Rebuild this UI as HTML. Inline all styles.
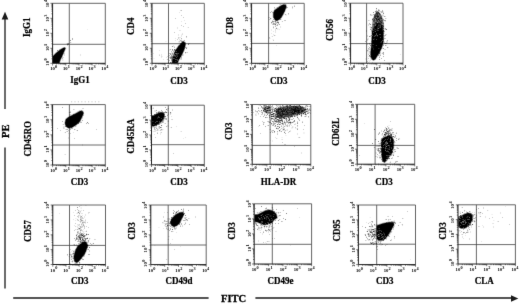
<!DOCTYPE html><html><head><meta charset="utf-8"><style>html,body{margin:0;padding:0;background:#fff;width:520px;height:304px;overflow:hidden}svg{display:block}text{font-family:"Liberation Serif",serif}</style></head><body>
<svg width="520" height="304" viewBox="0 0 520 304">
<rect width="520" height="304" fill="#fff"/>
<defs><filter id="bl" x="0" y="0" width="520" height="304" filterUnits="userSpaceOnUse" color-interpolation-filters="sRGB"><feConvolveMatrix order="3" kernelMatrix="0.0049 0.0602 0.0049 0.0602 0.7396 0.0602 0.0049 0.0602 0.0049" preserveAlpha="true" edgeMode="duplicate"/></filter></defs>
<g filter="url(#bl)">
<rect width="520" height="304" fill="#fff"/>
<g stroke="#1a1a1a" stroke-width="1.3" fill="none">
<line x1="5" y1="18" x2="5" y2="109"/><line x1="5" y1="147.5" x2="5" y2="288.5"/>
<line x1="13.2" y1="298" x2="208.6" y2="298"/><line x1="255.4" y1="298" x2="512" y2="298"/>
</g>
<path d="M5 11.8 L8.3 19.4 L1.7 19.4 Z" fill="#1a1a1a"/>
<path d="M518.3 298.5 L511 295.3 L511 301.7 Z" fill="#1a1a1a"/>
<line x1="71" y1="101.8" x2="100" y2="101.8" stroke="#bbb" stroke-width="0.8" stroke-dasharray="1.2 2.2"/>
<text x="0" y="0" font-size="10.6" font-weight="bold" stroke="#000" stroke-width="0.3" text-anchor="middle" transform="translate(9.4,131.2) rotate(-90)">PE</text>
<text x="233.6" y="302.4" font-size="10.6" font-weight="bold" stroke="#000" stroke-width="0.3" text-anchor="middle">FITC</text>
<clipPath id="c0"><rect x="52.6" y="3.3" width="52.7" height="60"/></clipPath>
<g stroke="#444" stroke-width="0.8" fill="none">
<line x1="69.3" y1="3.3" x2="69.3" y2="63.3"/>
<line x1="52.6" y1="44.3" x2="105.3" y2="44.3"/>
</g>
<g clip-path="url(#c0)">
<path fill="#000" stroke="#000" stroke-opacity="0.35" stroke-width="1.4" stroke-linejoin="round" d="M53 63.2 L53 56.2 L53.5 55.7 L55.9 53.3 L58.9 50.8 L61.8 48.8 L64.3 47.6 L65.5 48.2 L63.8 52.3 L61.8 56.7 L59.9 60.7 L59.4 63.2Z"/>
<path fill="#000" d="M60.57 55.48h0.6v0.6h-0.6zM57.77 54.2h0.6v0.6h-0.6zM57.22 54.45h0.6v0.6h-0.6zM62.68 57.02h0.6v0.6h-0.6zM57.86 55.13h0.6v0.6h-0.6zM61.63 54.45h0.6v0.6h-0.6zM58.42 53.26h0.6v0.6h-0.6zM61.28 56.18h0.6v0.6h-0.6zM56.53 57.35h0.6v0.6h-0.6zM53.86 57.3h0.6v0.6h-0.6zM56 58.85h0.6v0.6h-0.6zM58.08 58.35h0.6v0.6h-0.6zM59.94 54.34h0.6v0.6h-0.6zM54.12 59.92h0.6v0.6h-0.6zM60.12 55.29h0.6v0.6h-0.6zM56.13 57.75h0.6v0.6h-0.6zM56.56 55.95h0.6v0.6h-0.6zM60.5 51.26h0.6v0.6h-0.6zM61.63 56.5h0.6v0.6h-0.6zM58.66 56.16h0.6v0.6h-0.6zM60.34 54.85h0.6v0.6h-0.6zM57.78 57.94h0.6v0.6h-0.6zM59.66 49.39h0.6v0.6h-0.6zM61.89 53.22h0.6v0.6h-0.6zM62.59 59.69h0.6v0.6h-0.6zM59.17 51.32h0.6v0.6h-0.6zM61.25 55.76h0.6v0.6h-0.6zM60.94 56.53h0.6v0.6h-0.6zM61.15 56.23h0.6v0.6h-0.6zM61.48 50.61h0.6v0.6h-0.6zM59.5 53.79h0.6v0.6h-0.6zM57.97 52.8h0.6v0.6h-0.6zM58.51 56.02h0.6v0.6h-0.6zM63.93 54.77h0.6v0.6h-0.6zM55.93 56.76h0.6v0.6h-0.6zM57.43 50.31h0.6v0.6h-0.6zM58.92 55.91h0.6v0.6h-0.6zM63.74 53.22h0.6v0.6h-0.6zM58.66 55.16h0.6v0.6h-0.6zM62.44 58.02h0.6v0.6h-0.6zM67.03 44.54h0.6v0.6h-0.6zM68.54 43.29h0.6v0.6h-0.6zM66.86 43.56h0.6v0.6h-0.6zM67.67 43.71h0.6v0.6h-0.6zM70.52 42.4h0.6v0.6h-0.6zM68.43 44.52h0.6v0.6h-0.6zM72.26 39.22h0.6v0.6h-0.6zM72.4 38.42h0.6v0.6h-0.6zM70.42 40.07h0.6v0.6h-0.6z"/>
<path fill="#000" d="M60.14 60.13h0.4v0.4h-0.4zM86.89 29.41h0.4v0.4h-0.4zM80.19 54.75h0.4v0.4h-0.4z"/>
</g>
<path d="M52.6 3.3H105.3V63.3" stroke="#555" stroke-width="0.9" fill="none"/>
<path d="M52.6 3.3V63.3H105.3" stroke="#222" stroke-width="1.0" fill="none"/>
<path d="M52.6 63.3v2.2M52.6 63.3h-2.2M56.6 63.3v1.2M52.6 58.8h-1.2M58.9 63.3v1.2M52.6 56.1h-1.2M60.5 63.3v1.2M52.6 54.3h-1.2M61.8 63.3v1.2M52.6 52.8h-1.2M62.9 63.3v1.2M52.6 51.6h-1.2M63.7 63.3v1.2M52.6 50.6h-1.2M64.5 63.3v1.2M52.6 49.8h-1.2M65.2 63.3v1.2M52.6 49h-1.2M65.8 63.3v2.2M52.6 48.3h-2.2M69.7 63.3v1.2M52.6 43.8h-1.2M72.1 63.3v1.2M52.6 41.1h-1.2M73.7 63.3v1.2M52.6 39.3h-1.2M75 63.3v1.2M52.6 37.8h-1.2M76 63.3v1.2M52.6 36.6h-1.2M76.9 63.3v1.2M52.6 35.6h-1.2M77.7 63.3v1.2M52.6 34.8h-1.2M78.3 63.3v1.2M52.6 34h-1.2M79 63.3v2.2M52.6 33.3h-2.2M82.9 63.3v1.2M52.6 28.8h-1.2M85.2 63.3v1.2M52.6 26.1h-1.2M86.9 63.3v1.2M52.6 24.3h-1.2M88.2 63.3v1.2M52.6 22.8h-1.2M89.2 63.3v1.2M52.6 21.6h-1.2M90.1 63.3v1.2M52.6 20.6h-1.2M90.8 63.3v1.2M52.6 19.8h-1.2M91.5 63.3v1.2M52.6 19h-1.2M92.1 63.3v2.2M52.6 18.3h-2.2M96.1 63.3v1.2M52.6 13.8h-1.2M98.4 63.3v1.2M52.6 11.1h-1.2M100.1 63.3v1.2M52.6 9.3h-1.2M101.3 63.3v1.2M52.6 7.8h-1.2M102.4 63.3v1.2M52.6 6.6h-1.2M103.3 63.3v1.2M52.6 5.6h-1.2M104 63.3v1.2M52.6 4.8h-1.2M104.7 63.3v1.2M52.6 4h-1.2M105.3 63.3v2.2M52.6 3.3h-2.2" stroke="#222" stroke-width="0.6" fill="none"/>
<text x="52.5" y="70.4" font-size="4.7" fill="#000" font-weight="bold" text-anchor="middle">10</text>
<text x="55" y="68.2" font-size="4.3" fill="#000" font-weight="bold">0</text>
<text font-size="4.7" fill="#000" font-weight="bold" text-anchor="middle" transform="translate(48.9,63.3) rotate(-90)">10</text>
<text font-size="4.3" fill="#000" font-weight="bold" transform="translate(46.9,60.5) rotate(-90)">0</text>
<text x="65.3" y="70.4" font-size="4.7" fill="#000" font-weight="bold" text-anchor="middle">10</text>
<text x="67.8" y="68.2" font-size="4.3" fill="#000" font-weight="bold">1</text>
<text font-size="4.7" fill="#000" font-weight="bold" text-anchor="middle" transform="translate(48.9,48.7) rotate(-90)">10</text>
<text font-size="4.3" fill="#000" font-weight="bold" transform="translate(46.9,45.9) rotate(-90)">1</text>
<text x="78.1" y="70.4" font-size="4.7" fill="#000" font-weight="bold" text-anchor="middle">10</text>
<text x="80.6" y="68.2" font-size="4.3" fill="#000" font-weight="bold">2</text>
<text font-size="4.7" fill="#000" font-weight="bold" text-anchor="middle" transform="translate(48.9,34.1) rotate(-90)">10</text>
<text font-size="4.3" fill="#000" font-weight="bold" transform="translate(46.9,31.3) rotate(-90)">2</text>
<text x="90.9" y="70.4" font-size="4.7" fill="#000" font-weight="bold" text-anchor="middle">10</text>
<text x="93.4" y="68.2" font-size="4.3" fill="#000" font-weight="bold">3</text>
<text font-size="4.7" fill="#000" font-weight="bold" text-anchor="middle" transform="translate(48.9,19.5) rotate(-90)">10</text>
<text font-size="4.3" fill="#000" font-weight="bold" transform="translate(46.9,16.7) rotate(-90)">3</text>
<text x="103.7" y="70.4" font-size="4.7" fill="#000" font-weight="bold" text-anchor="middle">10</text>
<text x="106.2" y="68.2" font-size="4.3" fill="#000" font-weight="bold">4</text>
<text font-size="4.7" fill="#000" font-weight="bold" text-anchor="middle" transform="translate(48.9,4.9) rotate(-90)">10</text>
<text font-size="4.3" fill="#000" font-weight="bold" transform="translate(46.9,2.1) rotate(-90)">4</text>
<text font-size="9.0" font-weight="bold" stroke="#000" stroke-width="0.2" text-anchor="middle" transform="translate(30,27.2) rotate(-90) scale(1,1.1)">IgG1</text>
<text font-size="9.0" font-weight="bold" stroke="#000" stroke-width="0.2" text-anchor="middle" transform="translate(80,83.3) scale(1,1.1)">IgG1</text>
<clipPath id="c1"><rect x="152" y="3.3" width="52.3" height="60"/></clipPath>
<g stroke="#444" stroke-width="0.8" fill="none">
<line x1="168.5" y1="3.3" x2="168.5" y2="63.3"/>
<line x1="152" y1="43.7" x2="204.3" y2="43.7"/>
</g>
<g clip-path="url(#c1)">
<path fill="#000" stroke="#000" stroke-opacity="0.35" stroke-width="1.4" stroke-linejoin="round" d="M183.2 41.2 L185.4 42.9 L185.2 45.9 L183.7 50.8 L181.3 55.7 L178.8 59.7 L177.6 63 L172.2 63 L172.3 59.7 L173.8 54.7 L176 49.8 L178.3 46.4 L181 43.4Z"/>
<path fill="#000" d="M173.8 56.7h0.6v0.6h-0.6zM180.37 51.97h0.6v0.6h-0.6zM177.14 53.28h0.6v0.6h-0.6zM182.08 48.94h0.6v0.6h-0.6zM174.68 58.77h0.6v0.6h-0.6zM175.44 50.7h0.6v0.6h-0.6zM176.73 49.61h0.6v0.6h-0.6zM182.04 46.78h0.6v0.6h-0.6zM176.92 51.06h0.6v0.6h-0.6zM172.27 50.23h0.6v0.6h-0.6zM175.61 60.04h0.6v0.6h-0.6zM173.7 66.93h0.6v0.6h-0.6zM174.7 64.43h0.6v0.6h-0.6zM177.72 58.9h0.6v0.6h-0.6zM174.39 49.38h0.6v0.6h-0.6zM186.48 46.95h0.6v0.6h-0.6zM177.31 52.5h0.6v0.6h-0.6zM175.02 52.02h0.6v0.6h-0.6zM180.38 44.89h0.6v0.6h-0.6zM175.89 51.62h0.6v0.6h-0.6zM172.63 54.45h0.6v0.6h-0.6zM182 44.5h0.6v0.6h-0.6zM181.51 46.55h0.6v0.6h-0.6zM175.09 56.3h0.6v0.6h-0.6zM176.48 55.97h0.6v0.6h-0.6zM176.22 54.37h0.6v0.6h-0.6zM171.49 59.81h0.6v0.6h-0.6zM181.84 41.27h0.6v0.6h-0.6zM175.79 59.52h0.6v0.6h-0.6zM178.82 41.62h0.6v0.6h-0.6zM175.83 52.84h0.6v0.6h-0.6zM174.59 64.49h0.6v0.6h-0.6zM178.42 52.75h0.6v0.6h-0.6zM177.11 57.83h0.6v0.6h-0.6zM176.12 55.62h0.6v0.6h-0.6zM171.22 57.52h0.6v0.6h-0.6zM181.26 43.48h0.6v0.6h-0.6zM179.16 50.65h0.6v0.6h-0.6zM175.42 54.46h0.6v0.6h-0.6zM179.52 48.15h0.6v0.6h-0.6zM177.87 53.47h0.6v0.6h-0.6zM184.09 46.25h0.6v0.6h-0.6zM177.97 49.29h0.6v0.6h-0.6zM176.44 62.47h0.6v0.6h-0.6zM181.08 46.32h0.6v0.6h-0.6zM182.29 50.32h0.6v0.6h-0.6zM183.63 48.75h0.6v0.6h-0.6zM181.08 57.59h0.6v0.6h-0.6zM176.64 61.5h0.6v0.6h-0.6zM182.39 50.76h0.6v0.6h-0.6zM188.67 43.12h0.6v0.6h-0.6zM169.77 57.04h0.6v0.6h-0.6zM178.12 45.93h0.6v0.6h-0.6zM180.63 53.84h0.6v0.6h-0.6zM166.94 59.49h0.6v0.6h-0.6zM179.28 50.96h0.6v0.6h-0.6zM177.6 54.08h0.6v0.6h-0.6zM171.2 55.54h0.6v0.6h-0.6zM175.01 52.07h0.6v0.6h-0.6zM174.33 63.42h0.6v0.6h-0.6zM179.25 53.49h0.6v0.6h-0.6zM173.19 57.63h0.6v0.6h-0.6zM172.51 57.34h0.6v0.6h-0.6zM176.73 50.12h0.6v0.6h-0.6zM180.43 50.81h0.6v0.6h-0.6zM181.02 37.89h0.6v0.6h-0.6zM180.97 46.88h0.6v0.6h-0.6zM174.16 50.41h0.6v0.6h-0.6zM178.89 56.46h0.6v0.6h-0.6zM178.26 53.13h0.6v0.6h-0.6zM180.61 56.03h0.6v0.6h-0.6zM172.01 49.33h0.6v0.6h-0.6zM170.46 53.82h0.6v0.6h-0.6zM166.12 71.8h0.6v0.6h-0.6zM182.82 44.33h0.6v0.6h-0.6zM171.79 58.33h0.6v0.6h-0.6zM182.46 45.75h0.6v0.6h-0.6zM178.31 52.12h0.6v0.6h-0.6zM180.7 53.47h0.6v0.6h-0.6zM180.73 49.41h0.6v0.6h-0.6zM176.32 59.71h0.6v0.6h-0.6zM179.14 58.37h0.6v0.6h-0.6zM173.73 60.15h0.6v0.6h-0.6zM174.53 50.56h0.6v0.6h-0.6zM188.09 44.05h0.6v0.6h-0.6zM178.96 56.52h0.6v0.6h-0.6zM172.16 46.23h0.6v0.6h-0.6zM178.95 50.86h0.6v0.6h-0.6zM175.53 50.37h0.6v0.6h-0.6zM176.91 53.9h0.6v0.6h-0.6zM183.15 45.66h0.6v0.6h-0.6zM182.6 54.83h0.6v0.6h-0.6zM175.37 55.35h0.6v0.6h-0.6zM176.76 66.09h0.6v0.6h-0.6zM184.06 47.92h0.6v0.6h-0.6zM180.81 48.53h0.6v0.6h-0.6zM178.3 50.79h0.6v0.6h-0.6zM177.78 53.84h0.6v0.6h-0.6zM184.84 43.99h0.6v0.6h-0.6zM176.47 51.99h0.6v0.6h-0.6zM180.74 58.83h0.6v0.6h-0.6zM180.16 49.47h0.6v0.6h-0.6zM174.03 52.97h0.6v0.6h-0.6zM180.55 54.23h0.6v0.6h-0.6zM176.37 54.58h0.6v0.6h-0.6zM177.88 54.03h0.6v0.6h-0.6zM172.4 61.99h0.6v0.6h-0.6zM177.99 59.11h0.6v0.6h-0.6zM177.4 58.13h0.6v0.6h-0.6zM182.42 42.61h0.6v0.6h-0.6zM176.86 56.51h0.6v0.6h-0.6zM175.49 51.02h0.6v0.6h-0.6zM185.51 52.68h0.6v0.6h-0.6zM176.88 53.79h0.6v0.6h-0.6zM175.77 59.44h0.6v0.6h-0.6zM171.07 58.54h0.6v0.6h-0.6zM179.95 43.23h0.6v0.6h-0.6zM186.16 48.11h0.6v0.6h-0.6zM180.72 51.73h0.6v0.6h-0.6zM184.16 40.14h0.6v0.6h-0.6zM172.53 54.13h0.6v0.6h-0.6zM182.62 54.46h0.6v0.6h-0.6zM178.79 45.15h0.6v0.6h-0.6zM174.06 57.03h0.6v0.6h-0.6zM178.68 50.39h0.6v0.6h-0.6zM179.84 51.62h0.6v0.6h-0.6zM177.2 54.29h0.6v0.6h-0.6zM178.74 51.1h0.6v0.6h-0.6zM185.24 52.2h0.6v0.6h-0.6zM180.4 48.93h0.6v0.6h-0.6zM173.86 63.5h0.6v0.6h-0.6zM167.92 62.41h0.6v0.6h-0.6zM183.1 48.28h0.6v0.6h-0.6zM172.98 50.86h0.6v0.6h-0.6zM175.16 53.78h0.6v0.6h-0.6zM186.77 51.96h0.6v0.6h-0.6zM176.81 49.99h0.6v0.6h-0.6zM174.29 59.65h0.6v0.6h-0.6zM174.47 51.86h0.6v0.6h-0.6zM175.43 50.05h0.6v0.6h-0.6zM184.96 47.22h0.6v0.6h-0.6zM180.53 45.08h0.6v0.6h-0.6zM179.62 49.12h0.6v0.6h-0.6zM176.06 54.39h0.6v0.6h-0.6zM169.95 58.36h0.6v0.6h-0.6zM180.37 47.3h0.6v0.6h-0.6zM181.84 52.67h0.6v0.6h-0.6zM170.39 62.03h0.6v0.6h-0.6zM179.98 52.01h0.6v0.6h-0.6zM179.97 56.38h0.6v0.6h-0.6zM175.56 49.38h0.6v0.6h-0.6zM177.52 59.46h0.6v0.6h-0.6zM174.46 46.78h0.6v0.6h-0.6zM184.42 45.07h0.6v0.6h-0.6zM181.63 43.62h0.6v0.6h-0.6zM174.15 52.64h0.6v0.6h-0.6zM186.14 36.56h0.6v0.6h-0.6zM181.69 41.72h0.6v0.6h-0.6zM174.12 48.98h0.6v0.6h-0.6zM179.82 56.34h0.6v0.6h-0.6z"/>
<path fill="#000" d="M172.15 53.11h0.5v0.5h-0.5zM169.68 49.66h0.5v0.5h-0.5zM174.29 55.72h0.5v0.5h-0.5zM171.87 56.88h0.5v0.5h-0.5zM171.74 57.2h0.5v0.5h-0.5zM174.36 52.84h0.5v0.5h-0.5zM169.16 52.95h0.5v0.5h-0.5zM169.5 59.99h0.5v0.5h-0.5zM172.73 53.15h0.5v0.5h-0.5zM169.41 55.58h0.5v0.5h-0.5zM173.59 45.72h0.5v0.5h-0.5zM172.29 52.7h0.5v0.5h-0.5zM173.06 52.69h0.5v0.5h-0.5zM171.07 50.97h0.5v0.5h-0.5zM170.03 62.54h0.5v0.5h-0.5zM172.73 55.39h0.5v0.5h-0.5zM170.19 49.42h0.5v0.5h-0.5zM170.91 56.88h0.5v0.5h-0.5zM171.37 56.62h0.5v0.5h-0.5zM169.82 56.73h0.5v0.5h-0.5zM171.44 62.16h0.5v0.5h-0.5zM174.3 56.45h0.5v0.5h-0.5zM170.35 56.74h0.5v0.5h-0.5zM170.59 54.03h0.5v0.5h-0.5zM171.41 52.83h0.5v0.5h-0.5zM172.41 56.58h0.5v0.5h-0.5zM171.88 56.27h0.5v0.5h-0.5zM170.41 53.21h0.5v0.5h-0.5zM171.14 54.8h0.5v0.5h-0.5zM171.85 56.98h0.5v0.5h-0.5z"/>
<path fill="#000" d="M175.41 40.17h0.4v0.4h-0.4zM175.47 38.46h0.4v0.4h-0.4zM178.62 34.81h0.4v0.4h-0.4zM179.77 40.38h0.4v0.4h-0.4zM179.03 38.94h0.4v0.4h-0.4zM178.38 37.56h0.4v0.4h-0.4zM178.69 38.62h0.4v0.4h-0.4zM179.78 36.99h0.4v0.4h-0.4zM180.21 40.36h0.4v0.4h-0.4zM179.08 38.9h0.4v0.4h-0.4zM181.16 35.84h0.4v0.4h-0.4zM180.88 40.61h0.4v0.4h-0.4zM180.35 40.96h0.4v0.4h-0.4zM177.54 39.35h0.4v0.4h-0.4zM181.41 41.08h0.4v0.4h-0.4zM180.72 10.37h0.4v0.4h-0.4zM181.88 34.53h0.4v0.4h-0.4zM183.53 26.1h0.4v0.4h-0.4zM174.55 32.48h0.4v0.4h-0.4zM179.48 1.21h0.4v0.4h-0.4zM181.32 10.57h0.4v0.4h-0.4zM175.46 18.29h0.4v0.4h-0.4zM184.45 20.66h0.4v0.4h-0.4zM180.95 39.73h0.4v0.4h-0.4zM185.58 23.07h0.4v0.4h-0.4zM179.15 12.65h0.4v0.4h-0.4zM177.57 27.83h0.4v0.4h-0.4zM181.39 24.99h0.4v0.4h-0.4zM183.48 17.05h0.4v0.4h-0.4zM179.8 30.58h0.4v0.4h-0.4zM182.04 33.64h0.4v0.4h-0.4zM181.39 21.22h0.4v0.4h-0.4zM181.27 14.98h0.4v0.4h-0.4zM153.8 57.9h0.4v0.4h-0.4zM161.72 56.54h0.4v0.4h-0.4zM153.51 53.17h0.4v0.4h-0.4zM159 50.68h0.4v0.4h-0.4zM150.72 53.33h0.4v0.4h-0.4zM166.49 56.9h0.4v0.4h-0.4zM159 54.93h0.4v0.4h-0.4zM165.78 41.2h0.4v0.4h-0.4zM161.38 57.72h0.4v0.4h-0.4zM165.41 63.5h0.4v0.4h-0.4zM167.68 56.56h0.4v0.4h-0.4zM163.51 58.93h0.4v0.4h-0.4zM159.3 54.8h0.4v0.4h-0.4zM166.53 64.79h0.4v0.4h-0.4zM161.2 54.76h0.4v0.4h-0.4zM184.78 47.2h0.4v0.4h-0.4zM171.91 46.32h0.4v0.4h-0.4zM187.92 27.09h0.4v0.4h-0.4z"/>
<path fill="#fff" d="M175.67 61.3h0.5v0.5h-0.5zM175.82 53.36h0.5v0.5h-0.5zM175.1 55.8h0.5v0.5h-0.5zM175.77 55.27h0.5v0.5h-0.5zM174.74 56.51h0.5v0.5h-0.5zM173.22 53.39h0.5v0.5h-0.5zM177.48 59.93h0.5v0.5h-0.5zM173.92 57.95h0.5v0.5h-0.5zM174.23 54.19h0.5v0.5h-0.5zM177.32 54.77h0.5v0.5h-0.5zM178.1 53.51h0.5v0.5h-0.5zM176.88 56.01h0.5v0.5h-0.5zM175.93 59.4h0.5v0.5h-0.5zM176.96 59.08h0.5v0.5h-0.5zM175.12 53.46h0.5v0.5h-0.5zM176.39 57.23h0.5v0.5h-0.5zM177.04 53.43h0.5v0.5h-0.5zM174.37 51.36h0.5v0.5h-0.5zM176.31 53.04h0.5v0.5h-0.5zM173.37 57.92h0.5v0.5h-0.5zM176.55 51.31h0.5v0.5h-0.5zM173.77 55.23h0.5v0.5h-0.5zM175.04 58.94h0.5v0.5h-0.5zM174.27 55.12h0.5v0.5h-0.5zM176.58 54.16h0.5v0.5h-0.5z"/>
</g>
<path d="M152 3.3H204.3V63.3" stroke="#555" stroke-width="0.9" fill="none"/>
<path d="M152 3.3V63.3H204.3" stroke="#222" stroke-width="1.0" fill="none"/>
<path d="M152 63.3v2.2M152 63.3h-2.2M155.9 63.3v1.2M152 58.8h-1.2M158.2 63.3v1.2M152 56.1h-1.2M159.9 63.3v1.2M152 54.3h-1.2M161.1 63.3v1.2M152 52.8h-1.2M162.2 63.3v1.2M152 51.6h-1.2M163 63.3v1.2M152 50.6h-1.2M163.8 63.3v1.2M152 49.8h-1.2M164.5 63.3v1.2M152 49h-1.2M165.1 63.3v2.2M152 48.3h-2.2M169 63.3v1.2M152 43.8h-1.2M171.3 63.3v1.2M152 41.1h-1.2M172.9 63.3v1.2M152 39.3h-1.2M174.2 63.3v1.2M152 37.8h-1.2M175.2 63.3v1.2M152 36.6h-1.2M176.1 63.3v1.2M152 35.6h-1.2M176.9 63.3v1.2M152 34.8h-1.2M177.6 63.3v1.2M152 34h-1.2M178.2 63.3v2.2M152 33.3h-2.2M182.1 63.3v1.2M152 28.8h-1.2M184.4 63.3v1.2M152 26.1h-1.2M186 63.3v1.2M152 24.3h-1.2M187.3 63.3v1.2M152 22.8h-1.2M188.3 63.3v1.2M152 21.6h-1.2M189.2 63.3v1.2M152 20.6h-1.2M190 63.3v1.2M152 19.8h-1.2M190.6 63.3v1.2M152 19h-1.2M191.2 63.3v2.2M152 18.3h-2.2M195.2 63.3v1.2M152 13.8h-1.2M197.5 63.3v1.2M152 11.1h-1.2M199.1 63.3v1.2M152 9.3h-1.2M200.4 63.3v1.2M152 7.8h-1.2M201.4 63.3v1.2M152 6.6h-1.2M202.3 63.3v1.2M152 5.6h-1.2M203 63.3v1.2M152 4.8h-1.2M203.7 63.3v1.2M152 4h-1.2M204.3 63.3v2.2M152 3.3h-2.2" stroke="#222" stroke-width="0.6" fill="none"/>
<text x="151.9" y="70.4" font-size="4.7" fill="#000" font-weight="bold" text-anchor="middle">10</text>
<text x="154.4" y="68.2" font-size="4.3" fill="#000" font-weight="bold">0</text>
<text font-size="4.7" fill="#000" font-weight="bold" text-anchor="middle" transform="translate(148.3,63.3) rotate(-90)">10</text>
<text font-size="4.3" fill="#000" font-weight="bold" transform="translate(146.3,60.5) rotate(-90)">0</text>
<text x="164.6" y="70.4" font-size="4.7" fill="#000" font-weight="bold" text-anchor="middle">10</text>
<text x="167.1" y="68.2" font-size="4.3" fill="#000" font-weight="bold">1</text>
<text font-size="4.7" fill="#000" font-weight="bold" text-anchor="middle" transform="translate(148.3,48.7) rotate(-90)">10</text>
<text font-size="4.3" fill="#000" font-weight="bold" transform="translate(146.3,45.9) rotate(-90)">1</text>
<text x="177.3" y="70.4" font-size="4.7" fill="#000" font-weight="bold" text-anchor="middle">10</text>
<text x="179.8" y="68.2" font-size="4.3" fill="#000" font-weight="bold">2</text>
<text font-size="4.7" fill="#000" font-weight="bold" text-anchor="middle" transform="translate(148.3,34.1) rotate(-90)">10</text>
<text font-size="4.3" fill="#000" font-weight="bold" transform="translate(146.3,31.3) rotate(-90)">2</text>
<text x="190" y="70.4" font-size="4.7" fill="#000" font-weight="bold" text-anchor="middle">10</text>
<text x="192.5" y="68.2" font-size="4.3" fill="#000" font-weight="bold">3</text>
<text font-size="4.7" fill="#000" font-weight="bold" text-anchor="middle" transform="translate(148.3,19.5) rotate(-90)">10</text>
<text font-size="4.3" fill="#000" font-weight="bold" transform="translate(146.3,16.7) rotate(-90)">3</text>
<text x="202.7" y="70.4" font-size="4.7" fill="#000" font-weight="bold" text-anchor="middle">10</text>
<text x="205.2" y="68.2" font-size="4.3" fill="#000" font-weight="bold">4</text>
<text font-size="4.7" fill="#000" font-weight="bold" text-anchor="middle" transform="translate(148.3,4.9) rotate(-90)">10</text>
<text font-size="4.3" fill="#000" font-weight="bold" transform="translate(146.3,2.1) rotate(-90)">4</text>
<text font-size="9.0" font-weight="bold" stroke="#000" stroke-width="0.2" text-anchor="middle" transform="translate(134.2,26.2) rotate(-90) scale(1,1.1)">CD4</text>
<text font-size="9.0" font-weight="bold" stroke="#000" stroke-width="0.2" text-anchor="middle" transform="translate(178.9,83.5) scale(1,1.1)">CD3</text>
<clipPath id="c2"><rect x="251.6" y="3.3" width="52.6" height="60"/></clipPath>
<g stroke="#444" stroke-width="0.8" fill="none">
<line x1="268.6" y1="3.3" x2="268.6" y2="63.3"/>
<line x1="251.6" y1="43.4" x2="304.2" y2="43.4"/>
</g>
<g clip-path="url(#c2)">
<path fill="#000" stroke="#000" stroke-opacity="0.35" stroke-width="1.4" stroke-linejoin="round" d="M285.7 4.9 L286.3 6.4 L284.7 10.9 L282.3 15.8 L279.8 19.2 L276.8 20.7 L274.9 19.7 L273.4 16.8 L273.4 12.8 L274.9 9.9 L277.8 7.9 L281.3 5.4 L283.8 4.4Z"/>
<path fill="#000" d="M280.78 15.26h0.6v0.6h-0.6zM279.82 3.9h0.6v0.6h-0.6zM276.58 17.81h0.6v0.6h-0.6zM272.67 12.35h0.6v0.6h-0.6zM285.16 8.44h0.6v0.6h-0.6zM280.29 8.97h0.6v0.6h-0.6zM283.16 6.84h0.6v0.6h-0.6zM281.64 4.99h0.6v0.6h-0.6zM276.48 17.21h0.6v0.6h-0.6zM278.38 17.52h0.6v0.6h-0.6zM278.11 9.13h0.6v0.6h-0.6zM278.86 11.35h0.6v0.6h-0.6zM281.63 6.52h0.6v0.6h-0.6zM280.91 17.41h0.6v0.6h-0.6zM294.21 5.85h0.6v0.6h-0.6zM280.35 12.68h0.6v0.6h-0.6zM285.57 4.58h0.6v0.6h-0.6zM275.73 17.62h0.6v0.6h-0.6zM279.16 8.39h0.6v0.6h-0.6zM268.77 17.46h0.6v0.6h-0.6zM280.25 7.48h0.6v0.6h-0.6zM279.48 13.68h0.6v0.6h-0.6zM281.19 8.66h0.6v0.6h-0.6zM279.2 8.01h0.6v0.6h-0.6zM275.24 12h0.6v0.6h-0.6zM284.16 6.8h0.6v0.6h-0.6zM275.47 15.39h0.6v0.6h-0.6zM280.45 15.18h0.6v0.6h-0.6zM270.05 18.11h0.6v0.6h-0.6zM284.71 20.08h0.6v0.6h-0.6zM283.19 7.49h0.6v0.6h-0.6zM287.99 13.58h0.6v0.6h-0.6zM277.54 12.84h0.6v0.6h-0.6zM285.89 7.58h0.6v0.6h-0.6zM280.94 8.01h0.6v0.6h-0.6zM292.12 6.76h0.6v0.6h-0.6zM283.7 11.22h0.6v0.6h-0.6zM272.74 24.03h0.6v0.6h-0.6zM279.85 14.44h0.6v0.6h-0.6zM281.44 8.33h0.6v0.6h-0.6zM273.42 21.75h0.6v0.6h-0.6zM275.52 15.45h0.6v0.6h-0.6zM276.06 14.74h0.6v0.6h-0.6zM273.11 26.74h0.6v0.6h-0.6zM283.54 13.74h0.6v0.6h-0.6zM287.83 2.69h0.6v0.6h-0.6zM269.57 19.46h0.6v0.6h-0.6zM273.11 17.38h0.6v0.6h-0.6zM274.46 7.6h0.6v0.6h-0.6zM276.88 7.4h0.6v0.6h-0.6zM280.45 10.77h0.6v0.6h-0.6zM277.99 13.9h0.6v0.6h-0.6zM275.6 13.81h0.6v0.6h-0.6zM272.39 20.81h0.6v0.6h-0.6zM292.52 7.77h0.6v0.6h-0.6zM286.92 7.51h0.6v0.6h-0.6zM280.54 19.11h0.6v0.6h-0.6zM279.08 12.62h0.6v0.6h-0.6zM278.53 14.16h0.6v0.6h-0.6zM277.46 14.48h0.6v0.6h-0.6zM273.97 17.06h0.6v0.6h-0.6zM288.84 0.99h0.6v0.6h-0.6zM279.93 14.89h0.6v0.6h-0.6zM279.47 6.47h0.6v0.6h-0.6zM281.1 15.6h0.6v0.6h-0.6zM280.95 11.43h0.6v0.6h-0.6zM284.18 3.24h0.6v0.6h-0.6zM278.45 10.92h0.6v0.6h-0.6zM280.49 0.69h0.6v0.6h-0.6zM275.28 14.65h0.6v0.6h-0.6zM283.9 10.56h0.6v0.6h-0.6zM281.11 2.01h0.6v0.6h-0.6zM281.85 8.1h0.6v0.6h-0.6zM278.17 17.03h0.6v0.6h-0.6zM270.09 12.41h0.6v0.6h-0.6zM273.94 10.97h0.6v0.6h-0.6zM277.78 16.57h0.6v0.6h-0.6zM285.06 14.52h0.6v0.6h-0.6zM274.55 10.04h0.6v0.6h-0.6zM273.88 14.2h0.6v0.6h-0.6zM275.58 19.54h0.6v0.6h-0.6zM271.5 11.26h0.6v0.6h-0.6zM282.11 8.78h0.6v0.6h-0.6zM281.27 10.96h0.6v0.6h-0.6zM282.24 9.44h0.6v0.6h-0.6zM285.8 7.3h0.6v0.6h-0.6zM282.24 11.47h0.6v0.6h-0.6zM272.97 19.38h0.6v0.6h-0.6zM278.97 14.26h0.6v0.6h-0.6zM278.2 22.94h0.6v0.6h-0.6z"/>
<path fill="#000" d="M275.76 20.47h0.5v0.5h-0.5zM271.23 22.8h0.5v0.5h-0.5zM275.28 21.7h0.5v0.5h-0.5zM275.73 21.9h0.5v0.5h-0.5zM276.88 21.69h0.5v0.5h-0.5zM275.4 25.95h0.5v0.5h-0.5zM281.93 20.98h0.5v0.5h-0.5zM274.34 21.4h0.5v0.5h-0.5zM277.46 20.63h0.5v0.5h-0.5zM274.29 23.43h0.5v0.5h-0.5zM273.05 21.11h0.5v0.5h-0.5zM274.31 18.25h0.5v0.5h-0.5zM271.89 22.47h0.5v0.5h-0.5zM275.87 23.04h0.5v0.5h-0.5zM271.07 22.34h0.5v0.5h-0.5zM277.5 24.89h0.5v0.5h-0.5zM275.3 21.28h0.5v0.5h-0.5zM277.08 22.05h0.5v0.5h-0.5zM272.58 21.49h0.5v0.5h-0.5zM279.12 24.05h0.5v0.5h-0.5zM278.4 22.3h0.5v0.5h-0.5zM277.85 22h0.5v0.5h-0.5zM275.11 29.72h0.5v0.5h-0.5zM277.42 22.25h0.5v0.5h-0.5zM275.29 24.32h0.5v0.5h-0.5zM278.53 22.28h0.5v0.5h-0.5zM271.15 22.8h0.5v0.5h-0.5zM275.54 23.77h0.5v0.5h-0.5zM278.79 24.29h0.5v0.5h-0.5zM277.53 20.75h0.5v0.5h-0.5zM277.67 28.74h0.5v0.5h-0.5zM277.43 24.13h0.5v0.5h-0.5zM275.88 27.97h0.5v0.5h-0.5zM273.18 23.22h0.5v0.5h-0.5zM276.65 25.36h0.5v0.5h-0.5zM274.41 24.27h0.5v0.5h-0.5zM274.81 23.8h0.5v0.5h-0.5zM275.17 20.65h0.5v0.5h-0.5zM275.45 25.69h0.5v0.5h-0.5zM273.08 22.9h0.5v0.5h-0.5z"/>
<path fill="#000" d="M274.99 24.58h0.4v0.4h-0.4zM273.55 24.64h0.4v0.4h-0.4zM276.4 44.88h0.4v0.4h-0.4zM279.07 29.68h0.4v0.4h-0.4zM275.22 31.73h0.4v0.4h-0.4zM273.31 40.29h0.4v0.4h-0.4zM269.04 37.33h0.4v0.4h-0.4zM272.85 39.45h0.4v0.4h-0.4zM273.56 26.96h0.4v0.4h-0.4zM273.83 35.42h0.4v0.4h-0.4zM273.11 33.93h0.4v0.4h-0.4zM271.43 18.2h0.4v0.4h-0.4zM275.7 35.19h0.4v0.4h-0.4zM273.44 31.41h0.4v0.4h-0.4zM276.11 28.26h0.4v0.4h-0.4zM270.88 29.87h0.4v0.4h-0.4zM276.57 22.68h0.4v0.4h-0.4zM276.58 27.16h0.4v0.4h-0.4zM269.7 38.56h0.4v0.4h-0.4zM272.71 23.2h0.4v0.4h-0.4zM271.92 36.59h0.4v0.4h-0.4zM276.58 28.44h0.4v0.4h-0.4zM274.22 35.28h0.4v0.4h-0.4zM271.07 33.13h0.4v0.4h-0.4zM272.9 27.78h0.4v0.4h-0.4zM280 26.74h0.4v0.4h-0.4zM278.18 21.86h0.4v0.4h-0.4zM285.84 14.87h0.4v0.4h-0.4z"/>
</g>
<path d="M251.6 3.3H304.2V63.3" stroke="#555" stroke-width="0.9" fill="none"/>
<path d="M251.6 3.3V63.3H304.2" stroke="#222" stroke-width="1.0" fill="none"/>
<path d="M251.6 63.3v2.2M251.6 63.3h-2.2M255.6 63.3v1.2M251.6 58.8h-1.2M257.9 63.3v1.2M251.6 56.1h-1.2M259.5 63.3v1.2M251.6 54.3h-1.2M260.8 63.3v1.2M251.6 52.8h-1.2M261.8 63.3v1.2M251.6 51.6h-1.2M262.7 63.3v1.2M251.6 50.6h-1.2M263.5 63.3v1.2M251.6 49.8h-1.2M264.1 63.3v1.2M251.6 49h-1.2M264.8 63.3v2.2M251.6 48.3h-2.2M268.7 63.3v1.2M251.6 43.8h-1.2M271 63.3v1.2M251.6 41.1h-1.2M272.7 63.3v1.2M251.6 39.3h-1.2M273.9 63.3v1.2M251.6 37.8h-1.2M275 63.3v1.2M251.6 36.6h-1.2M275.9 63.3v1.2M251.6 35.6h-1.2M276.6 63.3v1.2M251.6 34.8h-1.2M277.3 63.3v1.2M251.6 34h-1.2M277.9 63.3v2.2M251.6 33.3h-2.2M281.9 63.3v1.2M251.6 28.8h-1.2M284.2 63.3v1.2M251.6 26.1h-1.2M285.8 63.3v1.2M251.6 24.3h-1.2M287.1 63.3v1.2M251.6 22.8h-1.2M288.1 63.3v1.2M251.6 21.6h-1.2M289 63.3v1.2M251.6 20.6h-1.2M289.8 63.3v1.2M251.6 19.8h-1.2M290.4 63.3v1.2M251.6 19h-1.2M291.1 63.3v2.2M251.6 18.3h-2.2M295 63.3v1.2M251.6 13.8h-1.2M297.3 63.3v1.2M251.6 11.1h-1.2M299 63.3v1.2M251.6 9.3h-1.2M300.2 63.3v1.2M251.6 7.8h-1.2M301.3 63.3v1.2M251.6 6.6h-1.2M302.2 63.3v1.2M251.6 5.6h-1.2M302.9 63.3v1.2M251.6 4.8h-1.2M303.6 63.3v1.2M251.6 4h-1.2M304.2 63.3v2.2M251.6 3.3h-2.2" stroke="#222" stroke-width="0.6" fill="none"/>
<text x="251.5" y="70.4" font-size="4.7" fill="#000" font-weight="bold" text-anchor="middle">10</text>
<text x="254" y="68.2" font-size="4.3" fill="#000" font-weight="bold">0</text>
<text font-size="4.7" fill="#000" font-weight="bold" text-anchor="middle" transform="translate(247.9,63.3) rotate(-90)">10</text>
<text font-size="4.3" fill="#000" font-weight="bold" transform="translate(245.9,60.5) rotate(-90)">0</text>
<text x="264.3" y="70.4" font-size="4.7" fill="#000" font-weight="bold" text-anchor="middle">10</text>
<text x="266.8" y="68.2" font-size="4.3" fill="#000" font-weight="bold">1</text>
<text font-size="4.7" fill="#000" font-weight="bold" text-anchor="middle" transform="translate(247.9,48.7) rotate(-90)">10</text>
<text font-size="4.3" fill="#000" font-weight="bold" transform="translate(245.9,45.9) rotate(-90)">1</text>
<text x="277.1" y="70.4" font-size="4.7" fill="#000" font-weight="bold" text-anchor="middle">10</text>
<text x="279.6" y="68.2" font-size="4.3" fill="#000" font-weight="bold">2</text>
<text font-size="4.7" fill="#000" font-weight="bold" text-anchor="middle" transform="translate(247.9,34.1) rotate(-90)">10</text>
<text font-size="4.3" fill="#000" font-weight="bold" transform="translate(245.9,31.3) rotate(-90)">2</text>
<text x="289.8" y="70.4" font-size="4.7" fill="#000" font-weight="bold" text-anchor="middle">10</text>
<text x="292.3" y="68.2" font-size="4.3" fill="#000" font-weight="bold">3</text>
<text font-size="4.7" fill="#000" font-weight="bold" text-anchor="middle" transform="translate(247.9,19.5) rotate(-90)">10</text>
<text font-size="4.3" fill="#000" font-weight="bold" transform="translate(245.9,16.7) rotate(-90)">3</text>
<text x="302.6" y="70.4" font-size="4.7" fill="#000" font-weight="bold" text-anchor="middle">10</text>
<text x="305.1" y="68.2" font-size="4.3" fill="#000" font-weight="bold">4</text>
<text font-size="4.7" fill="#000" font-weight="bold" text-anchor="middle" transform="translate(247.9,4.9) rotate(-90)">10</text>
<text font-size="4.3" fill="#000" font-weight="bold" transform="translate(245.9,2.1) rotate(-90)">4</text>
<text font-size="9.0" font-weight="bold" stroke="#000" stroke-width="0.2" text-anchor="middle" transform="translate(232.9,26) rotate(-90) scale(1,1.1)">CD8</text>
<text font-size="9.0" font-weight="bold" stroke="#000" stroke-width="0.2" text-anchor="middle" transform="translate(278.8,83.5) scale(1,1.1)">CD3</text>
<clipPath id="c3"><rect x="350.6" y="3.2" width="52.4" height="60"/></clipPath>
<g stroke="#444" stroke-width="0.8" fill="none">
<line x1="366.6" y1="3.2" x2="366.6" y2="63.2"/>
<line x1="350.6" y1="43.6" x2="403" y2="43.6"/>
</g>
<g clip-path="url(#c3)">
<path fill="#666" stroke="#666" stroke-opacity="0.35" stroke-width="0.8" stroke-linejoin="round" d="M377.3 11 L379 12.5 L381.2 15 L382.6 19 L383.6 23 L384 30 L383.5 34 L372 34 L372.2 27 L372.9 20 L374.3 15Z"/>
<path fill="#000" stroke="#000" stroke-opacity="0.35" stroke-width="1.4" stroke-linejoin="round" d="M374.5 27 L378 23 L381.5 25 L383.2 31 L383.5 38 L383.2 43 L381.7 47.8 L379.3 52.7 L376.8 56.7 L375.3 59.2 L373.5 60.2 L371.9 59.2 L370.9 56.7 L370.6 52.7 L371.2 47.8 L371.6 42.9 L371.9 37.9 L372.3 31Z"/>
<path fill="#000" d="M378.62 30.31h0.6v0.6h-0.6zM381.49 28.53h0.6v0.6h-0.6zM384.59 20.05h0.6v0.6h-0.6zM380.34 23.09h0.6v0.6h-0.6zM383.38 35.2h0.6v0.6h-0.6zM372.33 19.19h0.6v0.6h-0.6zM379.93 29.74h0.6v0.6h-0.6zM380.14 24.57h0.6v0.6h-0.6zM379.32 28.92h0.6v0.6h-0.6zM377.77 31.16h0.6v0.6h-0.6zM371.45 28.8h0.6v0.6h-0.6zM375 30.75h0.6v0.6h-0.6zM377.34 19.67h0.6v0.6h-0.6zM379.08 19.53h0.6v0.6h-0.6zM375.35 15.6h0.6v0.6h-0.6zM377.92 27.98h0.6v0.6h-0.6zM380.97 24.15h0.6v0.6h-0.6zM381.04 25.11h0.6v0.6h-0.6zM377.73 28.44h0.6v0.6h-0.6zM381.07 22.95h0.6v0.6h-0.6zM377.29 24.04h0.6v0.6h-0.6zM378.24 19.6h0.6v0.6h-0.6zM380.98 22.6h0.6v0.6h-0.6zM379.34 20.05h0.6v0.6h-0.6zM379.04 27.35h0.6v0.6h-0.6zM376.78 37.13h0.6v0.6h-0.6zM379.08 35.66h0.6v0.6h-0.6zM380.78 21.03h0.6v0.6h-0.6zM376.89 27.62h0.6v0.6h-0.6zM378.18 25.3h0.6v0.6h-0.6zM377.17 14.15h0.6v0.6h-0.6zM377.35 11.69h0.6v0.6h-0.6zM379.08 20.64h0.6v0.6h-0.6zM375.93 23.68h0.6v0.6h-0.6zM378.79 16.41h0.6v0.6h-0.6zM372.93 18.6h0.6v0.6h-0.6zM372.08 19.2h0.6v0.6h-0.6zM382.61 18.66h0.6v0.6h-0.6zM379.89 16.77h0.6v0.6h-0.6zM378.87 23.08h0.6v0.6h-0.6zM377.83 28.41h0.6v0.6h-0.6zM383.09 26.17h0.6v0.6h-0.6zM378.36 19.16h0.6v0.6h-0.6zM379.69 23.52h0.6v0.6h-0.6zM380.41 24.74h0.6v0.6h-0.6zM383.05 13.1h0.6v0.6h-0.6zM377.14 30.29h0.6v0.6h-0.6zM376.98 20.25h0.6v0.6h-0.6zM377.23 16.72h0.6v0.6h-0.6zM378.34 39.64h0.6v0.6h-0.6zM381.32 18.35h0.6v0.6h-0.6zM375.47 22.57h0.6v0.6h-0.6zM380.91 20.07h0.6v0.6h-0.6zM376 30.31h0.6v0.6h-0.6zM380.51 22.76h0.6v0.6h-0.6zM374.76 15.7h0.6v0.6h-0.6zM375.97 11.62h0.6v0.6h-0.6zM380.17 21.22h0.6v0.6h-0.6zM379.4 36.21h0.6v0.6h-0.6zM381.4 18.09h0.6v0.6h-0.6zM380.52 31.95h0.6v0.6h-0.6zM375.84 19.28h0.6v0.6h-0.6zM377.68 15.39h0.6v0.6h-0.6zM382.27 10.57h0.6v0.6h-0.6zM374.79 23.38h0.6v0.6h-0.6zM377.34 26h0.6v0.6h-0.6zM378.79 23.72h0.6v0.6h-0.6zM381.3 12.16h0.6v0.6h-0.6zM378 20.71h0.6v0.6h-0.6zM378.38 26.32h0.6v0.6h-0.6zM375.36 21.15h0.6v0.6h-0.6zM380.3 27.09h0.6v0.6h-0.6zM376.03 37.24h0.6v0.6h-0.6zM384.7 16.23h0.6v0.6h-0.6zM378.88 40.05h0.6v0.6h-0.6zM380.27 26.33h0.6v0.6h-0.6zM377.4 21.75h0.6v0.6h-0.6zM377.38 21.7h0.6v0.6h-0.6zM380.16 22.61h0.6v0.6h-0.6zM376.72 17.79h0.6v0.6h-0.6zM377.86 19.64h0.6v0.6h-0.6zM377.48 31.25h0.6v0.6h-0.6zM379.06 28.03h0.6v0.6h-0.6zM379.03 25.36h0.6v0.6h-0.6zM377.63 23.15h0.6v0.6h-0.6zM380.2 18.49h0.6v0.6h-0.6zM381.89 25.2h0.6v0.6h-0.6zM375.83 22.07h0.6v0.6h-0.6zM376.04 25.96h0.6v0.6h-0.6zM375.92 31.85h0.6v0.6h-0.6zM375.73 11.36h0.6v0.6h-0.6zM375.88 12.95h0.6v0.6h-0.6zM377.88 31.35h0.6v0.6h-0.6zM379.88 16.97h0.6v0.6h-0.6zM375.79 35.67h0.6v0.6h-0.6zM378.92 25.02h0.6v0.6h-0.6zM381.06 39.72h0.6v0.6h-0.6zM381.76 25.84h0.6v0.6h-0.6zM379.03 28.7h0.6v0.6h-0.6zM376.22 18.65h0.6v0.6h-0.6zM378.15 19.32h0.6v0.6h-0.6zM377.82 25.58h0.6v0.6h-0.6zM384.79 19.89h0.6v0.6h-0.6zM377.65 24.01h0.6v0.6h-0.6zM379.27 31.28h0.6v0.6h-0.6zM376.58 20.07h0.6v0.6h-0.6zM373.24 19.44h0.6v0.6h-0.6zM379.56 25.27h0.6v0.6h-0.6zM375.06 22.76h0.6v0.6h-0.6zM378.09 28.02h0.6v0.6h-0.6zM376.28 23.5h0.6v0.6h-0.6zM372.73 18.09h0.6v0.6h-0.6zM382.69 11.87h0.6v0.6h-0.6zM377.02 26.32h0.6v0.6h-0.6zM376.91 20.15h0.6v0.6h-0.6zM377.82 24.97h0.6v0.6h-0.6zM377.76 13.73h0.6v0.6h-0.6zM377.57 19.87h0.6v0.6h-0.6zM376.41 26.36h0.6v0.6h-0.6zM379.86 30.38h0.6v0.6h-0.6zM376.56 30.54h0.6v0.6h-0.6zM381.4 31.82h0.6v0.6h-0.6zM382.03 24.13h0.6v0.6h-0.6zM377.5 29.95h0.6v0.6h-0.6zM374.04 26.26h0.6v0.6h-0.6zM376.46 22.79h0.6v0.6h-0.6zM372.95 19.66h0.6v0.6h-0.6zM377.94 30.33h0.6v0.6h-0.6zM380.87 24.52h0.6v0.6h-0.6zM377.45 20.02h0.6v0.6h-0.6zM379.17 23.51h0.6v0.6h-0.6zM379.76 35.51h0.6v0.6h-0.6zM377.91 16.02h0.6v0.6h-0.6zM375.5 16.25h0.6v0.6h-0.6zM374.53 32.83h0.6v0.6h-0.6zM378.66 15.88h0.6v0.6h-0.6zM379.9 32.56h0.6v0.6h-0.6zM376.96 20.94h0.6v0.6h-0.6zM377.02 26.71h0.6v0.6h-0.6zM379.86 32.09h0.6v0.6h-0.6zM381.52 32.11h0.6v0.6h-0.6zM381.95 28.97h0.6v0.6h-0.6zM373.56 24.21h0.6v0.6h-0.6zM378.91 22.7h0.6v0.6h-0.6zM380.64 22.84h0.6v0.6h-0.6zM375.32 33.67h0.6v0.6h-0.6zM379.93 26.32h0.6v0.6h-0.6zM380.69 31.38h0.6v0.6h-0.6zM378.99 10.25h0.6v0.6h-0.6zM376.04 22.26h0.6v0.6h-0.6zM375.15 26.19h0.6v0.6h-0.6zM381.46 22.09h0.6v0.6h-0.6zM374.71 37.17h0.6v0.6h-0.6zM376.69 17.6h0.6v0.6h-0.6zM378.69 27.55h0.6v0.6h-0.6zM375.96 29.74h0.6v0.6h-0.6zM376.59 19.46h0.6v0.6h-0.6zM378.52 29.62h0.6v0.6h-0.6zM376.16 26.98h0.6v0.6h-0.6zM377.73 41.95h0.6v0.6h-0.6zM375.95 33.31h0.6v0.6h-0.6zM377.85 24.24h0.6v0.6h-0.6zM380.09 30.36h0.6v0.6h-0.6zM381.67 26.97h0.6v0.6h-0.6zM376.26 21.77h0.6v0.6h-0.6zM379.48 28.49h0.6v0.6h-0.6zM382.05 27.51h0.6v0.6h-0.6zM381.07 34.1h0.6v0.6h-0.6zM378.48 16.09h0.6v0.6h-0.6zM374.58 16.37h0.6v0.6h-0.6zM382.62 19.92h0.6v0.6h-0.6zM381.57 28.51h0.6v0.6h-0.6zM382.97 31.02h0.6v0.6h-0.6zM377.7 23.8h0.6v0.6h-0.6zM378.25 26.05h0.6v0.6h-0.6zM376.46 24.8h0.6v0.6h-0.6zM382.67 14.79h0.6v0.6h-0.6zM378.75 19.56h0.6v0.6h-0.6zM378.54 30.04h0.6v0.6h-0.6zM377.83 29.64h0.6v0.6h-0.6zM373.39 31.64h0.6v0.6h-0.6zM376.25 28.73h0.6v0.6h-0.6zM378.53 9.49h0.6v0.6h-0.6zM375.81 26.32h0.6v0.6h-0.6zM382.51 26.72h0.6v0.6h-0.6zM378.75 16.52h0.6v0.6h-0.6zM382.15 35.84h0.6v0.6h-0.6zM378.08 23.68h0.6v0.6h-0.6zM373.3 30.3h0.6v0.6h-0.6zM385.84 29.3h0.6v0.6h-0.6zM381.66 28.25h0.6v0.6h-0.6zM375.14 33.02h0.6v0.6h-0.6zM374.42 23.74h0.6v0.6h-0.6zM378.81 30.3h0.6v0.6h-0.6zM379.21 27.32h0.6v0.6h-0.6zM375.79 17.26h0.6v0.6h-0.6zM378.18 20.74h0.6v0.6h-0.6zM374.21 17.4h0.6v0.6h-0.6zM376.58 13.88h0.6v0.6h-0.6zM374.09 15.19h0.6v0.6h-0.6zM378.53 27.45h0.6v0.6h-0.6zM383.82 16.01h0.6v0.6h-0.6zM376.03 30.48h0.6v0.6h-0.6zM377.37 23.04h0.6v0.6h-0.6zM382.96 22.97h0.6v0.6h-0.6zM374.65 17.1h0.6v0.6h-0.6zM378.97 26.83h0.6v0.6h-0.6zM374.02 19.09h0.6v0.6h-0.6zM379.55 28.46h0.6v0.6h-0.6zM376.13 28.73h0.6v0.6h-0.6zM379.66 14.3h0.6v0.6h-0.6zM377.1 27.49h0.6v0.6h-0.6zM376.34 12.17h0.6v0.6h-0.6zM377.18 29.51h0.6v0.6h-0.6zM382.58 11.86h0.6v0.6h-0.6zM385.58 18.24h0.6v0.6h-0.6zM380.78 32.41h0.6v0.6h-0.6zM380.85 25.9h0.6v0.6h-0.6zM374.63 28.76h0.6v0.6h-0.6zM375.93 9.86h0.6v0.6h-0.6zM386.2 29.25h0.6v0.6h-0.6zM383.27 19.53h0.6v0.6h-0.6zM382.26 34.54h0.6v0.6h-0.6zM382.51 24.87h0.6v0.6h-0.6zM374.51 23.94h0.6v0.6h-0.6zM371.61 14.79h0.6v0.6h-0.6zM378.27 19.05h0.6v0.6h-0.6zM377.52 24.35h0.6v0.6h-0.6zM383.6 32.79h0.6v0.6h-0.6zM377.87 32.25h0.6v0.6h-0.6zM375.74 22.98h0.6v0.6h-0.6zM380.64 17.55h0.6v0.6h-0.6zM377.19 17.07h0.6v0.6h-0.6zM378.34 34.8h0.6v0.6h-0.6zM375.82 26.36h0.6v0.6h-0.6zM375.4 18.1h0.6v0.6h-0.6zM374.42 33.73h0.6v0.6h-0.6zM384.85 27.9h0.6v0.6h-0.6zM375.92 29.23h0.6v0.6h-0.6zM377.03 29.81h0.6v0.6h-0.6zM378.84 26.68h0.6v0.6h-0.6zM379.76 21.52h0.6v0.6h-0.6zM376.83 14.67h0.6v0.6h-0.6zM376.72 16.47h0.6v0.6h-0.6zM377.58 19.25h0.6v0.6h-0.6zM378.29 27.72h0.6v0.6h-0.6zM373.88 20.12h0.6v0.6h-0.6zM375.26 29.48h0.6v0.6h-0.6zM382.95 30.11h0.6v0.6h-0.6zM376.99 33.79h0.6v0.6h-0.6zM373.61 34h0.6v0.6h-0.6zM376.1 8.32h0.6v0.6h-0.6zM385.69 34.47h0.6v0.6h-0.6zM375.01 26.01h0.6v0.6h-0.6zM377.38 25.61h0.6v0.6h-0.6zM373.7 20.91h0.6v0.6h-0.6zM379.36 26.34h0.6v0.6h-0.6zM381.48 25.48h0.6v0.6h-0.6zM384.81 20.71h0.6v0.6h-0.6zM378.75 13.5h0.6v0.6h-0.6zM376.05 17.82h0.6v0.6h-0.6zM376.48 15.83h0.6v0.6h-0.6zM377.71 11.89h0.6v0.6h-0.6zM377.31 13.21h0.6v0.6h-0.6zM377.12 16.38h0.6v0.6h-0.6zM378.71 13.06h0.6v0.6h-0.6zM376.53 15.21h0.6v0.6h-0.6zM377.66 17.07h0.6v0.6h-0.6zM381.52 16.61h0.6v0.6h-0.6zM377.75 14.07h0.6v0.6h-0.6zM376.6 12.23h0.6v0.6h-0.6zM376.4 13.51h0.6v0.6h-0.6zM377.2 16.36h0.6v0.6h-0.6zM377.24 14.01h0.6v0.6h-0.6zM376.09 18.61h0.6v0.6h-0.6zM378.51 18.97h0.6v0.6h-0.6zM378.92 18.22h0.6v0.6h-0.6zM377.45 16.29h0.6v0.6h-0.6zM381.59 11.44h0.6v0.6h-0.6zM379.45 18.74h0.6v0.6h-0.6zM378.39 16.41h0.6v0.6h-0.6zM379.59 12.82h0.6v0.6h-0.6zM378.38 12.28h0.6v0.6h-0.6zM376.83 12.92h0.6v0.6h-0.6zM377.6 14.87h0.6v0.6h-0.6zM378.45 10.87h0.6v0.6h-0.6zM380.64 17.46h0.6v0.6h-0.6zM378.84 13.58h0.6v0.6h-0.6zM377.67 15.9h0.6v0.6h-0.6zM378.39 10.2h0.6v0.6h-0.6zM378.86 21.97h0.6v0.6h-0.6zM375.15 17.05h0.6v0.6h-0.6zM378.33 14.21h0.6v0.6h-0.6zM379.77 11.47h0.6v0.6h-0.6zM378.03 18.25h0.6v0.6h-0.6zM375.65 34.95h0.6v0.6h-0.6zM377.05 34.49h0.6v0.6h-0.6zM383.15 28.24h0.6v0.6h-0.6zM379.68 24.27h0.6v0.6h-0.6zM379.97 38.44h0.6v0.6h-0.6zM365.09 40.97h0.6v0.6h-0.6zM371.61 34.97h0.6v0.6h-0.6zM382.89 25.65h0.6v0.6h-0.6zM373.66 58.13h0.6v0.6h-0.6zM379.19 58.9h0.6v0.6h-0.6zM377.54 29.03h0.6v0.6h-0.6zM378.02 55.14h0.6v0.6h-0.6zM381.34 39.63h0.6v0.6h-0.6zM377.1 38.6h0.6v0.6h-0.6zM376.41 63.97h0.6v0.6h-0.6zM375.82 26.1h0.6v0.6h-0.6zM375.58 49.12h0.6v0.6h-0.6zM379.81 38.06h0.6v0.6h-0.6zM373.94 40.56h0.6v0.6h-0.6zM367.89 24.67h0.6v0.6h-0.6zM380.17 33.79h0.6v0.6h-0.6zM380.04 54.82h0.6v0.6h-0.6zM380.02 39.99h0.6v0.6h-0.6zM387.53 47.35h0.6v0.6h-0.6zM376.15 49.14h0.6v0.6h-0.6zM377.96 29.32h0.6v0.6h-0.6zM377.16 37.94h0.6v0.6h-0.6zM367.75 38.67h0.6v0.6h-0.6zM375.22 34.73h0.6v0.6h-0.6zM369.04 36.3h0.6v0.6h-0.6zM376.93 41.27h0.6v0.6h-0.6zM372.45 48.23h0.6v0.6h-0.6zM371.16 37.74h0.6v0.6h-0.6zM382.27 30.97h0.6v0.6h-0.6zM375.8 53.4h0.6v0.6h-0.6zM374.91 36.51h0.6v0.6h-0.6zM379.15 52.8h0.6v0.6h-0.6zM365.96 30.71h0.6v0.6h-0.6zM371.2 27.08h0.6v0.6h-0.6zM372.16 30.05h0.6v0.6h-0.6zM377.43 28.97h0.6v0.6h-0.6zM377.99 44.87h0.6v0.6h-0.6zM373.79 41.89h0.6v0.6h-0.6zM384.87 43.29h0.6v0.6h-0.6zM374 39.46h0.6v0.6h-0.6zM373.09 43.68h0.6v0.6h-0.6zM380.08 29.64h0.6v0.6h-0.6zM377.23 53.68h0.6v0.6h-0.6zM374.92 42.5h0.6v0.6h-0.6zM371.44 30.41h0.6v0.6h-0.6zM376.93 66.22h0.6v0.6h-0.6zM374.61 33.83h0.6v0.6h-0.6zM374.3 38.24h0.6v0.6h-0.6zM380.14 42.01h0.6v0.6h-0.6zM386.45 41.75h0.6v0.6h-0.6zM383.78 42.74h0.6v0.6h-0.6zM378.2 22.51h0.6v0.6h-0.6zM376.36 39.23h0.6v0.6h-0.6zM373.66 14.36h0.6v0.6h-0.6zM380.54 35.03h0.6v0.6h-0.6zM374.77 37.12h0.6v0.6h-0.6zM376.4 44.96h0.6v0.6h-0.6zM370.33 29.37h0.6v0.6h-0.6zM378.46 41.63h0.6v0.6h-0.6zM374.71 33.29h0.6v0.6h-0.6zM373.2 39.63h0.6v0.6h-0.6zM381.19 26.89h0.6v0.6h-0.6zM384.71 49.49h0.6v0.6h-0.6zM375.79 49.54h0.6v0.6h-0.6zM368.62 19.88h0.6v0.6h-0.6zM370.79 35.61h0.6v0.6h-0.6zM375 33.97h0.6v0.6h-0.6zM375.21 14.44h0.6v0.6h-0.6zM377.74 22.84h0.6v0.6h-0.6zM373.61 35.32h0.6v0.6h-0.6zM370.38 24.06h0.6v0.6h-0.6zM372.48 40.25h0.6v0.6h-0.6zM380.23 46.51h0.6v0.6h-0.6zM371.71 30.93h0.6v0.6h-0.6zM373.34 45.74h0.6v0.6h-0.6zM369.16 55.6h0.6v0.6h-0.6zM374.01 30.82h0.6v0.6h-0.6zM379.6 52.21h0.6v0.6h-0.6zM379.64 52.45h0.6v0.6h-0.6zM378.89 54.65h0.6v0.6h-0.6zM382.48 38.32h0.6v0.6h-0.6zM383.62 41.4h0.6v0.6h-0.6zM376.43 28.95h0.6v0.6h-0.6zM376.52 49.41h0.6v0.6h-0.6zM371.79 48.28h0.6v0.6h-0.6zM378.85 43.18h0.6v0.6h-0.6zM367 39.63h0.6v0.6h-0.6zM379.11 30.63h0.6v0.6h-0.6zM374.92 11.54h0.6v0.6h-0.6zM379.32 31.82h0.6v0.6h-0.6zM378.98 17.63h0.6v0.6h-0.6zM379.86 36.9h0.6v0.6h-0.6zM379.65 28.62h0.6v0.6h-0.6zM376.57 67.05h0.6v0.6h-0.6zM372.54 31.89h0.6v0.6h-0.6zM374.69 27.88h0.6v0.6h-0.6zM384.14 60.15h0.6v0.6h-0.6zM372.04 19.64h0.6v0.6h-0.6zM383.41 52.79h0.6v0.6h-0.6zM381.89 53.5h0.6v0.6h-0.6zM372.93 38.33h0.6v0.6h-0.6zM369.31 23.59h0.6v0.6h-0.6zM380.7 31.58h0.6v0.6h-0.6zM387.3 39.99h0.6v0.6h-0.6zM374.96 49.79h0.6v0.6h-0.6zM385.58 45.1h0.6v0.6h-0.6zM371.93 44.91h0.6v0.6h-0.6zM382.65 33.56h0.6v0.6h-0.6zM374.59 52.45h0.6v0.6h-0.6zM376.47 26.76h0.6v0.6h-0.6zM374.51 31.12h0.6v0.6h-0.6zM378.44 41.2h0.6v0.6h-0.6zM382.9 48.03h0.6v0.6h-0.6zM370.42 45.48h0.6v0.6h-0.6zM381.5 45.1h0.6v0.6h-0.6zM381.04 33.03h0.6v0.6h-0.6zM373.71 51.49h0.6v0.6h-0.6zM369.97 14.6h0.6v0.6h-0.6zM380.84 30.94h0.6v0.6h-0.6zM374.17 23.41h0.6v0.6h-0.6zM369.85 26.69h0.6v0.6h-0.6zM375.77 44.56h0.6v0.6h-0.6zM367.49 49.89h0.6v0.6h-0.6zM370.59 27.72h0.6v0.6h-0.6zM379.96 38.84h0.6v0.6h-0.6zM372.04 62.65h0.6v0.6h-0.6zM373.4 43.29h0.6v0.6h-0.6zM379.37 56.79h0.6v0.6h-0.6zM376.01 52.23h0.6v0.6h-0.6zM374.85 53.71h0.6v0.6h-0.6zM373.2 35.97h0.6v0.6h-0.6zM385.83 43.05h0.6v0.6h-0.6zM379.84 66.76h0.6v0.6h-0.6zM377.77 30.1h0.6v0.6h-0.6zM379.06 25.59h0.6v0.6h-0.6zM383.32 53.97h0.6v0.6h-0.6zM373.77 32.72h0.6v0.6h-0.6zM377.81 40.1h0.6v0.6h-0.6zM373.21 47.17h0.6v0.6h-0.6zM367.39 35.63h0.6v0.6h-0.6zM374.9 36.89h0.6v0.6h-0.6zM377.09 25.2h0.6v0.6h-0.6zM379.45 37.62h0.6v0.6h-0.6zM372.66 23.92h0.6v0.6h-0.6zM372.07 44.77h0.6v0.6h-0.6zM372.75 41.15h0.6v0.6h-0.6zM382.84 51.93h0.6v0.6h-0.6zM383.69 35.85h0.6v0.6h-0.6zM373.2 52.63h0.6v0.6h-0.6zM379.56 53.31h0.6v0.6h-0.6zM378.3 54.29h0.6v0.6h-0.6zM381.54 48.23h0.6v0.6h-0.6zM379.67 44.56h0.6v0.6h-0.6zM378.28 42.61h0.6v0.6h-0.6zM380.9 33.49h0.6v0.6h-0.6zM384.67 38.05h0.6v0.6h-0.6zM381.32 38.53h0.6v0.6h-0.6zM378.02 64.39h0.6v0.6h-0.6zM374.28 24.85h0.6v0.6h-0.6zM373.47 36.49h0.6v0.6h-0.6zM386.88 41.63h0.6v0.6h-0.6zM380.14 27.66h0.6v0.6h-0.6zM379.28 47.89h0.6v0.6h-0.6zM384.35 30.97h0.6v0.6h-0.6zM380.02 43.38h0.6v0.6h-0.6zM372.4 40.17h0.6v0.6h-0.6zM373.39 12.31h0.6v0.6h-0.6zM380.25 46.22h0.6v0.6h-0.6zM373.63 24.17h0.6v0.6h-0.6zM383.91 42.6h0.6v0.6h-0.6zM383.03 56.46h0.6v0.6h-0.6zM375.51 49.91h0.6v0.6h-0.6zM375.85 39.35h0.6v0.6h-0.6zM376.61 40.02h0.6v0.6h-0.6zM382.12 41.04h0.6v0.6h-0.6zM376.02 36.75h0.6v0.6h-0.6zM377.59 29.17h0.6v0.6h-0.6zM374.69 39.57h0.6v0.6h-0.6zM374.34 38.81h0.6v0.6h-0.6zM376.36 64.2h0.6v0.6h-0.6zM383.43 44.86h0.6v0.6h-0.6zM379.05 66.21h0.6v0.6h-0.6zM378.36 38.84h0.6v0.6h-0.6zM378.68 43.54h0.6v0.6h-0.6zM383.3 39.22h0.6v0.6h-0.6zM385.49 28.63h0.6v0.6h-0.6zM379.06 27.75h0.6v0.6h-0.6zM384.8 35.34h0.6v0.6h-0.6zM377.71 51.07h0.6v0.6h-0.6zM381.46 26.22h0.6v0.6h-0.6zM373.99 23.46h0.6v0.6h-0.6zM377.51 38.73h0.6v0.6h-0.6zM374.72 31.95h0.6v0.6h-0.6zM374.49 31.23h0.6v0.6h-0.6zM380.96 57.91h0.6v0.6h-0.6z"/>
<path fill="#000" d="M370.55 56.11h0.4v0.4h-0.4zM368.94 53.47h0.4v0.4h-0.4zM369.33 47.5h0.4v0.4h-0.4zM370.76 44.69h0.4v0.4h-0.4zM370.71 58.73h0.4v0.4h-0.4zM369.19 48.41h0.4v0.4h-0.4zM369.03 55.84h0.4v0.4h-0.4zM370.19 54.72h0.4v0.4h-0.4zM370.49 49.66h0.4v0.4h-0.4zM369.58 43.59h0.4v0.4h-0.4zM370.22 53.92h0.4v0.4h-0.4zM368.8 59.97h0.4v0.4h-0.4zM370.13 36.1h0.4v0.4h-0.4zM369.35 44.27h0.4v0.4h-0.4zM370.58 67.93h0.4v0.4h-0.4zM368.68 53.45h0.4v0.4h-0.4zM369 55.1h0.4v0.4h-0.4zM370.07 60.72h0.4v0.4h-0.4zM368.12 62.43h0.4v0.4h-0.4zM368.18 54.66h0.4v0.4h-0.4zM370.69 57.28h0.4v0.4h-0.4zM368.17 48.79h0.4v0.4h-0.4zM368.75 52.69h0.4v0.4h-0.4zM370.68 45.25h0.4v0.4h-0.4zM369.86 56.66h0.4v0.4h-0.4zM369.97 55.8h0.4v0.4h-0.4zM371.12 55.93h0.4v0.4h-0.4zM370.33 56.38h0.4v0.4h-0.4zM371.45 41.6h0.4v0.4h-0.4zM370.84 51.43h0.4v0.4h-0.4zM368.96 47.18h0.4v0.4h-0.4zM367.06 50.71h0.4v0.4h-0.4zM368.48 55.97h0.4v0.4h-0.4zM367.53 61.59h0.4v0.4h-0.4zM369.63 51.51h0.4v0.4h-0.4zM368.45 48.28h0.4v0.4h-0.4zM367.94 49.73h0.4v0.4h-0.4zM369.31 51.94h0.4v0.4h-0.4zM367.6 51.41h0.4v0.4h-0.4zM368.23 53.96h0.4v0.4h-0.4zM371.54 56.75h0.4v0.4h-0.4zM368.92 43.25h0.4v0.4h-0.4zM367.6 42.88h0.4v0.4h-0.4zM370.17 48.41h0.4v0.4h-0.4zM369.38 49.27h0.4v0.4h-0.4zM369.41 61.41h0.4v0.4h-0.4zM368.48 50.95h0.4v0.4h-0.4zM368.33 58.25h0.4v0.4h-0.4zM368.07 46.2h0.4v0.4h-0.4zM367.63 44.55h0.4v0.4h-0.4zM400.52 54.38h0.4v0.4h-0.4zM380.62 43.89h0.4v0.4h-0.4zM365.74 58.79h0.4v0.4h-0.4z"/>
<path fill="#fff" d="M370.74 28.96h0.5v0.5h-0.5zM376.04 34.43h0.5v0.5h-0.5zM374.17 28.68h0.5v0.5h-0.5zM373.86 36.27h0.5v0.5h-0.5zM377.85 28.55h0.5v0.5h-0.5zM378.8 27.78h0.5v0.5h-0.5zM372.06 35.36h0.5v0.5h-0.5zM378.51 28.61h0.5v0.5h-0.5zM380.95 40.97h0.5v0.5h-0.5zM373.68 22.97h0.5v0.5h-0.5zM382.92 42.77h0.5v0.5h-0.5zM374.92 19.37h0.5v0.5h-0.5zM375.27 25.52h0.5v0.5h-0.5zM371.96 30.28h0.5v0.5h-0.5zM373.02 19.11h0.5v0.5h-0.5zM380.71 23.85h0.5v0.5h-0.5zM377.25 35.66h0.5v0.5h-0.5zM380.35 26.97h0.5v0.5h-0.5zM377.65 22.57h0.5v0.5h-0.5zM383.62 35.85h0.5v0.5h-0.5zM373.64 30.04h0.5v0.5h-0.5zM380 34.31h0.5v0.5h-0.5zM383.9 42.35h0.5v0.5h-0.5zM375.61 29.2h0.5v0.5h-0.5zM373.01 32.25h0.5v0.5h-0.5zM378.03 54.33h0.5v0.5h-0.5zM377.84 11.16h0.5v0.5h-0.5zM375.15 31.01h0.5v0.5h-0.5zM373.1 22.2h0.5v0.5h-0.5zM376.22 33.08h0.5v0.5h-0.5zM376.92 22h0.5v0.5h-0.5zM380.26 25.14h0.5v0.5h-0.5zM375.75 17.58h0.5v0.5h-0.5zM374.75 35.87h0.5v0.5h-0.5zM371.84 29.36h0.5v0.5h-0.5zM380.01 26.61h0.5v0.5h-0.5zM378.34 19.95h0.5v0.5h-0.5zM382.09 39.91h0.5v0.5h-0.5zM378.32 14.2h0.5v0.5h-0.5zM373.84 38.79h0.5v0.5h-0.5zM383.5 32.67h0.5v0.5h-0.5zM381.87 24.53h0.5v0.5h-0.5zM376.84 30.01h0.5v0.5h-0.5zM378.98 16.24h0.5v0.5h-0.5zM380.79 41.9h0.5v0.5h-0.5zM373.48 17.8h0.5v0.5h-0.5zM378.73 24.11h0.5v0.5h-0.5zM369.2 37.28h0.5v0.5h-0.5zM378.04 25.71h0.5v0.5h-0.5zM384.9 31.25h0.5v0.5h-0.5zM374.86 30.91h0.5v0.5h-0.5zM373.86 23.14h0.5v0.5h-0.5zM378.85 25.01h0.5v0.5h-0.5zM375.92 45.02h0.5v0.5h-0.5zM380.51 37.23h0.5v0.5h-0.5zM379.35 34.36h0.5v0.5h-0.5zM382.6 29.82h0.5v0.5h-0.5zM383.99 21.44h0.5v0.5h-0.5zM376.61 17.59h0.5v0.5h-0.5zM376.3 34.67h0.5v0.5h-0.5zM382.58 24.03h0.5v0.5h-0.5zM377.52 26.77h0.5v0.5h-0.5zM374.91 19.3h0.5v0.5h-0.5zM377.71 14.41h0.5v0.5h-0.5zM377.89 30.19h0.5v0.5h-0.5zM375.2 20.9h0.5v0.5h-0.5zM372.65 46.84h0.5v0.5h-0.5zM372.8 44.02h0.5v0.5h-0.5zM379.6 26.72h0.5v0.5h-0.5zM373.45 39.38h0.5v0.5h-0.5zM383.55 21.59h0.5v0.5h-0.5zM376.45 39.46h0.5v0.5h-0.5zM378.68 48h0.5v0.5h-0.5zM375.5 34.88h0.5v0.5h-0.5zM373.12 48.86h0.5v0.5h-0.5zM374.94 10.13h0.5v0.5h-0.5zM377.06 28.75h0.5v0.5h-0.5zM384.2 26.95h0.5v0.5h-0.5zM377.46 35.34h0.5v0.5h-0.5zM383.05 29.43h0.5v0.5h-0.5z"/>
</g>
<path d="M350.6 3.2H403V63.2" stroke="#555" stroke-width="0.9" fill="none"/>
<path d="M350.6 3.2V63.2H403" stroke="#222" stroke-width="1.0" fill="none"/>
<path d="M350.6 63.2v2.2M350.6 63.2h-2.2M354.5 63.2v1.2M350.6 58.7h-1.2M356.9 63.2v1.2M350.6 56h-1.2M358.5 63.2v1.2M350.6 54.2h-1.2M359.8 63.2v1.2M350.6 52.7h-1.2M360.8 63.2v1.2M350.6 51.5h-1.2M361.7 63.2v1.2M350.6 50.5h-1.2M362.4 63.2v1.2M350.6 49.7h-1.2M363.1 63.2v1.2M350.6 48.9h-1.2M363.7 63.2v2.2M350.6 48.2h-2.2M367.6 63.2v1.2M350.6 43.7h-1.2M370 63.2v1.2M350.6 41h-1.2M371.6 63.2v1.2M350.6 39.2h-1.2M372.9 63.2v1.2M350.6 37.7h-1.2M373.9 63.2v1.2M350.6 36.5h-1.2M374.8 63.2v1.2M350.6 35.5h-1.2M375.5 63.2v1.2M350.6 34.7h-1.2M376.2 63.2v1.2M350.6 33.9h-1.2M376.8 63.2v2.2M350.6 33.2h-2.2M380.7 63.2v1.2M350.6 28.7h-1.2M383.1 63.2v1.2M350.6 26h-1.2M384.7 63.2v1.2M350.6 24.2h-1.2M386 63.2v1.2M350.6 22.7h-1.2M387 63.2v1.2M350.6 21.5h-1.2M387.9 63.2v1.2M350.6 20.5h-1.2M388.6 63.2v1.2M350.6 19.7h-1.2M389.3 63.2v1.2M350.6 18.9h-1.2M389.9 63.2v2.2M350.6 18.2h-2.2M393.8 63.2v1.2M350.6 13.7h-1.2M396.2 63.2v1.2M350.6 11h-1.2M397.8 63.2v1.2M350.6 9.2h-1.2M399.1 63.2v1.2M350.6 7.7h-1.2M400.1 63.2v1.2M350.6 6.5h-1.2M401 63.2v1.2M350.6 5.5h-1.2M401.7 63.2v1.2M350.6 4.7h-1.2M402.4 63.2v1.2M350.6 3.9h-1.2M403 63.2v2.2M350.6 3.2h-2.2" stroke="#222" stroke-width="0.6" fill="none"/>
<text x="350.5" y="70.3" font-size="4.7" fill="#000" font-weight="bold" text-anchor="middle">10</text>
<text x="353" y="68.1" font-size="4.3" fill="#000" font-weight="bold">0</text>
<text font-size="4.7" fill="#000" font-weight="bold" text-anchor="middle" transform="translate(346.9,63.2) rotate(-90)">10</text>
<text font-size="4.3" fill="#000" font-weight="bold" transform="translate(344.9,60.4) rotate(-90)">0</text>
<text x="363.2" y="70.3" font-size="4.7" fill="#000" font-weight="bold" text-anchor="middle">10</text>
<text x="365.7" y="68.1" font-size="4.3" fill="#000" font-weight="bold">1</text>
<text font-size="4.7" fill="#000" font-weight="bold" text-anchor="middle" transform="translate(346.9,48.6) rotate(-90)">10</text>
<text font-size="4.3" fill="#000" font-weight="bold" transform="translate(344.9,45.8) rotate(-90)">1</text>
<text x="375.9" y="70.3" font-size="4.7" fill="#000" font-weight="bold" text-anchor="middle">10</text>
<text x="378.4" y="68.1" font-size="4.3" fill="#000" font-weight="bold">2</text>
<text font-size="4.7" fill="#000" font-weight="bold" text-anchor="middle" transform="translate(346.9,34) rotate(-90)">10</text>
<text font-size="4.3" fill="#000" font-weight="bold" transform="translate(344.9,31.2) rotate(-90)">2</text>
<text x="388.7" y="70.3" font-size="4.7" fill="#000" font-weight="bold" text-anchor="middle">10</text>
<text x="391.2" y="68.1" font-size="4.3" fill="#000" font-weight="bold">3</text>
<text font-size="4.7" fill="#000" font-weight="bold" text-anchor="middle" transform="translate(346.9,19.4) rotate(-90)">10</text>
<text font-size="4.3" fill="#000" font-weight="bold" transform="translate(344.9,16.6) rotate(-90)">3</text>
<text x="401.4" y="70.3" font-size="4.7" fill="#000" font-weight="bold" text-anchor="middle">10</text>
<text x="403.9" y="68.1" font-size="4.3" fill="#000" font-weight="bold">4</text>
<text font-size="4.7" fill="#000" font-weight="bold" text-anchor="middle" transform="translate(346.9,4.8) rotate(-90)">10</text>
<text font-size="4.3" fill="#000" font-weight="bold" transform="translate(344.9,2) rotate(-90)">4</text>
<text font-size="9.0" font-weight="bold" stroke="#000" stroke-width="0.2" text-anchor="middle" transform="translate(333.2,30) rotate(-90) scale(1,1.1)">CD56</text>
<text font-size="9.0" font-weight="bold" stroke="#000" stroke-width="0.2" text-anchor="middle" transform="translate(377,83.5) scale(1,1.1)">CD3</text>
<clipPath id="c4"><rect x="52.6" y="104.6" width="52.7" height="60.4"/></clipPath>
<g stroke="#444" stroke-width="0.8" fill="none">
<line x1="69.4" y1="104.6" x2="69.4" y2="165"/>
<line x1="52.6" y1="145" x2="105.3" y2="145"/>
</g>
<g clip-path="url(#c4)">
<path fill="#000" stroke="#000" stroke-opacity="0.35" stroke-width="1.4" stroke-linejoin="round" d="M82.7 111.2 L80.2 110.9 L75.8 113.4 L71.8 115.4 L68.4 117.3 L65.9 119.3 L65 123 L66 126.5 L68.5 128 L72 127.5 L76 125 L79.5 122 L82 117 L83.4 113.4Z"/>
<path fill="#000" d="M71.8 119.56h0.6v0.6h-0.6zM74.16 129.44h0.6v0.6h-0.6zM63.3 127.66h0.6v0.6h-0.6zM74.71 116.08h0.6v0.6h-0.6zM76.88 122.4h0.6v0.6h-0.6zM75.86 120.59h0.6v0.6h-0.6zM73.63 109.16h0.6v0.6h-0.6zM88.09 123.2h0.6v0.6h-0.6zM82.23 120.02h0.6v0.6h-0.6zM65.2 123.97h0.6v0.6h-0.6zM67.76 120.05h0.6v0.6h-0.6zM78.05 112.98h0.6v0.6h-0.6zM68.92 112.52h0.6v0.6h-0.6zM73.24 120.41h0.6v0.6h-0.6zM68.11 119.16h0.6v0.6h-0.6zM82.71 108.18h0.6v0.6h-0.6zM65.81 120.02h0.6v0.6h-0.6zM86 123.49h0.6v0.6h-0.6zM74.4 115.54h0.6v0.6h-0.6zM73.8 125.15h0.6v0.6h-0.6zM71.75 128.35h0.6v0.6h-0.6zM82.75 114.82h0.6v0.6h-0.6zM79.6 120.16h0.6v0.6h-0.6zM81.06 109.96h0.6v0.6h-0.6zM80.32 113.9h0.6v0.6h-0.6zM69.58 122.59h0.6v0.6h-0.6zM70.48 116.4h0.6v0.6h-0.6zM62.2 121.42h0.6v0.6h-0.6zM87.22 122.07h0.6v0.6h-0.6zM80.61 121.85h0.6v0.6h-0.6zM70.69 121.01h0.6v0.6h-0.6zM73.28 114.3h0.6v0.6h-0.6zM68.22 123.34h0.6v0.6h-0.6zM69.67 116.48h0.6v0.6h-0.6zM75.75 117.12h0.6v0.6h-0.6zM80.18 115.91h0.6v0.6h-0.6zM72.47 121.05h0.6v0.6h-0.6zM71.45 117.5h0.6v0.6h-0.6zM73.25 123.83h0.6v0.6h-0.6zM80.81 122.25h0.6v0.6h-0.6zM62.85 123.89h0.6v0.6h-0.6zM71.87 121.62h0.6v0.6h-0.6zM70.1 119.08h0.6v0.6h-0.6zM79.15 117.45h0.6v0.6h-0.6zM69.93 128.78h0.6v0.6h-0.6zM78.75 113.77h0.6v0.6h-0.6zM77.39 113.73h0.6v0.6h-0.6zM80.33 114.71h0.6v0.6h-0.6zM68.29 120.86h0.6v0.6h-0.6zM69.79 122.93h0.6v0.6h-0.6zM75.14 119.03h0.6v0.6h-0.6zM62.39 107.18h0.6v0.6h-0.6zM70.3 111.79h0.6v0.6h-0.6zM78.02 123.05h0.6v0.6h-0.6zM74.78 117.02h0.6v0.6h-0.6zM72.61 119.61h0.6v0.6h-0.6zM69.36 119.15h0.6v0.6h-0.6zM71.07 127.36h0.6v0.6h-0.6zM76.06 123.28h0.6v0.6h-0.6zM72.65 120.66h0.6v0.6h-0.6zM74.01 121.9h0.6v0.6h-0.6zM79.55 117.54h0.6v0.6h-0.6zM68.16 118.82h0.6v0.6h-0.6zM83.43 112.6h0.6v0.6h-0.6zM75.53 126.23h0.6v0.6h-0.6zM81.8 117.77h0.6v0.6h-0.6zM76.87 130.07h0.6v0.6h-0.6zM77.61 120.26h0.6v0.6h-0.6zM69.78 114.59h0.6v0.6h-0.6zM66.82 125.76h0.6v0.6h-0.6z"/>
<path fill="#000" d="M66.98 129.4h0.4v0.4h-0.4zM63.07 126.4h0.4v0.4h-0.4zM65.18 126.36h0.4v0.4h-0.4zM68.25 132.88h0.4v0.4h-0.4zM73.07 132.2h0.4v0.4h-0.4zM64.52 127.82h0.4v0.4h-0.4zM57.37 128.51h0.4v0.4h-0.4zM65.56 132.42h0.4v0.4h-0.4zM67.53 131.47h0.4v0.4h-0.4zM66.53 131.65h0.4v0.4h-0.4zM69.62 127.34h0.4v0.4h-0.4zM64.86 126.53h0.4v0.4h-0.4zM70.05 133.24h0.4v0.4h-0.4zM67.88 127h0.4v0.4h-0.4zM66.43 129.41h0.4v0.4h-0.4zM66.2 129.53h0.4v0.4h-0.4zM67.3 129.01h0.4v0.4h-0.4zM68.14 130.6h0.4v0.4h-0.4zM65.27 129.72h0.4v0.4h-0.4zM64.9 132.03h0.4v0.4h-0.4zM68.37 137.77h0.4v0.4h-0.4zM67.65 127.09h0.4v0.4h-0.4zM75.44 129.65h0.4v0.4h-0.4zM74.07 138.52h0.4v0.4h-0.4zM60.06 130.33h0.4v0.4h-0.4zM66.92 131.08h0.4v0.4h-0.4zM64.86 154.3h0.4v0.4h-0.4zM82.42 144.78h0.4v0.4h-0.4zM96.58 129.52h0.4v0.4h-0.4z"/>
</g>
<path d="M52.6 104.6H105.3V165" stroke="#555" stroke-width="0.9" fill="none"/>
<path d="M52.6 104.6V165H105.3" stroke="#222" stroke-width="1.0" fill="none"/>
<path d="M52.6 165v2.2M52.6 165h-2.2M56.6 165v1.2M52.6 160.5h-1.2M58.9 165v1.2M52.6 157.8h-1.2M60.5 165v1.2M52.6 155.9h-1.2M61.8 165v1.2M52.6 154.4h-1.2M62.9 165v1.2M52.6 153.2h-1.2M63.7 165v1.2M52.6 152.2h-1.2M64.5 165v1.2M52.6 151.4h-1.2M65.2 165v1.2M52.6 150.6h-1.2M65.8 165v2.2M52.6 149.9h-2.2M69.7 165v1.2M52.6 145.4h-1.2M72.1 165v1.2M52.6 142.7h-1.2M73.7 165v1.2M52.6 140.8h-1.2M75 165v1.2M52.6 139.3h-1.2M76 165v1.2M52.6 138.1h-1.2M76.9 165v1.2M52.6 137.1h-1.2M77.7 165v1.2M52.6 136.3h-1.2M78.3 165v1.2M52.6 135.5h-1.2M79 165v2.2M52.6 134.8h-2.2M82.9 165v1.2M52.6 130.3h-1.2M85.2 165v1.2M52.6 127.6h-1.2M86.9 165v1.2M52.6 125.7h-1.2M88.2 165v1.2M52.6 124.2h-1.2M89.2 165v1.2M52.6 123h-1.2M90.1 165v1.2M52.6 122h-1.2M90.8 165v1.2M52.6 121.2h-1.2M91.5 165v1.2M52.6 120.4h-1.2M92.1 165v2.2M52.6 119.7h-2.2M96.1 165v1.2M52.6 115.2h-1.2M98.4 165v1.2M52.6 112.5h-1.2M100.1 165v1.2M52.6 110.6h-1.2M101.3 165v1.2M52.6 109.1h-1.2M102.4 165v1.2M52.6 107.9h-1.2M103.3 165v1.2M52.6 106.9h-1.2M104 165v1.2M52.6 106.1h-1.2M104.7 165v1.2M52.6 105.3h-1.2M105.3 165v2.2M52.6 104.6h-2.2" stroke="#222" stroke-width="0.6" fill="none"/>
<text x="52.5" y="172.1" font-size="4.7" fill="#000" font-weight="bold" text-anchor="middle">10</text>
<text x="55" y="169.9" font-size="4.3" fill="#000" font-weight="bold">0</text>
<text font-size="4.7" fill="#000" font-weight="bold" text-anchor="middle" transform="translate(48.9,165) rotate(-90)">10</text>
<text font-size="4.3" fill="#000" font-weight="bold" transform="translate(46.9,162.2) rotate(-90)">0</text>
<text x="65.3" y="172.1" font-size="4.7" fill="#000" font-weight="bold" text-anchor="middle">10</text>
<text x="67.8" y="169.9" font-size="4.3" fill="#000" font-weight="bold">1</text>
<text font-size="4.7" fill="#000" font-weight="bold" text-anchor="middle" transform="translate(48.9,150.3) rotate(-90)">10</text>
<text font-size="4.3" fill="#000" font-weight="bold" transform="translate(46.9,147.5) rotate(-90)">1</text>
<text x="78.1" y="172.1" font-size="4.7" fill="#000" font-weight="bold" text-anchor="middle">10</text>
<text x="80.6" y="169.9" font-size="4.3" fill="#000" font-weight="bold">2</text>
<text font-size="4.7" fill="#000" font-weight="bold" text-anchor="middle" transform="translate(48.9,135.6) rotate(-90)">10</text>
<text font-size="4.3" fill="#000" font-weight="bold" transform="translate(46.9,132.8) rotate(-90)">2</text>
<text x="90.9" y="172.1" font-size="4.7" fill="#000" font-weight="bold" text-anchor="middle">10</text>
<text x="93.4" y="169.9" font-size="4.3" fill="#000" font-weight="bold">3</text>
<text font-size="4.7" fill="#000" font-weight="bold" text-anchor="middle" transform="translate(48.9,120.9) rotate(-90)">10</text>
<text font-size="4.3" fill="#000" font-weight="bold" transform="translate(46.9,118.1) rotate(-90)">3</text>
<text x="103.7" y="172.1" font-size="4.7" fill="#000" font-weight="bold" text-anchor="middle">10</text>
<text x="106.2" y="169.9" font-size="4.3" fill="#000" font-weight="bold">4</text>
<text font-size="4.7" fill="#000" font-weight="bold" text-anchor="middle" transform="translate(48.9,106.2) rotate(-90)">10</text>
<text font-size="4.3" fill="#000" font-weight="bold" transform="translate(46.9,103.4) rotate(-90)">4</text>
<text font-size="9.0" font-weight="bold" stroke="#000" stroke-width="0.2" text-anchor="middle" transform="translate(30.8,138.8) rotate(-90) scale(1,1.1)">CD45RO</text>
<text font-size="9.0" font-weight="bold" stroke="#000" stroke-width="0.2" text-anchor="middle" transform="translate(79.6,184.7) scale(1,1.1)">CD3</text>
<clipPath id="c5"><rect x="151.5" y="105.2" width="52.8" height="59.6"/></clipPath>
<g stroke="#444" stroke-width="0.8" fill="none">
<line x1="168.3" y1="105.2" x2="168.3" y2="164.8"/>
<line x1="151.5" y1="144.7" x2="204.3" y2="144.7"/>
</g>
<g clip-path="url(#c5)">
<path fill="#000" stroke="#000" stroke-opacity="0.35" stroke-width="1.4" stroke-linejoin="round" d="M162.8 112.4 L164.3 114.4 L164.3 116.3 L163.3 118.8 L160.8 122.3 L157.9 124.2 L153.9 126.2 L151.5 126 L151.5 115.8 L153.4 115.8 L156.9 113.9 L159.8 112.4Z"/>
<path fill="#000" d="M154.08 121.91h0.6v0.6h-0.6zM161.11 116.83h0.6v0.6h-0.6zM152.65 116.98h0.6v0.6h-0.6zM159.81 119.55h0.6v0.6h-0.6zM154.55 117.31h0.6v0.6h-0.6zM167.65 125.63h0.6v0.6h-0.6zM157.38 121.4h0.6v0.6h-0.6zM152.82 108.39h0.6v0.6h-0.6zM156.68 116h0.6v0.6h-0.6zM164.39 112.56h0.6v0.6h-0.6zM153.41 121.34h0.6v0.6h-0.6zM157.3 116.35h0.6v0.6h-0.6zM153.98 114.41h0.6v0.6h-0.6zM159 122.65h0.6v0.6h-0.6zM170.04 113.63h0.6v0.6h-0.6zM162.67 122.11h0.6v0.6h-0.6zM167.83 120.82h0.6v0.6h-0.6zM163.22 114.25h0.6v0.6h-0.6zM159.82 118.6h0.6v0.6h-0.6zM160.1 118.5h0.6v0.6h-0.6zM148.16 114.67h0.6v0.6h-0.6zM148.95 114.5h0.6v0.6h-0.6zM158.36 118.74h0.6v0.6h-0.6zM151.32 128.15h0.6v0.6h-0.6zM162.71 115.87h0.6v0.6h-0.6zM171.73 118.96h0.6v0.6h-0.6zM154.69 127.5h0.6v0.6h-0.6zM161.42 118.72h0.6v0.6h-0.6zM160.79 112.71h0.6v0.6h-0.6zM152.68 118.44h0.6v0.6h-0.6zM153.86 121.67h0.6v0.6h-0.6zM147.67 121.1h0.6v0.6h-0.6zM160.76 116.44h0.6v0.6h-0.6zM154.73 110.77h0.6v0.6h-0.6zM152.45 120.17h0.6v0.6h-0.6zM156.54 116.79h0.6v0.6h-0.6zM162.62 115.06h0.6v0.6h-0.6zM158.12 118.98h0.6v0.6h-0.6zM160.32 114.49h0.6v0.6h-0.6zM165.02 116.14h0.6v0.6h-0.6zM158.9 118.53h0.6v0.6h-0.6zM163.48 120.52h0.6v0.6h-0.6zM163.88 116.55h0.6v0.6h-0.6zM162.82 115.91h0.6v0.6h-0.6zM164.34 113.89h0.6v0.6h-0.6zM151.08 132.05h0.6v0.6h-0.6zM155.31 114.42h0.6v0.6h-0.6zM154.54 116.66h0.6v0.6h-0.6zM170.14 112.36h0.6v0.6h-0.6zM151.48 127.21h0.6v0.6h-0.6zM161.27 127.39h0.6v0.6h-0.6zM146.38 115.24h0.6v0.6h-0.6zM157.37 117.5h0.6v0.6h-0.6zM149.93 113.07h0.6v0.6h-0.6zM164.82 123.23h0.6v0.6h-0.6zM151.47 130.79h0.6v0.6h-0.6zM161.59 129.61h0.6v0.6h-0.6zM159.71 116.59h0.6v0.6h-0.6zM165.12 116.44h0.6v0.6h-0.6zM156.93 123.89h0.6v0.6h-0.6zM150.43 114.7h0.6v0.6h-0.6zM167.44 109.63h0.6v0.6h-0.6zM155.82 122.64h0.6v0.6h-0.6zM146.26 120.44h0.6v0.6h-0.6zM154 119.16h0.6v0.6h-0.6zM161.48 122.69h0.6v0.6h-0.6zM156.94 122.64h0.6v0.6h-0.6zM158.08 112.75h0.6v0.6h-0.6zM156.56 114.74h0.6v0.6h-0.6zM164.71 116.36h0.6v0.6h-0.6zM154.37 114.18h0.6v0.6h-0.6zM156.47 115.82h0.6v0.6h-0.6zM161.29 115.75h0.6v0.6h-0.6zM156.4 125.53h0.6v0.6h-0.6zM160.05 114.01h0.6v0.6h-0.6zM163.13 113.29h0.6v0.6h-0.6zM156.76 120.68h0.6v0.6h-0.6zM152.92 120.45h0.6v0.6h-0.6zM161.42 125.07h0.6v0.6h-0.6zM164.96 112.08h0.6v0.6h-0.6zM166.13 112.4h0.6v0.6h-0.6zM162.4 120.61h0.6v0.6h-0.6zM166.19 126.4h0.6v0.6h-0.6zM155.93 113.78h0.6v0.6h-0.6zM163.55 112.31h0.6v0.6h-0.6zM148.15 109.61h0.6v0.6h-0.6zM165.39 117.9h0.6v0.6h-0.6zM164.8 119.27h0.6v0.6h-0.6zM166.53 112.07h0.6v0.6h-0.6zM160.74 112.61h0.6v0.6h-0.6zM159.12 124.16h0.6v0.6h-0.6zM156.31 112.71h0.6v0.6h-0.6zM159.34 116.91h0.6v0.6h-0.6zM155.01 123.82h0.6v0.6h-0.6zM151.58 115.05h0.6v0.6h-0.6zM157.21 129.72h0.6v0.6h-0.6zM150.86 125.85h0.6v0.6h-0.6zM162.9 118.83h0.6v0.6h-0.6zM150.83 122.76h0.6v0.6h-0.6zM160.94 121.27h0.6v0.6h-0.6zM151.47 117.46h0.6v0.6h-0.6zM166.2 118.91h0.6v0.6h-0.6zM158.21 115.36h0.6v0.6h-0.6zM160.39 117.76h0.6v0.6h-0.6zM158.83 111.22h0.6v0.6h-0.6zM158.15 117.97h0.6v0.6h-0.6zM152.91 124.21h0.6v0.6h-0.6zM157.04 117.41h0.6v0.6h-0.6zM156.1 112.38h0.6v0.6h-0.6zM158.92 120.74h0.6v0.6h-0.6zM162.44 121.68h0.6v0.6h-0.6zM147.67 118.46h0.6v0.6h-0.6zM160.49 119.66h0.6v0.6h-0.6zM170.57 112.7h0.6v0.6h-0.6zM155.76 125.36h0.6v0.6h-0.6zM149.55 117.12h0.6v0.6h-0.6zM172.27 109.71h0.6v0.6h-0.6zM163.22 118.14h0.6v0.6h-0.6zM168.07 112.76h0.6v0.6h-0.6zM161.39 110.48h0.6v0.6h-0.6zM154.82 129.63h0.6v0.6h-0.6zM166.97 114.91h0.6v0.6h-0.6zM159.62 118.68h0.6v0.6h-0.6zM158.74 127.21h0.6v0.6h-0.6zM162.78 118.16h0.6v0.6h-0.6zM162.83 121.21h0.6v0.6h-0.6zM162.65 119.62h0.6v0.6h-0.6zM153.43 125.49h0.6v0.6h-0.6zM167.77 108.41h0.6v0.6h-0.6zM159.81 122.68h0.6v0.6h-0.6zM164.63 117.38h0.6v0.6h-0.6zM151.1 127.25h0.6v0.6h-0.6zM149.65 120.81h0.6v0.6h-0.6zM159.99 115.76h0.6v0.6h-0.6zM170.87 126.92h0.6v0.6h-0.6zM163.98 118.45h0.6v0.6h-0.6zM151.63 120.3h0.6v0.6h-0.6zM151.08 121.37h0.6v0.6h-0.6zM150.58 121.03h0.6v0.6h-0.6zM154.16 116.29h0.6v0.6h-0.6zM146.96 119.85h0.6v0.6h-0.6zM160.49 117.4h0.6v0.6h-0.6zM166.15 118.6h0.6v0.6h-0.6zM158.11 122.74h0.6v0.6h-0.6zM156.95 132.86h0.6v0.6h-0.6zM163.53 113.45h0.6v0.6h-0.6zM153.09 125h0.6v0.6h-0.6zM146.26 123.72h0.6v0.6h-0.6zM162.04 116.27h0.6v0.6h-0.6zM158.12 124.34h0.6v0.6h-0.6zM153.47 124.17h0.6v0.6h-0.6zM153.1 117.99h0.6v0.6h-0.6zM157.62 113.62h0.6v0.6h-0.6zM166.12 109.32h0.6v0.6h-0.6zM165.16 107.16h0.6v0.6h-0.6zM157.78 112.32h0.6v0.6h-0.6zM151.57 124.93h0.6v0.6h-0.6zM157.94 111.77h0.6v0.6h-0.6zM161.86 111.43h0.6v0.6h-0.6zM159.72 119.82h0.6v0.6h-0.6zM156.07 110.25h0.6v0.6h-0.6zM167.85 114.51h0.6v0.6h-0.6zM152.98 117.07h0.6v0.6h-0.6zM145.55 120.95h0.6v0.6h-0.6zM159.85 115.61h0.6v0.6h-0.6zM150.74 121.66h0.6v0.6h-0.6zM165.1 111.57h0.6v0.6h-0.6zM158.75 126.13h0.6v0.6h-0.6zM160.49 117.31h0.6v0.6h-0.6zM150.59 115.93h0.6v0.6h-0.6zM150.67 121.98h0.6v0.6h-0.6zM157.86 121.14h0.6v0.6h-0.6zM161.44 117.58h0.6v0.6h-0.6zM156.34 114.55h0.6v0.6h-0.6zM145.52 125.78h0.6v0.6h-0.6zM151.3 120.5h0.6v0.6h-0.6zM153.15 115.69h0.6v0.6h-0.6zM152.03 123.09h0.6v0.6h-0.6zM156.78 116.21h0.6v0.6h-0.6zM159.94 116.23h0.6v0.6h-0.6z"/>
<path fill="#000" d="M160.38 127.59h0.4v0.4h-0.4zM154.83 131.6h0.4v0.4h-0.4zM159.97 131.96h0.4v0.4h-0.4zM154.63 128.83h0.4v0.4h-0.4zM160.09 127.03h0.4v0.4h-0.4zM154.75 131.48h0.4v0.4h-0.4zM161.69 125.54h0.4v0.4h-0.4zM149.21 124.65h0.4v0.4h-0.4zM153.96 128.59h0.4v0.4h-0.4zM158.85 128.56h0.4v0.4h-0.4zM154.9 129.46h0.4v0.4h-0.4zM154.11 128.86h0.4v0.4h-0.4zM155.08 137.04h0.4v0.4h-0.4zM159.45 126.49h0.4v0.4h-0.4zM154.01 127.69h0.4v0.4h-0.4zM152.07 126.81h0.4v0.4h-0.4zM154.79 131.65h0.4v0.4h-0.4zM155.72 126.63h0.4v0.4h-0.4zM152.98 125.47h0.4v0.4h-0.4zM156.8 128.35h0.4v0.4h-0.4zM160.4 127.11h0.4v0.4h-0.4zM160.18 129.77h0.4v0.4h-0.4zM156.99 122.98h0.4v0.4h-0.4zM153.13 131.22h0.4v0.4h-0.4zM161.19 129.62h0.4v0.4h-0.4zM159.29 127.78h0.4v0.4h-0.4zM155.89 127.01h0.4v0.4h-0.4zM159.92 130.03h0.4v0.4h-0.4zM156.3 128.01h0.4v0.4h-0.4zM158.67 129.97h0.4v0.4h-0.4zM154.5 134.15h0.4v0.4h-0.4zM157.77 129.03h0.4v0.4h-0.4zM161.43 132.07h0.4v0.4h-0.4zM156.74 130.61h0.4v0.4h-0.4zM153.79 127.08h0.4v0.4h-0.4zM159.92 133.76h0.4v0.4h-0.4zM162.81 129.45h0.4v0.4h-0.4zM171.35 116.17h0.4v0.4h-0.4zM176.44 126.13h0.4v0.4h-0.4zM182.9 138.17h0.4v0.4h-0.4zM180.87 131.05h0.4v0.4h-0.4zM185.59 137.7h0.4v0.4h-0.4zM173.63 153.03h0.4v0.4h-0.4zM153.34 106.91h0.4v0.4h-0.4z"/>
<path fill="#fff" d="M153.65 123.96h0.5v0.5h-0.5zM159.41 117.19h0.5v0.5h-0.5zM160.88 122.56h0.5v0.5h-0.5zM158.28 117.61h0.5v0.5h-0.5zM160.94 118.51h0.5v0.5h-0.5zM155.05 122.01h0.5v0.5h-0.5zM157.5 120.99h0.5v0.5h-0.5zM157.56 124.86h0.5v0.5h-0.5zM152.69 121.28h0.5v0.5h-0.5zM158.96 121.92h0.5v0.5h-0.5zM156.94 117.87h0.5v0.5h-0.5zM159.3 120.95h0.5v0.5h-0.5zM158.25 116.29h0.5v0.5h-0.5zM156.09 121.05h0.5v0.5h-0.5zM151.14 123.53h0.5v0.5h-0.5z"/>
</g>
<path d="M151.5 105.2H204.3V164.8" stroke="#555" stroke-width="0.9" fill="none"/>
<path d="M151.5 105.2V164.8H204.3" stroke="#222" stroke-width="1.0" fill="none"/>
<path d="M151.5 164.8v2.2M151.5 164.8h-2.2M155.5 164.8v1.2M151.5 160.3h-1.2M157.8 164.8v1.2M151.5 157.7h-1.2M159.4 164.8v1.2M151.5 155.8h-1.2M160.7 164.8v1.2M151.5 154.4h-1.2M161.8 164.8v1.2M151.5 153.2h-1.2M162.7 164.8v1.2M151.5 152.2h-1.2M163.4 164.8v1.2M151.5 151.3h-1.2M164.1 164.8v1.2M151.5 150.6h-1.2M164.7 164.8v2.2M151.5 149.9h-2.2M168.7 164.8v1.2M151.5 145.4h-1.2M171 164.8v1.2M151.5 142.8h-1.2M172.6 164.8v1.2M151.5 140.9h-1.2M173.9 164.8v1.2M151.5 139.5h-1.2M175 164.8v1.2M151.5 138.3h-1.2M175.9 164.8v1.2M151.5 137.3h-1.2M176.6 164.8v1.2M151.5 136.4h-1.2M177.3 164.8v1.2M151.5 135.7h-1.2M177.9 164.8v2.2M151.5 135h-2.2M181.9 164.8v1.2M151.5 130.5h-1.2M184.2 164.8v1.2M151.5 127.9h-1.2M185.8 164.8v1.2M151.5 126h-1.2M187.1 164.8v1.2M151.5 124.6h-1.2M188.2 164.8v1.2M151.5 123.4h-1.2M189.1 164.8v1.2M151.5 122.4h-1.2M189.8 164.8v1.2M151.5 121.5h-1.2M190.5 164.8v1.2M151.5 120.8h-1.2M191.1 164.8v2.2M151.5 120.1h-2.2M195.1 164.8v1.2M151.5 115.6h-1.2M197.4 164.8v1.2M151.5 113h-1.2M199 164.8v1.2M151.5 111.1h-1.2M200.3 164.8v1.2M151.5 109.7h-1.2M201.4 164.8v1.2M151.5 108.5h-1.2M202.3 164.8v1.2M151.5 107.5h-1.2M203 164.8v1.2M151.5 106.6h-1.2M203.7 164.8v1.2M151.5 105.9h-1.2M204.3 164.8v2.2M151.5 105.2h-2.2" stroke="#222" stroke-width="0.6" fill="none"/>
<text x="151.4" y="171.9" font-size="4.7" fill="#000" font-weight="bold" text-anchor="middle">10</text>
<text x="153.9" y="169.7" font-size="4.3" fill="#000" font-weight="bold">0</text>
<text font-size="4.7" fill="#000" font-weight="bold" text-anchor="middle" transform="translate(147.8,164.8) rotate(-90)">10</text>
<text font-size="4.3" fill="#000" font-weight="bold" transform="translate(145.8,162) rotate(-90)">0</text>
<text x="164.2" y="171.9" font-size="4.7" fill="#000" font-weight="bold" text-anchor="middle">10</text>
<text x="166.7" y="169.7" font-size="4.3" fill="#000" font-weight="bold">1</text>
<text font-size="4.7" fill="#000" font-weight="bold" text-anchor="middle" transform="translate(147.8,150.3) rotate(-90)">10</text>
<text font-size="4.3" fill="#000" font-weight="bold" transform="translate(145.8,147.5) rotate(-90)">1</text>
<text x="177.1" y="171.9" font-size="4.7" fill="#000" font-weight="bold" text-anchor="middle">10</text>
<text x="179.6" y="169.7" font-size="4.3" fill="#000" font-weight="bold">2</text>
<text font-size="4.7" fill="#000" font-weight="bold" text-anchor="middle" transform="translate(147.8,135.8) rotate(-90)">10</text>
<text font-size="4.3" fill="#000" font-weight="bold" transform="translate(145.8,133) rotate(-90)">2</text>
<text x="189.9" y="171.9" font-size="4.7" fill="#000" font-weight="bold" text-anchor="middle">10</text>
<text x="192.4" y="169.7" font-size="4.3" fill="#000" font-weight="bold">3</text>
<text font-size="4.7" fill="#000" font-weight="bold" text-anchor="middle" transform="translate(147.8,121.3) rotate(-90)">10</text>
<text font-size="4.3" fill="#000" font-weight="bold" transform="translate(145.8,118.5) rotate(-90)">3</text>
<text x="202.7" y="171.9" font-size="4.7" fill="#000" font-weight="bold" text-anchor="middle">10</text>
<text x="205.2" y="169.7" font-size="4.3" fill="#000" font-weight="bold">4</text>
<text font-size="4.7" fill="#000" font-weight="bold" text-anchor="middle" transform="translate(147.8,106.8) rotate(-90)">10</text>
<text font-size="4.3" fill="#000" font-weight="bold" transform="translate(145.8,104) rotate(-90)">4</text>
<text font-size="9.0" font-weight="bold" stroke="#000" stroke-width="0.2" text-anchor="middle" transform="translate(133.8,136.3) rotate(-90) scale(1,1.1)">CD45RA</text>
<text font-size="9.0" font-weight="bold" stroke="#000" stroke-width="0.2" text-anchor="middle" transform="translate(179,184.7) scale(1,1.1)">CD3</text>
<clipPath id="c6"><rect x="252.2" y="104.5" width="58.6" height="59.8"/></clipPath>
<g stroke="#444" stroke-width="0.8" fill="none">
<line x1="270.1" y1="104.5" x2="270.1" y2="164.3"/>
<line x1="252.2" y1="145.4" x2="310.8" y2="145.4"/>
</g>
<g clip-path="url(#c6)">
<path fill="#666" stroke="#666" stroke-opacity="0.35" stroke-width="1.4" stroke-linejoin="round" d="M283 106.5 L290 106 L299 106 L304 107.5 L305 110.5 L302 113.5 L295 115 L288 117 L282 118 L278 117 L276 112 L278 108Z"/>
<path fill="#aaa" stroke="#aaa" stroke-opacity="0.35" stroke-width="1.4" stroke-linejoin="round" d="M263 107.5 L266 106.5 L269.5 107 L270 110.5 L267 111.5 L263.5 111Z"/>
<path fill="#000" d="M295.49 111.35h0.65v0.65h-0.65zM290.08 108.43h0.65v0.65h-0.65zM299.35 105.26h0.65v0.65h-0.65zM289.6 114.88h0.65v0.65h-0.65zM273.62 109.42h0.65v0.65h-0.65zM298.91 105.42h0.65v0.65h-0.65zM313.08 102.04h0.65v0.65h-0.65zM304.99 114.09h0.65v0.65h-0.65zM300.83 109.32h0.65v0.65h-0.65zM296.54 107.65h0.65v0.65h-0.65zM299.9 106.85h0.65v0.65h-0.65zM292.09 113.19h0.65v0.65h-0.65zM285.6 109.72h0.65v0.65h-0.65zM295.03 106.48h0.65v0.65h-0.65zM302.77 110.8h0.65v0.65h-0.65zM282.64 110.76h0.65v0.65h-0.65zM288.1 108.77h0.65v0.65h-0.65zM294.47 108.29h0.65v0.65h-0.65zM301.12 107.95h0.65v0.65h-0.65zM301.35 109.79h0.65v0.65h-0.65zM300.33 108.45h0.65v0.65h-0.65zM290.05 107.28h0.65v0.65h-0.65zM298.47 112.7h0.65v0.65h-0.65zM310.06 113.08h0.65v0.65h-0.65zM295.84 109.61h0.65v0.65h-0.65zM296.91 110.07h0.65v0.65h-0.65zM305.1 112.36h0.65v0.65h-0.65zM287.63 108.71h0.65v0.65h-0.65zM304.29 110.62h0.65v0.65h-0.65zM292.44 113.71h0.65v0.65h-0.65zM291.06 109.67h0.65v0.65h-0.65zM290.26 105h0.65v0.65h-0.65zM300.3 106.58h0.65v0.65h-0.65zM289.63 108.44h0.65v0.65h-0.65zM299.43 109.82h0.65v0.65h-0.65zM293.87 105.6h0.65v0.65h-0.65zM293.13 106.21h0.65v0.65h-0.65zM296.35 111.2h0.65v0.65h-0.65zM294.17 116.02h0.65v0.65h-0.65zM298.04 111.76h0.65v0.65h-0.65zM295.04 109.71h0.65v0.65h-0.65zM301.4 113h0.65v0.65h-0.65zM284.41 113.76h0.65v0.65h-0.65zM297.99 112.78h0.65v0.65h-0.65zM297.31 106.64h0.65v0.65h-0.65zM285.48 115.86h0.65v0.65h-0.65zM295.68 106.24h0.65v0.65h-0.65zM296.55 109.15h0.65v0.65h-0.65zM279.86 104.62h0.65v0.65h-0.65zM282.04 111.69h0.65v0.65h-0.65zM293.6 109.62h0.65v0.65h-0.65zM296.22 111.87h0.65v0.65h-0.65zM278.21 110.28h0.65v0.65h-0.65zM287.62 107.18h0.65v0.65h-0.65zM289.88 110.17h0.65v0.65h-0.65zM291.79 106.34h0.65v0.65h-0.65zM290.68 116.13h0.65v0.65h-0.65zM285.85 106h0.65v0.65h-0.65zM296.15 111.86h0.65v0.65h-0.65zM297.31 106.99h0.65v0.65h-0.65zM301.36 107.71h0.65v0.65h-0.65zM285.41 109.04h0.65v0.65h-0.65zM293.29 112.34h0.65v0.65h-0.65zM298.67 109.99h0.65v0.65h-0.65zM301 110.16h0.65v0.65h-0.65zM300.5 106.02h0.65v0.65h-0.65zM282.32 113.09h0.65v0.65h-0.65zM283.54 110h0.65v0.65h-0.65zM293.19 108.97h0.65v0.65h-0.65zM290.81 114.37h0.65v0.65h-0.65zM275.18 113.76h0.65v0.65h-0.65zM311.19 109.47h0.65v0.65h-0.65zM293.96 112.34h0.65v0.65h-0.65zM307.52 106.26h0.65v0.65h-0.65zM294.63 109.74h0.65v0.65h-0.65zM298.21 110.53h0.65v0.65h-0.65zM298.88 108.86h0.65v0.65h-0.65zM294.27 108.41h0.65v0.65h-0.65zM289 110.16h0.65v0.65h-0.65zM292.76 107.08h0.65v0.65h-0.65zM305.74 109.31h0.65v0.65h-0.65zM283.8 113.92h0.65v0.65h-0.65zM288.47 112.01h0.65v0.65h-0.65zM293.91 111.01h0.65v0.65h-0.65zM295.2 108.62h0.65v0.65h-0.65zM294.6 115.97h0.65v0.65h-0.65zM277.25 111.36h0.65v0.65h-0.65zM297.1 107.19h0.65v0.65h-0.65zM284.05 116.87h0.65v0.65h-0.65zM291.52 116.26h0.65v0.65h-0.65zM298.02 110.3h0.65v0.65h-0.65zM297.66 111.89h0.65v0.65h-0.65zM302.9 111.06h0.65v0.65h-0.65zM295.11 110.74h0.65v0.65h-0.65zM304.25 112.05h0.65v0.65h-0.65zM286.4 108.92h0.65v0.65h-0.65zM296.39 108.43h0.65v0.65h-0.65zM291.04 107.77h0.65v0.65h-0.65zM292.1 111.59h0.65v0.65h-0.65zM301.45 109.94h0.65v0.65h-0.65zM309.53 109.27h0.65v0.65h-0.65zM318.06 111.85h0.65v0.65h-0.65zM297.65 108.71h0.65v0.65h-0.65zM272.82 110.97h0.65v0.65h-0.65zM295.62 115.61h0.65v0.65h-0.65zM283.95 116.17h0.65v0.65h-0.65zM292.22 112.42h0.65v0.65h-0.65zM275 111.69h0.65v0.65h-0.65zM291.53 112.34h0.65v0.65h-0.65zM294.52 107.07h0.65v0.65h-0.65zM301.19 111.87h0.65v0.65h-0.65zM298.62 112.89h0.65v0.65h-0.65zM302.24 109.81h0.65v0.65h-0.65zM283.63 106.96h0.65v0.65h-0.65zM304.21 111.76h0.65v0.65h-0.65zM294.7 109.04h0.65v0.65h-0.65zM294.24 110.36h0.65v0.65h-0.65zM291.38 108.48h0.65v0.65h-0.65zM310.24 110.09h0.65v0.65h-0.65zM289.27 106.9h0.65v0.65h-0.65zM288.67 112.6h0.65v0.65h-0.65zM299.65 109.39h0.65v0.65h-0.65zM294.34 109.43h0.65v0.65h-0.65zM285.89 114.37h0.65v0.65h-0.65zM297.15 117.08h0.65v0.65h-0.65zM288.32 110.21h0.65v0.65h-0.65zM300.58 109.27h0.65v0.65h-0.65zM283.47 108.19h0.65v0.65h-0.65zM294.8 111.22h0.65v0.65h-0.65zM293.44 113.14h0.65v0.65h-0.65zM301.48 110.81h0.65v0.65h-0.65zM294.16 109.58h0.65v0.65h-0.65zM298.26 112.66h0.65v0.65h-0.65zM294.52 111.53h0.65v0.65h-0.65zM291.36 106.48h0.65v0.65h-0.65zM286.62 112.83h0.65v0.65h-0.65zM297.58 114.57h0.65v0.65h-0.65zM294.55 112.7h0.65v0.65h-0.65zM304.05 112.56h0.65v0.65h-0.65zM289.42 110.02h0.65v0.65h-0.65zM294.83 107.49h0.65v0.65h-0.65zM297.7 112.98h0.65v0.65h-0.65zM290.69 116h0.65v0.65h-0.65zM291.79 109.85h0.65v0.65h-0.65zM292.11 108.41h0.65v0.65h-0.65zM297.13 110.19h0.65v0.65h-0.65zM306.53 111.35h0.65v0.65h-0.65zM297.99 109.47h0.65v0.65h-0.65zM283.39 110.6h0.65v0.65h-0.65zM287.77 113.3h0.65v0.65h-0.65zM294.02 114.97h0.65v0.65h-0.65zM299.63 112.35h0.65v0.65h-0.65zM295.76 110.79h0.65v0.65h-0.65zM299.03 112.62h0.65v0.65h-0.65zM288.75 111.96h0.65v0.65h-0.65zM313.62 109.02h0.65v0.65h-0.65zM291.98 108.46h0.65v0.65h-0.65zM283.32 114.19h0.65v0.65h-0.65zM294.5 111.11h0.65v0.65h-0.65zM308.18 116.59h0.65v0.65h-0.65zM287.5 113.6h0.65v0.65h-0.65zM298.73 111.17h0.65v0.65h-0.65zM297.59 110.05h0.65v0.65h-0.65zM306.01 111.4h0.65v0.65h-0.65zM296.78 113.66h0.65v0.65h-0.65zM300.8 111.24h0.65v0.65h-0.65zM296.73 115.09h0.65v0.65h-0.65zM297.82 109.86h0.65v0.65h-0.65zM287.55 109.68h0.65v0.65h-0.65zM286.18 111.02h0.65v0.65h-0.65zM295.65 104.47h0.65v0.65h-0.65zM294.25 112.11h0.65v0.65h-0.65zM295.13 107.57h0.65v0.65h-0.65zM303.42 107.86h0.65v0.65h-0.65zM284.66 107.77h0.65v0.65h-0.65zM294.05 113.06h0.65v0.65h-0.65zM302.78 110.43h0.65v0.65h-0.65zM284.98 108.94h0.65v0.65h-0.65zM287.27 110.16h0.65v0.65h-0.65zM280.74 111.31h0.65v0.65h-0.65zM298.82 109.63h0.65v0.65h-0.65zM297.32 107.5h0.65v0.65h-0.65zM283.02 109.09h0.65v0.65h-0.65zM302.82 112.73h0.65v0.65h-0.65zM290.76 113.85h0.65v0.65h-0.65zM291.79 114.66h0.65v0.65h-0.65zM297.55 108.85h0.65v0.65h-0.65zM299.85 107.82h0.65v0.65h-0.65zM286.78 106.61h0.65v0.65h-0.65zM295.93 110.05h0.65v0.65h-0.65zM293.36 109.18h0.65v0.65h-0.65zM304.71 108.55h0.65v0.65h-0.65zM288.76 114.07h0.65v0.65h-0.65zM304.69 110.69h0.65v0.65h-0.65zM280.88 109.31h0.65v0.65h-0.65zM298.59 110.11h0.65v0.65h-0.65zM305.44 105.87h0.65v0.65h-0.65zM298.99 108.28h0.65v0.65h-0.65zM303.9 109.57h0.65v0.65h-0.65zM301.62 108.08h0.65v0.65h-0.65zM283.28 107.75h0.65v0.65h-0.65zM289.31 107.67h0.65v0.65h-0.65zM303.19 113.57h0.65v0.65h-0.65zM295.89 107.3h0.65v0.65h-0.65zM293.01 108.43h0.65v0.65h-0.65zM304.94 110.61h0.65v0.65h-0.65zM297.61 108.99h0.65v0.65h-0.65zM278.82 108.93h0.65v0.65h-0.65zM285.69 111.77h0.65v0.65h-0.65zM294.61 108.02h0.65v0.65h-0.65zM291.32 114.83h0.65v0.65h-0.65zM286.68 108.11h0.65v0.65h-0.65zM292.19 108.43h0.65v0.65h-0.65zM290.87 111.95h0.65v0.65h-0.65zM306.71 104.64h0.65v0.65h-0.65zM293.87 110.42h0.65v0.65h-0.65zM293.34 109.81h0.65v0.65h-0.65zM291.6 113.24h0.65v0.65h-0.65zM290.5 110.13h0.65v0.65h-0.65zM294.01 110.6h0.65v0.65h-0.65zM292.87 113.16h0.65v0.65h-0.65zM293.96 110.79h0.65v0.65h-0.65zM293.47 107.52h0.65v0.65h-0.65zM287.63 107.69h0.65v0.65h-0.65zM295.34 108.23h0.65v0.65h-0.65zM286.09 111.38h0.65v0.65h-0.65zM297.67 105.17h0.65v0.65h-0.65zM306.66 109.73h0.65v0.65h-0.65zM293.37 113.32h0.65v0.65h-0.65zM294.43 108.58h0.65v0.65h-0.65zM310.28 106.43h0.65v0.65h-0.65zM293.39 112.71h0.65v0.65h-0.65zM285.97 110.43h0.65v0.65h-0.65zM297.25 116.86h0.65v0.65h-0.65zM287.31 110.52h0.65v0.65h-0.65zM298.95 110.27h0.65v0.65h-0.65zM285.05 111.91h0.65v0.65h-0.65zM294.87 111.5h0.65v0.65h-0.65zM302.62 112.69h0.65v0.65h-0.65zM297.1 111.01h0.65v0.65h-0.65zM285.75 110.36h0.65v0.65h-0.65zM295.59 109.09h0.65v0.65h-0.65zM294.61 107.95h0.65v0.65h-0.65zM305.81 115.72h0.65v0.65h-0.65zM291.14 111.57h0.65v0.65h-0.65zM292.43 113.92h0.65v0.65h-0.65zM297.27 110.35h0.65v0.65h-0.65zM292.34 110.74h0.65v0.65h-0.65zM286.61 112.58h0.65v0.65h-0.65zM288.73 112.08h0.65v0.65h-0.65zM295.13 113.31h0.65v0.65h-0.65zM294.02 113.17h0.65v0.65h-0.65zM287.18 112.37h0.65v0.65h-0.65zM292.35 110.93h0.65v0.65h-0.65zM294.67 112.89h0.65v0.65h-0.65zM278.92 112h0.65v0.65h-0.65zM282.98 114.26h0.65v0.65h-0.65zM279.08 108.27h0.65v0.65h-0.65zM281.7 115.54h0.65v0.65h-0.65zM284.36 111.12h0.65v0.65h-0.65zM289.72 105.48h0.65v0.65h-0.65zM291.57 112.29h0.65v0.65h-0.65zM292.76 113h0.65v0.65h-0.65zM291.29 110.46h0.65v0.65h-0.65zM291.17 111.41h0.65v0.65h-0.65zM308.28 110.57h0.65v0.65h-0.65zM295.37 108.49h0.65v0.65h-0.65zM288.56 114.69h0.65v0.65h-0.65zM285.54 108.18h0.65v0.65h-0.65zM293.21 109.15h0.65v0.65h-0.65zM308.3 102.92h0.65v0.65h-0.65zM296.81 112.15h0.65v0.65h-0.65zM285.51 108.94h0.65v0.65h-0.65zM297.48 114.69h0.65v0.65h-0.65zM286.87 106.25h0.65v0.65h-0.65zM301.51 114.18h0.65v0.65h-0.65zM291.17 104.24h0.65v0.65h-0.65zM304.84 109.17h0.65v0.65h-0.65zM302.41 109.74h0.65v0.65h-0.65zM291.12 109.18h0.65v0.65h-0.65zM305.25 113.73h0.65v0.65h-0.65zM277.85 108.52h0.65v0.65h-0.65zM307.26 108.58h0.65v0.65h-0.65zM283.81 110.85h0.65v0.65h-0.65zM293.17 110.07h0.65v0.65h-0.65zM290.36 109.62h0.65v0.65h-0.65zM290.63 111.41h0.65v0.65h-0.65zM287.87 109.81h0.65v0.65h-0.65zM293.11 114.01h0.65v0.65h-0.65zM296.78 109.85h0.65v0.65h-0.65zM298.08 111.23h0.65v0.65h-0.65zM302.22 111.29h0.65v0.65h-0.65zM307.63 113.36h0.65v0.65h-0.65zM293.63 109.16h0.65v0.65h-0.65zM300.69 111.4h0.65v0.65h-0.65zM293.08 106.21h0.65v0.65h-0.65zM280.33 111.99h0.65v0.65h-0.65zM299.89 112.24h0.65v0.65h-0.65zM284.51 113.71h0.65v0.65h-0.65zM290.06 111.6h0.65v0.65h-0.65zM297 107.89h0.65v0.65h-0.65zM289.27 104.74h0.65v0.65h-0.65zM286.87 105.62h0.65v0.65h-0.65zM297.28 110.3h0.65v0.65h-0.65zM300.9 110.94h0.65v0.65h-0.65zM289.3 111.52h0.65v0.65h-0.65zM291.17 112.16h0.65v0.65h-0.65zM296.22 107.41h0.65v0.65h-0.65zM294.02 110.45h0.65v0.65h-0.65zM291.83 112.92h0.65v0.65h-0.65zM306.78 108.6h0.65v0.65h-0.65zM291.04 104.15h0.65v0.65h-0.65zM292.97 109.13h0.65v0.65h-0.65zM277.86 111.95h0.65v0.65h-0.65zM298.32 108.02h0.65v0.65h-0.65zM291.07 107.74h0.65v0.65h-0.65zM299.49 105.76h0.65v0.65h-0.65zM291.94 115.88h0.65v0.65h-0.65zM294.45 111.59h0.65v0.65h-0.65zM292.73 107.07h0.65v0.65h-0.65zM293.81 111.45h0.65v0.65h-0.65zM286.39 111.66h0.65v0.65h-0.65zM303.48 112.8h0.65v0.65h-0.65zM282 108.19h0.65v0.65h-0.65zM282.07 113.93h0.65v0.65h-0.65zM298.67 112.03h0.65v0.65h-0.65zM287.25 107.38h0.65v0.65h-0.65zM294.59 110.55h0.65v0.65h-0.65zM287.62 111.03h0.65v0.65h-0.65zM298.86 110.68h0.65v0.65h-0.65zM285.91 104.8h0.65v0.65h-0.65zM292.09 110.86h0.65v0.65h-0.65zM291.99 109.2h0.65v0.65h-0.65zM288.93 112.57h0.65v0.65h-0.65zM293.63 110.67h0.65v0.65h-0.65zM286.63 108.95h0.65v0.65h-0.65zM295.08 107.42h0.65v0.65h-0.65zM284.52 109.87h0.65v0.65h-0.65zM303.02 110.36h0.65v0.65h-0.65zM304.91 109.36h0.65v0.65h-0.65zM291.47 106.53h0.65v0.65h-0.65zM289.89 114.54h0.65v0.65h-0.65zM296.56 112.22h0.65v0.65h-0.65zM299.28 110h0.65v0.65h-0.65zM292.48 110.71h0.65v0.65h-0.65zM299.09 111.32h0.65v0.65h-0.65zM297.71 110.54h0.65v0.65h-0.65zM288.2 109.87h0.65v0.65h-0.65zM287.1 113.48h0.65v0.65h-0.65zM278.22 110.52h0.65v0.65h-0.65zM311.83 108.41h0.65v0.65h-0.65zM285.5 110.7h0.65v0.65h-0.65zM303.63 109.35h0.65v0.65h-0.65zM298.61 110.34h0.65v0.65h-0.65zM291.67 119.26h0.65v0.65h-0.65zM294.45 108.77h0.65v0.65h-0.65zM290.39 111.56h0.65v0.65h-0.65zM297.18 112.3h0.65v0.65h-0.65zM294.85 106.24h0.65v0.65h-0.65zM297.94 109.23h0.65v0.65h-0.65zM291.64 106.27h0.65v0.65h-0.65zM289.6 108.49h0.65v0.65h-0.65zM293.51 106.25h0.65v0.65h-0.65zM294.4 110.63h0.65v0.65h-0.65zM285.52 108.99h0.65v0.65h-0.65zM287.71 113.17h0.65v0.65h-0.65zM275.01 110.33h0.65v0.65h-0.65zM281.5 109.74h0.65v0.65h-0.65zM300.25 108.2h0.65v0.65h-0.65zM294.91 107.88h0.65v0.65h-0.65zM308.66 112.09h0.65v0.65h-0.65zM302.25 106.14h0.65v0.65h-0.65zM285.91 113.75h0.65v0.65h-0.65zM292.51 109.66h0.65v0.65h-0.65zM296.32 106.66h0.65v0.65h-0.65zM299.79 110.05h0.65v0.65h-0.65zM297.49 108.24h0.65v0.65h-0.65zM297.74 108.13h0.65v0.65h-0.65zM301.31 113.08h0.65v0.65h-0.65zM300.91 111.39h0.65v0.65h-0.65zM298.35 102.49h0.65v0.65h-0.65zM300.21 109.21h0.65v0.65h-0.65zM294.67 109.47h0.65v0.65h-0.65zM283.5 109.34h0.65v0.65h-0.65zM299.14 114h0.65v0.65h-0.65zM289.2 108.02h0.65v0.65h-0.65zM304.74 107.26h0.65v0.65h-0.65zM309.54 109.63h0.65v0.65h-0.65zM287.53 113.4h0.65v0.65h-0.65zM306.47 105.62h0.65v0.65h-0.65zM305.63 108.9h0.65v0.65h-0.65zM305.08 108.65h0.65v0.65h-0.65zM282.26 112.32h0.65v0.65h-0.65zM301.25 115.8h0.65v0.65h-0.65zM307.01 111.57h0.65v0.65h-0.65zM292.14 108.94h0.65v0.65h-0.65zM291.67 108.09h0.65v0.65h-0.65zM291.57 103.29h0.65v0.65h-0.65zM295.34 110.15h0.65v0.65h-0.65zM313.33 111.41h0.65v0.65h-0.65zM290.49 112.07h0.65v0.65h-0.65zM284.73 109.1h0.65v0.65h-0.65zM280.22 115.05h0.65v0.65h-0.65zM298.27 106.78h0.65v0.65h-0.65zM293.69 112.98h0.65v0.65h-0.65zM297.76 111.17h0.65v0.65h-0.65zM287.48 108.85h0.65v0.65h-0.65zM294.85 112.84h0.65v0.65h-0.65zM287.63 107.49h0.65v0.65h-0.65zM302.43 107.25h0.65v0.65h-0.65zM302.1 110.56h0.65v0.65h-0.65zM300.85 114.83h0.65v0.65h-0.65zM299.27 112.2h0.65v0.65h-0.65zM287.02 108.72h0.65v0.65h-0.65zM299.05 114.34h0.65v0.65h-0.65zM304.77 116.23h0.65v0.65h-0.65zM296.36 110.74h0.65v0.65h-0.65zM301.54 109.96h0.65v0.65h-0.65zM293.38 107.4h0.65v0.65h-0.65zM301.27 106.91h0.65v0.65h-0.65z"/>
<path fill="#000" d="M267.43 105.95h0.6v0.6h-0.6zM269.07 106.93h0.6v0.6h-0.6zM268.36 105.53h0.6v0.6h-0.6zM264.77 112.45h0.6v0.6h-0.6zM263.75 109.67h0.6v0.6h-0.6zM264.66 103.73h0.6v0.6h-0.6zM266.86 110.58h0.6v0.6h-0.6zM262.9 110.93h0.6v0.6h-0.6zM263.77 106.99h0.6v0.6h-0.6zM266.02 107.8h0.6v0.6h-0.6zM272.42 105.61h0.6v0.6h-0.6zM268.07 111.97h0.6v0.6h-0.6zM260.46 105.17h0.6v0.6h-0.6zM267.57 108.3h0.6v0.6h-0.6zM267.07 112.35h0.6v0.6h-0.6zM264.96 106.84h0.6v0.6h-0.6zM258.36 110.01h0.6v0.6h-0.6zM263.4 110.28h0.6v0.6h-0.6zM266.65 106.04h0.6v0.6h-0.6zM270.83 112.21h0.6v0.6h-0.6zM268.38 106.54h0.6v0.6h-0.6zM264.86 108.13h0.6v0.6h-0.6zM264.84 106.69h0.6v0.6h-0.6zM267.22 110.07h0.6v0.6h-0.6zM267.02 108.24h0.6v0.6h-0.6zM269.61 109.97h0.6v0.6h-0.6zM258.33 107.9h0.6v0.6h-0.6zM265.84 111.91h0.6v0.6h-0.6zM265.16 108.87h0.6v0.6h-0.6zM264.14 111.16h0.6v0.6h-0.6zM264.75 107.99h0.6v0.6h-0.6zM263.92 110.89h0.6v0.6h-0.6zM264.51 105.31h0.6v0.6h-0.6zM267.74 107.75h0.6v0.6h-0.6zM267 110.43h0.6v0.6h-0.6zM269.37 112.11h0.6v0.6h-0.6zM264.39 109.08h0.6v0.6h-0.6zM262.39 113.69h0.6v0.6h-0.6zM267.24 112.99h0.6v0.6h-0.6zM265.11 104.38h0.6v0.6h-0.6zM270.29 109.73h0.6v0.6h-0.6zM266.37 109.64h0.6v0.6h-0.6zM267.81 110.83h0.6v0.6h-0.6zM261.55 112.22h0.6v0.6h-0.6zM264.52 108.33h0.6v0.6h-0.6zM270.84 111.8h0.6v0.6h-0.6zM265.05 104.86h0.6v0.6h-0.6zM266.45 110.85h0.6v0.6h-0.6zM265.77 106.38h0.6v0.6h-0.6zM263.79 106.36h0.6v0.6h-0.6zM266.6 111.55h0.6v0.6h-0.6zM268.87 107.67h0.6v0.6h-0.6zM266.66 110.89h0.6v0.6h-0.6zM264.57 109.13h0.6v0.6h-0.6zM271.95 110.01h0.6v0.6h-0.6zM268.47 108.41h0.6v0.6h-0.6zM266.12 105.21h0.6v0.6h-0.6zM265.93 112.48h0.6v0.6h-0.6zM271.88 112.49h0.6v0.6h-0.6zM267.92 109.63h0.6v0.6h-0.6zM264.32 109.1h0.6v0.6h-0.6zM267.72 107.54h0.6v0.6h-0.6zM268.61 107.04h0.6v0.6h-0.6zM261.02 106.97h0.6v0.6h-0.6zM261.34 106.07h0.6v0.6h-0.6zM269.17 109h0.6v0.6h-0.6zM266.61 112.4h0.6v0.6h-0.6zM269.53 108.24h0.6v0.6h-0.6zM269.72 110.46h0.6v0.6h-0.6zM266.01 110.61h0.6v0.6h-0.6zM262.01 107.53h0.6v0.6h-0.6zM265.7 111.02h0.6v0.6h-0.6zM264.96 109.18h0.6v0.6h-0.6zM268.71 113.03h0.6v0.6h-0.6zM268.15 112.67h0.6v0.6h-0.6zM264.87 108.73h0.6v0.6h-0.6zM266.89 108.75h0.6v0.6h-0.6zM264.58 113.63h0.6v0.6h-0.6zM265.44 107.08h0.6v0.6h-0.6zM267.36 114.09h0.6v0.6h-0.6zM266.23 112.58h0.6v0.6h-0.6zM264.77 108.27h0.6v0.6h-0.6zM264.07 109.14h0.6v0.6h-0.6zM271.14 106.61h0.6v0.6h-0.6zM270.58 106.98h0.6v0.6h-0.6zM265.35 111.59h0.6v0.6h-0.6zM267.76 110.21h0.6v0.6h-0.6zM261.38 110.41h0.6v0.6h-0.6zM263.14 115.92h0.6v0.6h-0.6zM265.4 109.97h0.6v0.6h-0.6zM262.79 108.3h0.6v0.6h-0.6zM262.39 111.95h0.6v0.6h-0.6zM265.27 110.91h0.6v0.6h-0.6zM264.08 108.25h0.6v0.6h-0.6zM269.61 107.07h0.6v0.6h-0.6zM260.96 110.52h0.6v0.6h-0.6zM262.8 108.4h0.6v0.6h-0.6zM268.55 107.45h0.6v0.6h-0.6zM268.46 107.8h0.6v0.6h-0.6zM270.17 112.81h0.6v0.6h-0.6zM264.68 108.97h0.6v0.6h-0.6zM263.67 110h0.6v0.6h-0.6zM269.22 105.88h0.6v0.6h-0.6zM268.57 106.19h0.6v0.6h-0.6zM263.59 105.03h0.6v0.6h-0.6zM271.89 109.65h0.6v0.6h-0.6zM266.69 107.81h0.6v0.6h-0.6zM268.99 104.24h0.6v0.6h-0.6zM266.07 115.02h0.6v0.6h-0.6zM264.93 109.54h0.6v0.6h-0.6zM279.91 109.42h0.6v0.6h-0.6zM279.59 118.02h0.6v0.6h-0.6zM279.48 115.24h0.6v0.6h-0.6zM276.84 115.93h0.6v0.6h-0.6zM280.5 120.06h0.6v0.6h-0.6zM281.03 111.73h0.6v0.6h-0.6zM267.61 121.21h0.6v0.6h-0.6zM280.14 108.83h0.6v0.6h-0.6zM266.85 112.59h0.6v0.6h-0.6zM280.71 107.91h0.6v0.6h-0.6zM276.18 115.72h0.6v0.6h-0.6zM283.72 111.83h0.6v0.6h-0.6zM276.68 111.85h0.6v0.6h-0.6zM287.3 115.72h0.6v0.6h-0.6zM275.4 108.26h0.6v0.6h-0.6zM275.18 117.8h0.6v0.6h-0.6zM275.98 119.01h0.6v0.6h-0.6zM280.15 114.62h0.6v0.6h-0.6zM281.84 114.99h0.6v0.6h-0.6zM273.48 114.08h0.6v0.6h-0.6zM287.13 104.89h0.6v0.6h-0.6zM277.41 119.32h0.6v0.6h-0.6zM276 110.84h0.6v0.6h-0.6zM272.61 118.53h0.6v0.6h-0.6zM284.95 118.18h0.6v0.6h-0.6zM279.86 118.33h0.6v0.6h-0.6zM273.41 116.48h0.6v0.6h-0.6zM275.08 115.89h0.6v0.6h-0.6zM283.17 117.24h0.6v0.6h-0.6zM275.3 121.05h0.6v0.6h-0.6zM274.19 110.47h0.6v0.6h-0.6zM274.95 108.11h0.6v0.6h-0.6zM278.47 115.22h0.6v0.6h-0.6zM277.88 116.61h0.6v0.6h-0.6zM276.53 114.56h0.6v0.6h-0.6zM271.3 116.64h0.6v0.6h-0.6zM273.31 113.55h0.6v0.6h-0.6zM277.85 114.97h0.6v0.6h-0.6zM267.86 110.2h0.6v0.6h-0.6zM277.31 116.52h0.6v0.6h-0.6zM281.07 117.16h0.6v0.6h-0.6zM284.88 113.87h0.6v0.6h-0.6zM276.32 109.67h0.6v0.6h-0.6zM272.84 113.64h0.6v0.6h-0.6zM279.6 114.48h0.6v0.6h-0.6zM277.78 113.35h0.6v0.6h-0.6zM281.28 113.8h0.6v0.6h-0.6zM279.87 114.79h0.6v0.6h-0.6zM273.85 110.58h0.6v0.6h-0.6zM280.95 114.92h0.6v0.6h-0.6zM276.33 112.62h0.6v0.6h-0.6zM287.54 106.89h0.6v0.6h-0.6zM277.39 115.49h0.6v0.6h-0.6zM272.76 116.47h0.6v0.6h-0.6zM287.88 114.87h0.6v0.6h-0.6zM281.88 115.42h0.6v0.6h-0.6zM280 117.86h0.6v0.6h-0.6zM276.62 112.48h0.6v0.6h-0.6zM279.87 117.66h0.6v0.6h-0.6zM280.59 116.29h0.6v0.6h-0.6zM270.33 122.51h0.6v0.6h-0.6zM291.05 115.64h0.6v0.6h-0.6zM275.2 110.96h0.6v0.6h-0.6zM277.78 109.35h0.6v0.6h-0.6zM280.6 110.54h0.6v0.6h-0.6zM284.61 118.12h0.6v0.6h-0.6zM268.9 118.71h0.6v0.6h-0.6zM272.55 109.23h0.6v0.6h-0.6zM274.76 114.13h0.6v0.6h-0.6zM280.52 105.8h0.6v0.6h-0.6zM286.04 120.74h0.6v0.6h-0.6zM281.65 115.29h0.6v0.6h-0.6zM276.13 109.05h0.6v0.6h-0.6zM281.1 114.71h0.6v0.6h-0.6zM285.39 123.61h0.6v0.6h-0.6zM282.07 114.56h0.6v0.6h-0.6zM283.27 105.64h0.6v0.6h-0.6zM272.05 114.37h0.6v0.6h-0.6zM275.99 118.05h0.6v0.6h-0.6zM279.19 121.9h0.6v0.6h-0.6zM286.33 114.66h0.6v0.6h-0.6zM277.14 117.27h0.6v0.6h-0.6zM280.17 108.1h0.6v0.6h-0.6zM280.73 116.39h0.6v0.6h-0.6zM281.44 120.27h0.6v0.6h-0.6zM282.43 108.43h0.6v0.6h-0.6zM277.3 110.25h0.6v0.6h-0.6zM279.39 109.34h0.6v0.6h-0.6zM282.94 114.06h0.6v0.6h-0.6zM282.34 111.73h0.6v0.6h-0.6zM273.88 123.96h0.6v0.6h-0.6zM279.31 120.12h0.6v0.6h-0.6zM281.06 116.11h0.6v0.6h-0.6zM287.12 112.31h0.6v0.6h-0.6zM282.29 105.33h0.6v0.6h-0.6zM281.72 111.49h0.6v0.6h-0.6zM277.38 114.27h0.6v0.6h-0.6zM282.18 120.41h0.6v0.6h-0.6zM269.36 117.36h0.6v0.6h-0.6zM276.43 120.16h0.6v0.6h-0.6zM276.72 116.66h0.6v0.6h-0.6zM277.16 117.5h0.6v0.6h-0.6zM282.16 110.58h0.6v0.6h-0.6zM276.04 107.91h0.6v0.6h-0.6zM280.75 117.1h0.6v0.6h-0.6zM277.11 119.69h0.6v0.6h-0.6zM265.41 109.72h0.6v0.6h-0.6zM270.73 114.32h0.6v0.6h-0.6zM277.97 113.63h0.6v0.6h-0.6zM278.8 117.17h0.6v0.6h-0.6zM273.84 109.46h0.6v0.6h-0.6zM275.41 125.06h0.6v0.6h-0.6zM266.68 117.28h0.6v0.6h-0.6zM285.59 113.55h0.6v0.6h-0.6zM274.11 115.43h0.6v0.6h-0.6zM283.92 117.63h0.6v0.6h-0.6zM274.94 118.75h0.6v0.6h-0.6zM280.89 118.24h0.6v0.6h-0.6zM284 110.17h0.6v0.6h-0.6zM271.8 118.15h0.6v0.6h-0.6zM287.4 113.86h0.6v0.6h-0.6zM282.78 123.76h0.6v0.6h-0.6zM274.5 119.6h0.6v0.6h-0.6zM275.4 115.19h0.6v0.6h-0.6zM280.75 120.25h0.6v0.6h-0.6zM272.78 113.34h0.6v0.6h-0.6zM271.27 118.78h0.6v0.6h-0.6zM276.5 116.57h0.6v0.6h-0.6zM272.4 114.32h0.6v0.6h-0.6zM282.61 111.49h0.6v0.6h-0.6zM281.75 115.16h0.6v0.6h-0.6zM273.94 108.01h0.6v0.6h-0.6zM282.89 113.04h0.6v0.6h-0.6zM279.52 103.81h0.6v0.6h-0.6zM266.93 107.77h0.6v0.6h-0.6zM275.48 119.91h0.6v0.6h-0.6zM280.61 112.89h0.6v0.6h-0.6zM279.79 116.99h0.6v0.6h-0.6zM277.19 116.19h0.6v0.6h-0.6zM275.29 104.51h0.6v0.6h-0.6zM278.28 120.4h0.6v0.6h-0.6zM275.92 114.07h0.6v0.6h-0.6zM274.4 112.99h0.6v0.6h-0.6zM282.87 110.94h0.6v0.6h-0.6zM268.41 102.59h0.6v0.6h-0.6zM272.28 106.66h0.6v0.6h-0.6zM270.66 120.48h0.6v0.6h-0.6zM278.38 104.68h0.6v0.6h-0.6zM282.71 114.49h0.6v0.6h-0.6zM275.45 118.45h0.6v0.6h-0.6zM268.5 111.69h0.6v0.6h-0.6zM269.52 111.76h0.6v0.6h-0.6zM280.08 106.86h0.6v0.6h-0.6zM271.13 111.94h0.6v0.6h-0.6zM278.4 112.23h0.6v0.6h-0.6zM280.96 109.52h0.6v0.6h-0.6zM271.17 114.07h0.6v0.6h-0.6zM276.73 109.99h0.6v0.6h-0.6zM282.08 121.19h0.6v0.6h-0.6zM275.29 115.16h0.6v0.6h-0.6zM283.3 108.92h0.6v0.6h-0.6zM272.27 110.79h0.6v0.6h-0.6zM280.58 115.46h0.6v0.6h-0.6zM277.27 114.39h0.6v0.6h-0.6zM285.21 115.44h0.6v0.6h-0.6zM271.28 116.3h0.6v0.6h-0.6zM279.47 116.81h0.6v0.6h-0.6zM275.81 111.59h0.6v0.6h-0.6zM272.95 107.2h0.6v0.6h-0.6zM276.79 111.45h0.6v0.6h-0.6zM278.44 108.79h0.6v0.6h-0.6zM274.26 110.53h0.6v0.6h-0.6zM273.87 118.7h0.6v0.6h-0.6zM276.29 116.59h0.6v0.6h-0.6zM272.67 116.23h0.6v0.6h-0.6zM269.1 114.77h0.6v0.6h-0.6zM276.3 117.22h0.6v0.6h-0.6zM278.33 112.85h0.6v0.6h-0.6zM281.97 113.27h0.6v0.6h-0.6zM281.44 116.21h0.6v0.6h-0.6zM276.97 112.76h0.6v0.6h-0.6zM278.62 111.57h0.6v0.6h-0.6zM281.25 117.91h0.6v0.6h-0.6zM281.15 110.82h0.6v0.6h-0.6zM271.6 115.84h0.6v0.6h-0.6zM278.83 118.77h0.6v0.6h-0.6zM275.6 113.65h0.6v0.6h-0.6zM280.43 110.61h0.6v0.6h-0.6zM279.6 121.39h0.6v0.6h-0.6zM285.66 114h0.6v0.6h-0.6zM277.48 109.33h0.6v0.6h-0.6zM280.41 113.17h0.6v0.6h-0.6zM277.94 111.32h0.6v0.6h-0.6zM277.37 113.12h0.6v0.6h-0.6zM281.38 119.37h0.6v0.6h-0.6zM276.85 106.27h0.6v0.6h-0.6zM270.72 108.85h0.6v0.6h-0.6zM274.84 117.59h0.6v0.6h-0.6zM278.66 110.67h0.6v0.6h-0.6zM277.79 110.23h0.6v0.6h-0.6zM268.88 110.37h0.6v0.6h-0.6zM275.85 121.34h0.6v0.6h-0.6zM273.32 121.41h0.6v0.6h-0.6zM283.64 110.84h0.6v0.6h-0.6zM276.52 111.37h0.6v0.6h-0.6zM278.59 116.69h0.6v0.6h-0.6zM279.26 118.07h0.6v0.6h-0.6zM283.78 113.3h0.6v0.6h-0.6zM279.12 113.05h0.6v0.6h-0.6zM277.59 108.58h0.6v0.6h-0.6zM279.9 114.04h0.6v0.6h-0.6zM276.94 124.42h0.6v0.6h-0.6zM271.79 111.86h0.6v0.6h-0.6zM276.01 105.22h0.6v0.6h-0.6zM271.62 108.78h0.6v0.6h-0.6zM272.94 114.96h0.6v0.6h-0.6zM280.86 117.98h0.6v0.6h-0.6zM283.27 117.49h0.6v0.6h-0.6zM279.71 110.88h0.6v0.6h-0.6zM282.15 109.9h0.6v0.6h-0.6zM277.13 121.37h0.6v0.6h-0.6zM281.7 113.44h0.6v0.6h-0.6zM282.54 116.29h0.6v0.6h-0.6zM271.12 115.79h0.6v0.6h-0.6zM272.31 116.39h0.6v0.6h-0.6zM276.6 120.75h0.6v0.6h-0.6zM278.84 109.55h0.6v0.6h-0.6zM275.71 108.78h0.6v0.6h-0.6zM278.69 116.1h0.6v0.6h-0.6zM275.92 105.26h0.6v0.6h-0.6zM276.86 116.58h0.6v0.6h-0.6zM280.87 118.23h0.6v0.6h-0.6zM272.42 118.27h0.6v0.6h-0.6zM274.89 115.79h0.6v0.6h-0.6zM280.61 116.07h0.6v0.6h-0.6zM275.22 115.62h0.6v0.6h-0.6zM269.99 109.89h0.6v0.6h-0.6zM280.17 112.68h0.6v0.6h-0.6zM268.73 113.03h0.6v0.6h-0.6zM280.12 120.4h0.6v0.6h-0.6zM283.77 115.44h0.6v0.6h-0.6zM269.1 116.49h0.6v0.6h-0.6zM280.48 114.7h0.6v0.6h-0.6zM279.23 112.16h0.6v0.6h-0.6zM288.16 117.09h0.6v0.6h-0.6zM275.69 109.87h0.6v0.6h-0.6zM286.43 108.01h0.6v0.6h-0.6zM286.19 119.88h0.6v0.6h-0.6zM273.65 116.69h0.6v0.6h-0.6zM276.79 116.62h0.6v0.6h-0.6zM282.13 121.53h0.6v0.6h-0.6zM280.39 112.81h0.6v0.6h-0.6zM282.51 110.78h0.6v0.6h-0.6zM279.36 123.94h0.6v0.6h-0.6zM273.03 113.19h0.6v0.6h-0.6zM276.21 109.31h0.6v0.6h-0.6zM269.35 121.92h0.6v0.6h-0.6zM273.11 112.91h0.6v0.6h-0.6zM274.37 110.34h0.6v0.6h-0.6zM272.84 116.37h0.6v0.6h-0.6zM290.03 112.87h0.6v0.6h-0.6zM278.83 106.21h0.6v0.6h-0.6zM275.7 108.89h0.6v0.6h-0.6zM280.91 111.57h0.6v0.6h-0.6zM277.68 113.41h0.6v0.6h-0.6zM272.55 108.42h0.6v0.6h-0.6zM278.23 107.01h0.6v0.6h-0.6zM271.63 114.61h0.6v0.6h-0.6zM274.72 116.17h0.6v0.6h-0.6zM282.76 113.18h0.6v0.6h-0.6zM278.59 113.61h0.6v0.6h-0.6zM278.82 104.58h0.6v0.6h-0.6zM277.92 109.28h0.6v0.6h-0.6zM271.85 115.98h0.6v0.6h-0.6zM276.71 116.98h0.6v0.6h-0.6zM279.22 102.13h0.6v0.6h-0.6zM280.31 122.26h0.6v0.6h-0.6zM283.93 118.48h0.6v0.6h-0.6zM275.9 107.61h0.6v0.6h-0.6zM273.44 118.78h0.6v0.6h-0.6zM281.01 109.12h0.6v0.6h-0.6zM276.77 115.42h0.6v0.6h-0.6zM268.87 115.36h0.6v0.6h-0.6zM288.6 120.33h0.6v0.6h-0.6zM279.94 121.78h0.6v0.6h-0.6zM273.92 111.32h0.6v0.6h-0.6zM268.59 121.73h0.6v0.6h-0.6zM279.48 124.39h0.6v0.6h-0.6zM279.48 114.08h0.6v0.6h-0.6zM271.46 123.29h0.6v0.6h-0.6zM275.68 113.79h0.6v0.6h-0.6zM268.7 121.54h0.6v0.6h-0.6zM281.35 109.6h0.6v0.6h-0.6zM278.68 115.36h0.6v0.6h-0.6zM282.33 112.65h0.6v0.6h-0.6zM285.37 109.89h0.6v0.6h-0.6zM274.08 112.92h0.6v0.6h-0.6zM264.48 114.79h0.6v0.6h-0.6zM282.79 113.26h0.6v0.6h-0.6zM274.34 116.74h0.6v0.6h-0.6zM267.83 125.08h0.6v0.6h-0.6zM288.63 122.74h0.6v0.6h-0.6zM279.23 127.3h0.6v0.6h-0.6zM296.82 113.77h0.6v0.6h-0.6zM286.41 111.55h0.6v0.6h-0.6zM269.8 129.14h0.6v0.6h-0.6zM284.17 121.72h0.6v0.6h-0.6zM278.62 121.11h0.6v0.6h-0.6zM292.55 126.75h0.6v0.6h-0.6zM279.06 113.73h0.6v0.6h-0.6zM294.13 120.24h0.6v0.6h-0.6zM288.96 119.89h0.6v0.6h-0.6zM301.12 114.9h0.6v0.6h-0.6zM284.22 110.78h0.6v0.6h-0.6zM278 119.26h0.6v0.6h-0.6zM283.9 122.62h0.6v0.6h-0.6zM280.85 131.09h0.6v0.6h-0.6zM274.74 121.7h0.6v0.6h-0.6zM283.18 114.37h0.6v0.6h-0.6zM288.9 122.31h0.6v0.6h-0.6zM284.59 130.67h0.6v0.6h-0.6zM284.62 122h0.6v0.6h-0.6zM273.44 115.66h0.6v0.6h-0.6zM278.23 121.12h0.6v0.6h-0.6zM281.42 125.76h0.6v0.6h-0.6zM263.64 122.1h0.6v0.6h-0.6zM272.09 132.21h0.6v0.6h-0.6zM278.4 120.03h0.6v0.6h-0.6zM276.78 128.15h0.6v0.6h-0.6zM280.81 123.07h0.6v0.6h-0.6zM270.23 131.98h0.6v0.6h-0.6zM287.45 122.42h0.6v0.6h-0.6zM292.51 116.61h0.6v0.6h-0.6zM283.51 124.74h0.6v0.6h-0.6zM286.33 118.58h0.6v0.6h-0.6zM283.01 118.41h0.6v0.6h-0.6zM290.52 123.34h0.6v0.6h-0.6zM286.8 129.73h0.6v0.6h-0.6zM271.57 124.02h0.6v0.6h-0.6zM295.71 114.23h0.6v0.6h-0.6zM273.89 131.86h0.6v0.6h-0.6zM285.62 113.79h0.6v0.6h-0.6zM287.64 113.97h0.6v0.6h-0.6zM273.2 123.86h0.6v0.6h-0.6zM278.05 117.06h0.6v0.6h-0.6zM279.08 117.18h0.6v0.6h-0.6zM283.97 120.63h0.6v0.6h-0.6zM288.4 116.72h0.6v0.6h-0.6zM271.26 118.35h0.6v0.6h-0.6zM284.34 128.82h0.6v0.6h-0.6zM288.86 115.56h0.6v0.6h-0.6zM288.67 112.86h0.6v0.6h-0.6zM290.54 116.32h0.6v0.6h-0.6zM290.43 121.73h0.6v0.6h-0.6zM282.04 123.21h0.6v0.6h-0.6zM275.4 123.49h0.6v0.6h-0.6zM298.76 137.24h0.6v0.6h-0.6zM289.02 119.39h0.6v0.6h-0.6zM277.75 128.68h0.6v0.6h-0.6zM269.71 121.67h0.6v0.6h-0.6zM284.2 114.25h0.6v0.6h-0.6zM297.06 121.83h0.6v0.6h-0.6zM278.34 119.85h0.6v0.6h-0.6zM271.23 117.93h0.6v0.6h-0.6zM287.98 122.63h0.6v0.6h-0.6zM286.68 121.2h0.6v0.6h-0.6zM279.97 124.15h0.6v0.6h-0.6zM272.49 124.99h0.6v0.6h-0.6zM296.96 123.1h0.6v0.6h-0.6zM279.51 120.61h0.6v0.6h-0.6zM297.04 125.55h0.6v0.6h-0.6zM271.56 123.01h0.6v0.6h-0.6zM287.43 126.01h0.6v0.6h-0.6zM278.36 126.24h0.6v0.6h-0.6zM285.39 132.94h0.6v0.6h-0.6zM286.59 119.09h0.6v0.6h-0.6zM282.86 126.81h0.6v0.6h-0.6zM286.85 113.94h0.6v0.6h-0.6zM282.92 114h0.6v0.6h-0.6zM275.65 116.88h0.6v0.6h-0.6zM272.4 121.31h0.6v0.6h-0.6zM277.09 126.09h0.6v0.6h-0.6zM289.19 117.6h0.6v0.6h-0.6zM276.52 127.78h0.6v0.6h-0.6zM264.99 117.36h0.6v0.6h-0.6zM290.2 122.01h0.6v0.6h-0.6zM290.57 117.22h0.6v0.6h-0.6zM273.19 121.97h0.6v0.6h-0.6zM286.55 115.74h0.6v0.6h-0.6zM275.89 116.26h0.6v0.6h-0.6zM276.25 128.09h0.6v0.6h-0.6zM285.02 114.18h0.6v0.6h-0.6zM274.47 121.23h0.6v0.6h-0.6zM285.72 113.89h0.6v0.6h-0.6zM278.63 111.25h0.6v0.6h-0.6zM274.82 126.35h0.6v0.6h-0.6zM288.38 112.99h0.6v0.6h-0.6zM279.12 126.8h0.6v0.6h-0.6zM279.71 119.43h0.6v0.6h-0.6zM287.84 120.41h0.6v0.6h-0.6zM293.35 121.61h0.6v0.6h-0.6zM279.04 121.94h0.6v0.6h-0.6zM280.81 114.68h0.6v0.6h-0.6zM277.92 128.17h0.6v0.6h-0.6zM273.33 129.97h0.6v0.6h-0.6zM285.52 119.48h0.6v0.6h-0.6zM288.48 121.68h0.6v0.6h-0.6zM292.04 115.71h0.6v0.6h-0.6zM281.46 120.38h0.6v0.6h-0.6zM299.43 120.21h0.6v0.6h-0.6zM276.07 121.88h0.6v0.6h-0.6zM278.31 122.92h0.6v0.6h-0.6zM289.17 131.14h0.6v0.6h-0.6zM271.62 130.78h0.6v0.6h-0.6zM285.71 116.41h0.6v0.6h-0.6zM281.65 119h0.6v0.6h-0.6zM285.74 125.53h0.6v0.6h-0.6zM274.44 131.28h0.6v0.6h-0.6zM283.4 129.03h0.6v0.6h-0.6zM288.87 125.61h0.6v0.6h-0.6zM289.78 124.49h0.6v0.6h-0.6zM282.66 116.86h0.6v0.6h-0.6zM289.95 122.43h0.6v0.6h-0.6zM296.05 105.73h0.6v0.6h-0.6zM284.01 126.47h0.6v0.6h-0.6zM273.84 123.3h0.6v0.6h-0.6zM302.07 121.8h0.6v0.6h-0.6zM279.5 130.07h0.6v0.6h-0.6zM293.95 121.35h0.6v0.6h-0.6zM286.98 121.01h0.6v0.6h-0.6zM276.27 120.89h0.6v0.6h-0.6zM289.47 119.59h0.6v0.6h-0.6zM297.08 114.3h0.6v0.6h-0.6zM265.07 125.95h0.6v0.6h-0.6zM286.47 121.98h0.6v0.6h-0.6zM282.83 116.89h0.6v0.6h-0.6zM293.85 113.72h0.6v0.6h-0.6zM288.6 117.65h0.6v0.6h-0.6zM277.15 130.88h0.6v0.6h-0.6zM263.4 123.82h0.6v0.6h-0.6zM286.4 118.09h0.6v0.6h-0.6zM289.24 118.43h0.6v0.6h-0.6zM284.06 132.36h0.6v0.6h-0.6zM281.85 120.81h0.6v0.6h-0.6zM274.36 120.4h0.6v0.6h-0.6zM289.64 121.83h0.6v0.6h-0.6zM282.61 117.66h0.6v0.6h-0.6zM286.05 111.07h0.6v0.6h-0.6zM280.81 120.71h0.6v0.6h-0.6zM277.72 124h0.6v0.6h-0.6zM277.43 119.02h0.6v0.6h-0.6zM298.66 119.52h0.6v0.6h-0.6zM292.96 117.93h0.6v0.6h-0.6zM292.45 122h0.6v0.6h-0.6zM297.05 128.79h0.6v0.6h-0.6zM282.63 122.82h0.6v0.6h-0.6zM277.5 104.6h0.6v0.6h-0.6zM273.44 124.89h0.6v0.6h-0.6zM287.7 116.55h0.6v0.6h-0.6zM294.66 123.91h0.6v0.6h-0.6zM283.27 128.81h0.6v0.6h-0.6zM297.91 118.38h0.6v0.6h-0.6zM279.09 130.58h0.6v0.6h-0.6zM282.09 119.67h0.6v0.6h-0.6zM283.93 118.15h0.6v0.6h-0.6zM293.37 121.72h0.6v0.6h-0.6zM294.15 120.39h0.6v0.6h-0.6zM277.75 122.42h0.6v0.6h-0.6zM289.88 116.69h0.6v0.6h-0.6zM305.54 111.87h0.6v0.6h-0.6zM281.56 128h0.6v0.6h-0.6zM289.57 118.82h0.6v0.6h-0.6zM283 123.63h0.6v0.6h-0.6zM291.59 122.3h0.6v0.6h-0.6zM282.47 123.85h0.6v0.6h-0.6zM291.65 122.28h0.6v0.6h-0.6zM259.28 125.26h0.6v0.6h-0.6zM277.77 122.04h0.6v0.6h-0.6zM286.92 124.84h0.6v0.6h-0.6zM288.43 118.71h0.6v0.6h-0.6z"/>
<path fill="#000" d="M285.28 144.07h0.4v0.4h-0.4zM277.65 132.44h0.4v0.4h-0.4zM303.79 132.77h0.4v0.4h-0.4zM260.48 133h0.4v0.4h-0.4zM280.35 129.1h0.4v0.4h-0.4zM297.61 133.76h0.4v0.4h-0.4zM281.83 137.14h0.4v0.4h-0.4zM290.22 130.84h0.4v0.4h-0.4zM288.61 132.02h0.4v0.4h-0.4zM280.93 126.33h0.4v0.4h-0.4zM285.3 122.37h0.4v0.4h-0.4zM269.89 140.41h0.4v0.4h-0.4zM282.12 129.81h0.4v0.4h-0.4zM283.38 130.19h0.4v0.4h-0.4zM285.27 130.52h0.4v0.4h-0.4zM275.34 137.46h0.4v0.4h-0.4zM276.69 138.28h0.4v0.4h-0.4zM261.97 121.51h0.4v0.4h-0.4zM296.91 128.81h0.4v0.4h-0.4zM276.95 133h0.4v0.4h-0.4zM272.45 130.61h0.4v0.4h-0.4zM258.42 126.38h0.4v0.4h-0.4zM277.2 134.32h0.4v0.4h-0.4zM295.51 123.16h0.4v0.4h-0.4zM304.31 125.26h0.4v0.4h-0.4zM260.33 110.96h0.4v0.4h-0.4zM303.47 129.3h0.4v0.4h-0.4zM277.23 124.02h0.4v0.4h-0.4zM271.89 140.82h0.4v0.4h-0.4zM283.99 144.32h0.4v0.4h-0.4zM282.61 111.2h0.4v0.4h-0.4zM295.13 127.05h0.4v0.4h-0.4zM282.16 142.54h0.4v0.4h-0.4zM281.84 139.3h0.4v0.4h-0.4zM284.94 123.98h0.4v0.4h-0.4zM291.09 125.19h0.4v0.4h-0.4zM299.74 137.68h0.4v0.4h-0.4zM285.75 134.88h0.4v0.4h-0.4zM291.78 127.8h0.4v0.4h-0.4zM295.74 128.18h0.4v0.4h-0.4zM259.85 108.2h0.4v0.4h-0.4zM258.31 113.66h0.4v0.4h-0.4zM255.63 110.34h0.4v0.4h-0.4zM256.41 114.92h0.4v0.4h-0.4zM255.85 113.77h0.4v0.4h-0.4zM262.59 113.44h0.4v0.4h-0.4zM253.18 112.52h0.4v0.4h-0.4zM261.14 110.88h0.4v0.4h-0.4zM261.35 114.5h0.4v0.4h-0.4zM259.28 110.98h0.4v0.4h-0.4zM256.49 111.01h0.4v0.4h-0.4zM258.21 114.13h0.4v0.4h-0.4zM259.29 110.83h0.4v0.4h-0.4zM258.23 113.59h0.4v0.4h-0.4zM253.16 108.97h0.4v0.4h-0.4zM255.64 111.23h0.4v0.4h-0.4zM257.21 111.02h0.4v0.4h-0.4zM255.42 114.74h0.4v0.4h-0.4zM258.87 105.48h0.4v0.4h-0.4zM258.08 107.55h0.4v0.4h-0.4zM263.15 110.24h0.4v0.4h-0.4zM256.86 112.4h0.4v0.4h-0.4zM257.45 111.83h0.4v0.4h-0.4zM262.69 112.97h0.4v0.4h-0.4zM260.55 116.58h0.4v0.4h-0.4zM304.08 114.41h0.4v0.4h-0.4zM307.41 112.95h0.4v0.4h-0.4zM304.31 112.67h0.4v0.4h-0.4zM306.86 109.96h0.4v0.4h-0.4zM310.6 112.17h0.4v0.4h-0.4zM305.56 111.42h0.4v0.4h-0.4zM307.86 113.3h0.4v0.4h-0.4zM307.2 113.47h0.4v0.4h-0.4zM308.98 108.57h0.4v0.4h-0.4zM305.07 109.16h0.4v0.4h-0.4zM306.23 113.93h0.4v0.4h-0.4zM307.35 108.95h0.4v0.4h-0.4zM305.45 113.1h0.4v0.4h-0.4zM304.98 110.85h0.4v0.4h-0.4zM306.65 107.4h0.4v0.4h-0.4zM307.6 111.72h0.4v0.4h-0.4zM307.18 109.08h0.4v0.4h-0.4zM304.5 109.85h0.4v0.4h-0.4zM306.54 111.18h0.4v0.4h-0.4zM306.3 114.62h0.4v0.4h-0.4zM308.65 109.6h0.4v0.4h-0.4zM304.73 114.47h0.4v0.4h-0.4zM305.41 113.8h0.4v0.4h-0.4zM309.24 109.96h0.4v0.4h-0.4zM305.5 111.21h0.4v0.4h-0.4zM304.31 109.08h0.4v0.4h-0.4zM305.24 112.75h0.4v0.4h-0.4zM305.14 110.63h0.4v0.4h-0.4zM305.11 108.31h0.4v0.4h-0.4zM309.01 106.36h0.4v0.4h-0.4zM300.98 152.76h0.4v0.4h-0.4zM294.2 146.03h0.4v0.4h-0.4zM274.55 109.5h0.4v0.4h-0.4z"/>
</g>
<path d="M252.2 104.5H310.8V164.3" stroke="#555" stroke-width="0.9" fill="none"/>
<path d="M252.2 104.5V164.3H310.8" stroke="#222" stroke-width="1.0" fill="none"/>
<path d="M252.2 164.3v2.2M252.2 164.3h-2.2M256.6 164.3v1.2M252.2 159.8h-1.2M259.2 164.3v1.2M252.2 157.2h-1.2M261 164.3v1.2M252.2 155.3h-1.2M262.4 164.3v1.2M252.2 153.9h-1.2M263.6 164.3v1.2M252.2 152.7h-1.2M264.6 164.3v1.2M252.2 151.7h-1.2M265.4 164.3v1.2M252.2 150.8h-1.2M266.2 164.3v1.2M252.2 150h-1.2M266.9 164.3v2.2M252.2 149.4h-2.2M271.3 164.3v1.2M252.2 144.8h-1.2M273.8 164.3v1.2M252.2 142.2h-1.2M275.7 164.3v1.2M252.2 140.3h-1.2M277.1 164.3v1.2M252.2 138.9h-1.2M278.2 164.3v1.2M252.2 137.7h-1.2M279.2 164.3v1.2M252.2 136.7h-1.2M280.1 164.3v1.2M252.2 135.8h-1.2M280.8 164.3v1.2M252.2 135.1h-1.2M281.5 164.3v2.2M252.2 134.4h-2.2M285.9 164.3v1.2M252.2 129.9h-1.2M288.5 164.3v1.2M252.2 127.3h-1.2M290.3 164.3v1.2M252.2 125.4h-1.2M291.7 164.3v1.2M252.2 124h-1.2M292.9 164.3v1.2M252.2 122.8h-1.2M293.9 164.3v1.2M252.2 121.8h-1.2M294.7 164.3v1.2M252.2 120.9h-1.2M295.5 164.3v1.2M252.2 120.1h-1.2M296.1 164.3v2.2M252.2 119.5h-2.2M300.6 164.3v1.2M252.2 114.9h-1.2M303.1 164.3v1.2M252.2 112.3h-1.2M305 164.3v1.2M252.2 110.4h-1.2M306.4 164.3v1.2M252.2 109h-1.2M307.5 164.3v1.2M252.2 107.8h-1.2M308.5 164.3v1.2M252.2 106.8h-1.2M309.4 164.3v1.2M252.2 105.9h-1.2M310.1 164.3v1.2M252.2 105.2h-1.2M310.8 164.3v2.2M252.2 104.5h-2.2" stroke="#222" stroke-width="0.6" fill="none"/>
<text x="252.1" y="171.4" font-size="4.7" fill="#000" font-weight="bold" text-anchor="middle">10</text>
<text x="254.6" y="169.2" font-size="4.3" fill="#000" font-weight="bold">0</text>
<text font-size="4.7" fill="#000" font-weight="bold" text-anchor="middle" transform="translate(248.5,164.3) rotate(-90)">10</text>
<text font-size="4.3" fill="#000" font-weight="bold" transform="translate(246.5,161.5) rotate(-90)">0</text>
<text x="266.4" y="171.4" font-size="4.7" fill="#000" font-weight="bold" text-anchor="middle">10</text>
<text x="268.9" y="169.2" font-size="4.3" fill="#000" font-weight="bold">1</text>
<text font-size="4.7" fill="#000" font-weight="bold" text-anchor="middle" transform="translate(248.5,149.8) rotate(-90)">10</text>
<text font-size="4.3" fill="#000" font-weight="bold" transform="translate(246.5,146.9) rotate(-90)">1</text>
<text x="280.6" y="171.4" font-size="4.7" fill="#000" font-weight="bold" text-anchor="middle">10</text>
<text x="283.1" y="169.2" font-size="4.3" fill="#000" font-weight="bold">2</text>
<text font-size="4.7" fill="#000" font-weight="bold" text-anchor="middle" transform="translate(248.5,135.2) rotate(-90)">10</text>
<text font-size="4.3" fill="#000" font-weight="bold" transform="translate(246.5,132.4) rotate(-90)">2</text>
<text x="294.9" y="171.4" font-size="4.7" fill="#000" font-weight="bold" text-anchor="middle">10</text>
<text x="297.4" y="169.2" font-size="4.3" fill="#000" font-weight="bold">3</text>
<text font-size="4.7" fill="#000" font-weight="bold" text-anchor="middle" transform="translate(248.5,120.6) rotate(-90)">10</text>
<text font-size="4.3" fill="#000" font-weight="bold" transform="translate(246.5,117.8) rotate(-90)">3</text>
<text x="309.2" y="171.4" font-size="4.7" fill="#000" font-weight="bold" text-anchor="middle">10</text>
<text x="311.7" y="169.2" font-size="4.3" fill="#000" font-weight="bold">4</text>
<text font-size="4.7" fill="#000" font-weight="bold" text-anchor="middle" transform="translate(248.5,106.1) rotate(-90)">10</text>
<text font-size="4.3" fill="#000" font-weight="bold" transform="translate(246.5,103.3) rotate(-90)">4</text>
<text font-size="9.0" font-weight="bold" stroke="#000" stroke-width="0.2" text-anchor="middle" transform="translate(232,131.3) rotate(-90) scale(1,1.1)">CD3</text>
<text font-size="9.0" font-weight="bold" stroke="#000" stroke-width="0.2" text-anchor="middle" transform="translate(278.4,184.7) scale(1,1.1)">HLA-DR</text>
<clipPath id="c7"><rect x="357.2" y="104.3" width="57.5" height="59.9"/></clipPath>
<g stroke="#444" stroke-width="0.8" fill="none">
<line x1="375.1" y1="104.3" x2="375.1" y2="164.2"/>
<line x1="357.2" y1="145.4" x2="414.7" y2="145.4"/>
</g>
<g clip-path="url(#c7)">
<path fill="#000" stroke="#000" stroke-opacity="0.35" stroke-width="1.4" stroke-linejoin="round" d="M383 138 L388 135.5 L392 137 L393.5 140 L393.8 145 L393 150 L391.5 154 L388.5 157.5 L386.5 160.5 L384.5 162.5 L382.5 161 L382 157 L381.2 150 L381.2 143 L381.5 139.5Z"/>
<path fill="#000" d="M388.19 130.27h0.6v0.6h-0.6zM389.08 133.27h0.6v0.6h-0.6zM388.21 136.46h0.6v0.6h-0.6zM388.97 136.41h0.6v0.6h-0.6zM389.46 130.05h0.6v0.6h-0.6zM388.34 134.27h0.6v0.6h-0.6zM383.22 136.38h0.6v0.6h-0.6zM387.76 133.97h0.6v0.6h-0.6zM384.87 133.23h0.6v0.6h-0.6zM388.46 132.23h0.6v0.6h-0.6zM387.8 127.75h0.6v0.6h-0.6zM391.64 130.26h0.6v0.6h-0.6zM381.01 130.65h0.6v0.6h-0.6zM385.05 134.41h0.6v0.6h-0.6zM384.82 133.76h0.6v0.6h-0.6zM384.68 138.56h0.6v0.6h-0.6zM389.19 137.94h0.6v0.6h-0.6zM384.51 134.7h0.6v0.6h-0.6zM384.69 134.49h0.6v0.6h-0.6zM389.59 129.06h0.6v0.6h-0.6zM384.14 130.13h0.6v0.6h-0.6zM383.04 131.21h0.6v0.6h-0.6zM384.67 129.43h0.6v0.6h-0.6zM387.84 134.4h0.6v0.6h-0.6zM383.6 131.64h0.6v0.6h-0.6zM387.57 132.46h0.6v0.6h-0.6zM385.44 135.06h0.6v0.6h-0.6zM390.08 134.73h0.6v0.6h-0.6zM386.91 138h0.6v0.6h-0.6zM392.76 132.03h0.6v0.6h-0.6zM387.17 136h0.6v0.6h-0.6zM385.14 134.02h0.6v0.6h-0.6zM387.67 131.27h0.6v0.6h-0.6zM386.84 129.1h0.6v0.6h-0.6zM385.9 128.04h0.6v0.6h-0.6zM394.37 136.79h0.6v0.6h-0.6zM391.21 133.78h0.6v0.6h-0.6zM390.52 136.2h0.6v0.6h-0.6zM390.57 135.32h0.6v0.6h-0.6zM384.79 134.09h0.6v0.6h-0.6zM385.92 130.07h0.6v0.6h-0.6zM384.09 134.08h0.6v0.6h-0.6zM390.68 129.59h0.6v0.6h-0.6zM392.75 136.69h0.6v0.6h-0.6zM386.37 131.85h0.6v0.6h-0.6zM387.29 135.46h0.6v0.6h-0.6zM386.36 130.24h0.6v0.6h-0.6zM388.54 127.84h0.6v0.6h-0.6zM387.93 135.9h0.6v0.6h-0.6zM388.42 134.95h0.6v0.6h-0.6zM388.98 134.82h0.6v0.6h-0.6zM387.94 130.93h0.6v0.6h-0.6zM386.83 132.82h0.6v0.6h-0.6zM391.28 137.07h0.6v0.6h-0.6zM388.76 131.12h0.6v0.6h-0.6zM385.31 132.53h0.6v0.6h-0.6zM391.67 133.84h0.6v0.6h-0.6zM387.33 131.09h0.6v0.6h-0.6zM390.15 133.72h0.6v0.6h-0.6zM387.35 133.26h0.6v0.6h-0.6zM392.56 132.6h0.6v0.6h-0.6zM392.57 136.11h0.6v0.6h-0.6zM387.66 135.21h0.6v0.6h-0.6zM387.13 130.93h0.6v0.6h-0.6zM386.7 130.73h0.6v0.6h-0.6zM389.03 133.04h0.6v0.6h-0.6zM389.2 135.07h0.6v0.6h-0.6zM378.14 133.78h0.6v0.6h-0.6zM382.09 133.42h0.6v0.6h-0.6zM384.87 133.26h0.6v0.6h-0.6zM391.6 128.73h0.6v0.6h-0.6zM388.07 132.8h0.6v0.6h-0.6zM381.82 134.62h0.6v0.6h-0.6zM387.6 131.73h0.6v0.6h-0.6zM385.33 141.03h0.6v0.6h-0.6zM386.32 128.5h0.6v0.6h-0.6zM384.71 132.08h0.6v0.6h-0.6zM386.35 132.8h0.6v0.6h-0.6zM384.36 134.35h0.6v0.6h-0.6zM386.05 129.6h0.6v0.6h-0.6zM385.05 132.04h0.6v0.6h-0.6zM390.05 134.21h0.6v0.6h-0.6zM386.49 133.05h0.6v0.6h-0.6zM388.15 138.1h0.6v0.6h-0.6zM385.65 134.17h0.6v0.6h-0.6zM389.68 130.62h0.6v0.6h-0.6zM388.07 133.41h0.6v0.6h-0.6zM386.09 134.42h0.6v0.6h-0.6zM390.59 135.83h0.6v0.6h-0.6zM386.92 133.47h0.6v0.6h-0.6zM398.75 138.62h0.6v0.6h-0.6zM388.11 155.56h0.6v0.6h-0.6zM387.75 153.58h0.6v0.6h-0.6zM387.86 154.41h0.6v0.6h-0.6zM393.41 146.12h0.6v0.6h-0.6zM387.99 147.53h0.6v0.6h-0.6zM384.98 147.83h0.6v0.6h-0.6zM381.34 154.33h0.6v0.6h-0.6zM395.51 162.49h0.6v0.6h-0.6zM393.38 139.8h0.6v0.6h-0.6zM394.6 141.92h0.6v0.6h-0.6zM386.73 163.69h0.6v0.6h-0.6zM381.64 155.15h0.6v0.6h-0.6zM388.41 146.71h0.6v0.6h-0.6zM382.62 151.59h0.6v0.6h-0.6zM384.68 156.88h0.6v0.6h-0.6zM393.12 136.28h0.6v0.6h-0.6zM384.47 145.29h0.6v0.6h-0.6zM381.09 138.5h0.6v0.6h-0.6zM387.44 146.23h0.6v0.6h-0.6zM378.74 143.43h0.6v0.6h-0.6zM389.59 137.75h0.6v0.6h-0.6zM382.38 161.5h0.6v0.6h-0.6zM393.59 134.22h0.6v0.6h-0.6zM380.25 151.21h0.6v0.6h-0.6zM381.04 145.85h0.6v0.6h-0.6zM384.74 152.76h0.6v0.6h-0.6zM374.36 129.28h0.6v0.6h-0.6zM380.87 156.62h0.6v0.6h-0.6zM386.23 133.48h0.6v0.6h-0.6zM389.46 154.02h0.6v0.6h-0.6zM385.77 145.19h0.6v0.6h-0.6zM389.19 158.28h0.6v0.6h-0.6zM387.76 152.53h0.6v0.6h-0.6zM386.76 144.76h0.6v0.6h-0.6zM382.42 150.18h0.6v0.6h-0.6zM385.5 145.93h0.6v0.6h-0.6zM391.65 152.15h0.6v0.6h-0.6zM391.35 134.61h0.6v0.6h-0.6zM389.79 142.99h0.6v0.6h-0.6zM382.96 140.76h0.6v0.6h-0.6zM393.06 155.04h0.6v0.6h-0.6zM383.42 138.33h0.6v0.6h-0.6zM387.07 144.09h0.6v0.6h-0.6zM395.3 135.58h0.6v0.6h-0.6zM377.85 145.83h0.6v0.6h-0.6zM387.05 149.13h0.6v0.6h-0.6zM390.77 165.62h0.6v0.6h-0.6zM385.29 143.37h0.6v0.6h-0.6zM378.2 150.07h0.6v0.6h-0.6zM391.27 145.79h0.6v0.6h-0.6zM392.9 148.26h0.6v0.6h-0.6zM394.57 150.83h0.6v0.6h-0.6zM381.71 142.59h0.6v0.6h-0.6zM379.33 133.23h0.6v0.6h-0.6zM388.33 155.39h0.6v0.6h-0.6zM396.77 147.53h0.6v0.6h-0.6zM385.82 138.57h0.6v0.6h-0.6zM391.94 151.31h0.6v0.6h-0.6zM384.02 153.85h0.6v0.6h-0.6zM389.81 132.11h0.6v0.6h-0.6zM390.71 149.16h0.6v0.6h-0.6zM385.04 144.45h0.6v0.6h-0.6zM395.74 161.06h0.6v0.6h-0.6zM396.13 138.24h0.6v0.6h-0.6zM383.73 155.7h0.6v0.6h-0.6zM380.96 141.88h0.6v0.6h-0.6zM377.98 163.75h0.6v0.6h-0.6zM392.31 151.9h0.6v0.6h-0.6zM388.1 144.45h0.6v0.6h-0.6zM385.01 153.23h0.6v0.6h-0.6zM383.44 158.43h0.6v0.6h-0.6zM384.54 140.58h0.6v0.6h-0.6zM393.49 146.78h0.6v0.6h-0.6zM389.77 144.47h0.6v0.6h-0.6zM375.75 152.65h0.6v0.6h-0.6zM380.27 157.2h0.6v0.6h-0.6zM379.25 132.15h0.6v0.6h-0.6zM388.54 151.61h0.6v0.6h-0.6zM387.53 137.68h0.6v0.6h-0.6zM391.44 135.55h0.6v0.6h-0.6zM384.68 141.3h0.6v0.6h-0.6zM385.11 155.25h0.6v0.6h-0.6zM383.83 152.8h0.6v0.6h-0.6zM390.47 133.46h0.6v0.6h-0.6zM381.17 144.74h0.6v0.6h-0.6zM384.04 150.62h0.6v0.6h-0.6zM377.34 154.13h0.6v0.6h-0.6zM390.72 146.57h0.6v0.6h-0.6zM380.08 148.05h0.6v0.6h-0.6zM384.31 152.82h0.6v0.6h-0.6zM386.57 154.19h0.6v0.6h-0.6zM384.83 160.26h0.6v0.6h-0.6zM375.48 139.36h0.6v0.6h-0.6zM389.45 135.16h0.6v0.6h-0.6zM390.68 137.66h0.6v0.6h-0.6zM387.47 140.22h0.6v0.6h-0.6zM384.79 149.48h0.6v0.6h-0.6zM386.48 144.76h0.6v0.6h-0.6zM397.77 148.07h0.6v0.6h-0.6zM382.15 155.88h0.6v0.6h-0.6zM391.1 158.39h0.6v0.6h-0.6zM395.94 140.02h0.6v0.6h-0.6zM392.3 157.69h0.6v0.6h-0.6zM387 150.08h0.6v0.6h-0.6zM371.99 143.12h0.6v0.6h-0.6zM395.94 132.81h0.6v0.6h-0.6zM384.32 150.45h0.6v0.6h-0.6zM389.88 161.87h0.6v0.6h-0.6zM378.19 148.36h0.6v0.6h-0.6zM391.3 136.83h0.6v0.6h-0.6zM386.8 164.02h0.6v0.6h-0.6zM393.58 152.59h0.6v0.6h-0.6zM373.93 146.89h0.6v0.6h-0.6zM388.93 145.38h0.6v0.6h-0.6zM386.67 174.21h0.6v0.6h-0.6zM385.93 139.76h0.6v0.6h-0.6zM388.21 145.32h0.6v0.6h-0.6zM385.45 147.26h0.6v0.6h-0.6zM390.87 150.02h0.6v0.6h-0.6zM380.99 146.87h0.6v0.6h-0.6zM389.37 144.02h0.6v0.6h-0.6zM392.74 154.61h0.6v0.6h-0.6zM382.05 150.72h0.6v0.6h-0.6zM396.92 161.26h0.6v0.6h-0.6zM386.72 155.63h0.6v0.6h-0.6zM383.63 135.69h0.6v0.6h-0.6zM389.77 150.1h0.6v0.6h-0.6zM389.57 147.79h0.6v0.6h-0.6zM388.63 143.64h0.6v0.6h-0.6zM389.37 155.08h0.6v0.6h-0.6zM386.71 154.92h0.6v0.6h-0.6zM378.15 141.32h0.6v0.6h-0.6zM394.22 162.97h0.6v0.6h-0.6zM388.25 147.12h0.6v0.6h-0.6zM380.66 151.09h0.6v0.6h-0.6zM390.89 135.4h0.6v0.6h-0.6zM389.79 152.17h0.6v0.6h-0.6zM389.2 138.42h0.6v0.6h-0.6zM389.71 135.27h0.6v0.6h-0.6zM394.44 149.15h0.6v0.6h-0.6zM381.18 159.43h0.6v0.6h-0.6zM392.77 142.47h0.6v0.6h-0.6zM398.02 139.46h0.6v0.6h-0.6zM388.57 158.05h0.6v0.6h-0.6zM375.65 156.51h0.6v0.6h-0.6zM386.68 147.87h0.6v0.6h-0.6zM381.62 150.82h0.6v0.6h-0.6zM381.45 139.77h0.6v0.6h-0.6zM384.76 137.57h0.6v0.6h-0.6zM394.86 136.71h0.6v0.6h-0.6zM383.23 145.31h0.6v0.6h-0.6zM387.02 154.73h0.6v0.6h-0.6zM391.09 145.43h0.6v0.6h-0.6zM385.08 148.3h0.6v0.6h-0.6zM391.11 153.93h0.6v0.6h-0.6zM384.42 130.5h0.6v0.6h-0.6zM397.72 156.09h0.6v0.6h-0.6zM388.32 150.89h0.6v0.6h-0.6zM384.39 139.49h0.6v0.6h-0.6zM385.34 146.11h0.6v0.6h-0.6zM383.87 135.61h0.6v0.6h-0.6zM385.44 152.9h0.6v0.6h-0.6zM384.53 148.19h0.6v0.6h-0.6zM376.65 146.24h0.6v0.6h-0.6zM386.39 137.58h0.6v0.6h-0.6zM378.35 151.5h0.6v0.6h-0.6zM382.95 152.15h0.6v0.6h-0.6zM384.9 153.3h0.6v0.6h-0.6zM385.31 135.19h0.6v0.6h-0.6zM386.57 145.21h0.6v0.6h-0.6zM390.29 144.17h0.6v0.6h-0.6zM385.03 155.31h0.6v0.6h-0.6zM392.83 154.46h0.6v0.6h-0.6zM392.19 151.86h0.6v0.6h-0.6zM390.85 155.47h0.6v0.6h-0.6zM389.02 148.53h0.6v0.6h-0.6zM387.71 168.44h0.6v0.6h-0.6zM387.07 145.99h0.6v0.6h-0.6zM385.18 147.72h0.6v0.6h-0.6zM388.22 138.39h0.6v0.6h-0.6zM377.1 150.51h0.6v0.6h-0.6zM378.97 150.2h0.6v0.6h-0.6zM387.7 157.8h0.6v0.6h-0.6zM395.35 151.13h0.6v0.6h-0.6zM384.23 138.01h0.6v0.6h-0.6zM383.04 148.34h0.6v0.6h-0.6zM376.65 148.64h0.6v0.6h-0.6zM386.94 153.48h0.6v0.6h-0.6zM385.33 148.87h0.6v0.6h-0.6zM383.32 144.06h0.6v0.6h-0.6zM378.13 149.05h0.6v0.6h-0.6zM394.74 149.38h0.6v0.6h-0.6zM388.83 139.66h0.6v0.6h-0.6zM394.16 141.48h0.6v0.6h-0.6zM391.01 148.91h0.6v0.6h-0.6zM382.2 156.73h0.6v0.6h-0.6zM387.08 149.52h0.6v0.6h-0.6zM389.26 147.82h0.6v0.6h-0.6zM385.11 151.96h0.6v0.6h-0.6z"/>
<path fill="#000" d="M380.61 151.64h0.4v0.4h-0.4zM379.46 152.06h0.4v0.4h-0.4zM377.28 156.16h0.4v0.4h-0.4zM380.64 149.23h0.4v0.4h-0.4zM379.53 152.7h0.4v0.4h-0.4zM381.43 153.36h0.4v0.4h-0.4zM379.6 148.66h0.4v0.4h-0.4zM377.75 148.23h0.4v0.4h-0.4zM379.64 149.95h0.4v0.4h-0.4zM379.64 154.94h0.4v0.4h-0.4zM380.08 152.6h0.4v0.4h-0.4zM380.34 152.16h0.4v0.4h-0.4zM379.52 153.58h0.4v0.4h-0.4zM377.48 157.49h0.4v0.4h-0.4zM378.01 155.42h0.4v0.4h-0.4zM379.57 156.78h0.4v0.4h-0.4zM379.6 146.52h0.4v0.4h-0.4zM380.85 152.17h0.4v0.4h-0.4zM379.7 151.65h0.4v0.4h-0.4zM380.76 155.34h0.4v0.4h-0.4zM379.84 143.5h0.4v0.4h-0.4zM379.08 151.78h0.4v0.4h-0.4zM381.72 153.18h0.4v0.4h-0.4zM379.45 157.24h0.4v0.4h-0.4zM379.43 151.13h0.4v0.4h-0.4zM379.75 143.78h0.4v0.4h-0.4zM380.71 153.4h0.4v0.4h-0.4zM379.23 145.56h0.4v0.4h-0.4zM379.82 158.27h0.4v0.4h-0.4zM378.8 145.97h0.4v0.4h-0.4zM380.07 143.29h0.4v0.4h-0.4zM376.9 149.06h0.4v0.4h-0.4zM378.74 149.9h0.4v0.4h-0.4zM378.91 152.94h0.4v0.4h-0.4zM379.3 148.29h0.4v0.4h-0.4zM386.8 129.38h0.4v0.4h-0.4zM391.05 129.92h0.4v0.4h-0.4zM390.26 121.52h0.4v0.4h-0.4zM385.17 127.49h0.4v0.4h-0.4zM388.79 124.88h0.4v0.4h-0.4zM392.44 128.72h0.4v0.4h-0.4zM386.31 128.45h0.4v0.4h-0.4zM387.14 126.6h0.4v0.4h-0.4zM364.35 123.4h0.4v0.4h-0.4zM385.35 146.86h0.4v0.4h-0.4zM359.3 155.24h0.4v0.4h-0.4z"/>
<path fill="#fff" d="M386.08 146.52h0.5v0.5h-0.5zM385.16 134.08h0.5v0.5h-0.5zM385.14 142.04h0.5v0.5h-0.5zM387.55 155.48h0.5v0.5h-0.5zM381.59 147.03h0.5v0.5h-0.5zM379.76 137.63h0.5v0.5h-0.5zM385.73 127.98h0.5v0.5h-0.5zM381 147.23h0.5v0.5h-0.5zM387.77 145.09h0.5v0.5h-0.5zM384.69 163.23h0.5v0.5h-0.5zM386.94 139.1h0.5v0.5h-0.5zM393.37 150.91h0.5v0.5h-0.5zM386.2 155.54h0.5v0.5h-0.5zM388.05 151.15h0.5v0.5h-0.5zM388.32 137.77h0.5v0.5h-0.5zM390.9 147.28h0.5v0.5h-0.5zM383.97 139.9h0.5v0.5h-0.5zM390.84 143.05h0.5v0.5h-0.5zM387.66 151.24h0.5v0.5h-0.5zM387.95 133.79h0.5v0.5h-0.5zM389.73 153.51h0.5v0.5h-0.5zM390.53 158.93h0.5v0.5h-0.5zM388.77 152.22h0.5v0.5h-0.5zM393.06 143.67h0.5v0.5h-0.5zM393.58 159.88h0.5v0.5h-0.5zM390.24 160.72h0.5v0.5h-0.5zM390.48 138.95h0.5v0.5h-0.5zM391.48 148.61h0.5v0.5h-0.5zM388.95 147.24h0.5v0.5h-0.5zM392.26 150.42h0.5v0.5h-0.5zM385.06 149.89h0.5v0.5h-0.5zM390.05 140.2h0.5v0.5h-0.5zM385.98 142.94h0.5v0.5h-0.5zM385.37 148.79h0.5v0.5h-0.5zM391.06 161.14h0.5v0.5h-0.5zM391.68 154.18h0.5v0.5h-0.5zM391.5 156.68h0.5v0.5h-0.5zM386.18 151.55h0.5v0.5h-0.5zM388.63 144.97h0.5v0.5h-0.5zM385.91 141.96h0.5v0.5h-0.5zM386.56 136.12h0.5v0.5h-0.5zM389.33 145.82h0.5v0.5h-0.5zM387.87 148.71h0.5v0.5h-0.5zM390.04 141.27h0.5v0.5h-0.5zM387.13 133.13h0.5v0.5h-0.5zM379.73 130.48h0.5v0.5h-0.5zM392.88 131.39h0.5v0.5h-0.5zM389.15 157.82h0.5v0.5h-0.5zM385.9 159.04h0.5v0.5h-0.5zM393.97 153.56h0.5v0.5h-0.5zM395.8 150.98h0.5v0.5h-0.5zM384.95 150.19h0.5v0.5h-0.5zM385.96 135.6h0.5v0.5h-0.5zM383.05 164.53h0.5v0.5h-0.5zM385.62 145.85h0.5v0.5h-0.5zM385.2 147.16h0.5v0.5h-0.5zM386.69 142.79h0.5v0.5h-0.5zM383.29 134.78h0.5v0.5h-0.5zM384.93 148.43h0.5v0.5h-0.5zM394.81 154.53h0.5v0.5h-0.5zM393.93 150h0.5v0.5h-0.5zM387.25 135.52h0.5v0.5h-0.5zM387.56 128.97h0.5v0.5h-0.5zM386.51 159.16h0.5v0.5h-0.5zM388.71 155.17h0.5v0.5h-0.5zM386.23 135.15h0.5v0.5h-0.5zM385.89 142.99h0.5v0.5h-0.5zM391.79 161.97h0.5v0.5h-0.5zM384.98 143.3h0.5v0.5h-0.5zM387.07 143.39h0.5v0.5h-0.5zM383.23 146.93h0.5v0.5h-0.5zM388.85 149.28h0.5v0.5h-0.5zM383.36 145.29h0.5v0.5h-0.5zM381.5 153.51h0.5v0.5h-0.5zM384.02 144.02h0.5v0.5h-0.5zM386.02 141.55h0.5v0.5h-0.5zM383.89 132.08h0.5v0.5h-0.5zM393.66 148.27h0.5v0.5h-0.5zM388.53 163.03h0.5v0.5h-0.5zM387.25 150.66h0.5v0.5h-0.5zM387.68 155.74h0.5v0.5h-0.5zM389.36 148.76h0.5v0.5h-0.5zM386.71 148.49h0.5v0.5h-0.5zM391.68 129.64h0.5v0.5h-0.5zM387.16 142.91h0.5v0.5h-0.5zM386.56 130.45h0.5v0.5h-0.5zM390.17 139.49h0.5v0.5h-0.5zM386.82 142.23h0.5v0.5h-0.5zM381.77 142.69h0.5v0.5h-0.5zM381.17 138.72h0.5v0.5h-0.5zM386.51 146.23h0.5v0.5h-0.5zM387.81 145.16h0.5v0.5h-0.5zM395.1 149.75h0.5v0.5h-0.5zM383.34 141.37h0.5v0.5h-0.5zM385.31 144.85h0.5v0.5h-0.5zM385.5 139.42h0.5v0.5h-0.5zM393.39 146.62h0.5v0.5h-0.5zM386.44 144.25h0.5v0.5h-0.5zM386.86 157.41h0.5v0.5h-0.5zM389.29 155.25h0.5v0.5h-0.5zM376.7 148.88h0.5v0.5h-0.5zM391.33 162.06h0.5v0.5h-0.5zM387.72 132.54h0.5v0.5h-0.5zM389.68 141.49h0.5v0.5h-0.5zM381.35 141.33h0.5v0.5h-0.5zM391.32 155.9h0.5v0.5h-0.5zM390.15 137.9h0.5v0.5h-0.5zM396.44 136.93h0.5v0.5h-0.5zM387.36 134.73h0.5v0.5h-0.5zM392.24 149.86h0.5v0.5h-0.5z"/>
</g>
<path d="M357.2 104.3H414.7V164.2" stroke="#555" stroke-width="0.9" fill="none"/>
<path d="M357.2 104.3V164.2H414.7" stroke="#222" stroke-width="1.0" fill="none"/>
<path d="M357.2 164.2v2.2M357.2 164.2h-2.2M361.5 164.2v1.2M357.2 159.7h-1.2M364.1 164.2v1.2M357.2 157.1h-1.2M365.9 164.2v1.2M357.2 155.2h-1.2M367.2 164.2v1.2M357.2 153.7h-1.2M368.4 164.2v1.2M357.2 152.5h-1.2M369.3 164.2v1.2M357.2 151.5h-1.2M370.2 164.2v1.2M357.2 150.7h-1.2M370.9 164.2v1.2M357.2 149.9h-1.2M371.6 164.2v2.2M357.2 149.2h-2.2M375.9 164.2v1.2M357.2 144.7h-1.2M378.4 164.2v1.2M357.2 142.1h-1.2M380.2 164.2v1.2M357.2 140.2h-1.2M381.6 164.2v1.2M357.2 138.8h-1.2M382.8 164.2v1.2M357.2 137.6h-1.2M383.7 164.2v1.2M357.2 136.6h-1.2M384.6 164.2v1.2M357.2 135.7h-1.2M385.3 164.2v1.2M357.2 134.9h-1.2M385.9 164.2v2.2M357.2 134.2h-2.2M390.3 164.2v1.2M357.2 129.7h-1.2M392.8 164.2v1.2M357.2 127.1h-1.2M394.6 164.2v1.2M357.2 125.2h-1.2M396 164.2v1.2M357.2 123.8h-1.2M397.1 164.2v1.2M357.2 122.6h-1.2M398.1 164.2v1.2M357.2 121.6h-1.2M398.9 164.2v1.2M357.2 120.7h-1.2M399.7 164.2v1.2M357.2 120h-1.2M400.3 164.2v2.2M357.2 119.3h-2.2M404.7 164.2v1.2M357.2 114.8h-1.2M407.2 164.2v1.2M357.2 112.1h-1.2M409 164.2v1.2M357.2 110.3h-1.2M410.4 164.2v1.2M357.2 108.8h-1.2M411.5 164.2v1.2M357.2 107.6h-1.2M412.5 164.2v1.2M357.2 106.6h-1.2M413.3 164.2v1.2M357.2 105.8h-1.2M414 164.2v1.2M357.2 105h-1.2M414.7 164.2v2.2M357.2 104.3h-2.2" stroke="#222" stroke-width="0.6" fill="none"/>
<text x="357.1" y="171.3" font-size="4.7" fill="#000" font-weight="bold" text-anchor="middle">10</text>
<text x="359.6" y="169.1" font-size="4.3" fill="#000" font-weight="bold">0</text>
<text font-size="4.7" fill="#000" font-weight="bold" text-anchor="middle" transform="translate(353.5,164.2) rotate(-90)">10</text>
<text font-size="4.3" fill="#000" font-weight="bold" transform="translate(351.5,161.4) rotate(-90)">0</text>
<text x="371.1" y="171.3" font-size="4.7" fill="#000" font-weight="bold" text-anchor="middle">10</text>
<text x="373.6" y="169.1" font-size="4.3" fill="#000" font-weight="bold">1</text>
<text font-size="4.7" fill="#000" font-weight="bold" text-anchor="middle" transform="translate(353.5,149.6) rotate(-90)">10</text>
<text font-size="4.3" fill="#000" font-weight="bold" transform="translate(351.5,146.8) rotate(-90)">1</text>
<text x="385.1" y="171.3" font-size="4.7" fill="#000" font-weight="bold" text-anchor="middle">10</text>
<text x="387.6" y="169.1" font-size="4.3" fill="#000" font-weight="bold">2</text>
<text font-size="4.7" fill="#000" font-weight="bold" text-anchor="middle" transform="translate(353.5,135) rotate(-90)">10</text>
<text font-size="4.3" fill="#000" font-weight="bold" transform="translate(351.5,132.2) rotate(-90)">2</text>
<text x="399.1" y="171.3" font-size="4.7" fill="#000" font-weight="bold" text-anchor="middle">10</text>
<text x="401.6" y="169.1" font-size="4.3" fill="#000" font-weight="bold">3</text>
<text font-size="4.7" fill="#000" font-weight="bold" text-anchor="middle" transform="translate(353.5,120.5) rotate(-90)">10</text>
<text font-size="4.3" fill="#000" font-weight="bold" transform="translate(351.5,117.7) rotate(-90)">3</text>
<text x="413.1" y="171.3" font-size="4.7" fill="#000" font-weight="bold" text-anchor="middle">10</text>
<text x="415.6" y="169.1" font-size="4.3" fill="#000" font-weight="bold">4</text>
<text font-size="4.7" fill="#000" font-weight="bold" text-anchor="middle" transform="translate(353.5,105.9) rotate(-90)">10</text>
<text font-size="4.3" fill="#000" font-weight="bold" transform="translate(351.5,103.1) rotate(-90)">4</text>
<text font-size="9.0" font-weight="bold" stroke="#000" stroke-width="0.2" text-anchor="middle" transform="translate(338.8,132) rotate(-90) scale(1,1.1)">CD62L</text>
<text font-size="9.0" font-weight="bold" stroke="#000" stroke-width="0.2" text-anchor="middle" transform="translate(384,184.7) scale(1,1.1)">CD3</text>
<clipPath id="c8"><rect x="52.8" y="205" width="52.7" height="59.5"/></clipPath>
<g stroke="#444" stroke-width="0.8" fill="none">
<line x1="69.5" y1="205" x2="69.5" y2="264.5"/>
<line x1="52.8" y1="245.4" x2="105.5" y2="245.4"/>
</g>
<g clip-path="url(#c8)">
<path fill="#000" stroke="#000" stroke-opacity="0.35" stroke-width="1.4" stroke-linejoin="round" d="M86.2 242.2 L87.9 245.4 L85.7 251.8 L82.8 256.2 L79.8 260.2 L76.8 262.8 L74.4 261.2 L73.9 256.7 L75.4 250.8 L77.8 245.9 L81.8 242.9 L84.2 241.4Z"/>
<path fill="#000" d="M82.35 242.25h0.6v0.6h-0.6zM90.08 242.98h0.6v0.6h-0.6zM77.81 257.58h0.6v0.6h-0.6zM84.73 244.38h0.6v0.6h-0.6zM76.83 259.03h0.6v0.6h-0.6zM83.88 237.16h0.6v0.6h-0.6zM83.02 248.46h0.6v0.6h-0.6zM79.34 251.71h0.6v0.6h-0.6zM82.84 255.55h0.6v0.6h-0.6zM80.2 246.34h0.6v0.6h-0.6zM82.88 240.07h0.6v0.6h-0.6zM83.96 248.13h0.6v0.6h-0.6zM86.46 245.27h0.6v0.6h-0.6zM84.81 245.4h0.6v0.6h-0.6zM85.6 246.58h0.6v0.6h-0.6zM86.88 237.66h0.6v0.6h-0.6zM86.78 245.48h0.6v0.6h-0.6zM79.95 249.61h0.6v0.6h-0.6zM78.27 246.32h0.6v0.6h-0.6zM78.02 261.15h0.6v0.6h-0.6zM79.48 263.6h0.6v0.6h-0.6zM80.71 253.79h0.6v0.6h-0.6zM82.52 252.03h0.6v0.6h-0.6zM78.87 252.67h0.6v0.6h-0.6zM83.65 254.39h0.6v0.6h-0.6zM88.99 247.33h0.6v0.6h-0.6zM81.76 249.15h0.6v0.6h-0.6zM76.68 262.86h0.6v0.6h-0.6zM82.93 245.95h0.6v0.6h-0.6zM87.83 249.29h0.6v0.6h-0.6zM84.5 253.09h0.6v0.6h-0.6zM77 246.64h0.6v0.6h-0.6zM78.04 253.73h0.6v0.6h-0.6zM80.41 246.94h0.6v0.6h-0.6zM76.53 252.51h0.6v0.6h-0.6zM81.08 252.05h0.6v0.6h-0.6zM86.99 247.38h0.6v0.6h-0.6zM82.34 251.16h0.6v0.6h-0.6zM81.75 251.25h0.6v0.6h-0.6zM79.37 237.89h0.6v0.6h-0.6zM81.29 253.31h0.6v0.6h-0.6zM81.96 242.95h0.6v0.6h-0.6zM84.86 251.23h0.6v0.6h-0.6zM73.7 250.79h0.6v0.6h-0.6zM76.12 251.59h0.6v0.6h-0.6zM80.9 246.24h0.6v0.6h-0.6zM88.04 241.38h0.6v0.6h-0.6zM76.53 255.53h0.6v0.6h-0.6zM78.12 258.89h0.6v0.6h-0.6zM85.91 242.43h0.6v0.6h-0.6zM81.65 244.45h0.6v0.6h-0.6zM89 254.13h0.6v0.6h-0.6zM79.46 262.32h0.6v0.6h-0.6zM79.79 241.23h0.6v0.6h-0.6zM72.8 258.39h0.6v0.6h-0.6zM83.33 245.14h0.6v0.6h-0.6zM82.49 253.99h0.6v0.6h-0.6zM82.12 251.41h0.6v0.6h-0.6zM83.16 255.68h0.6v0.6h-0.6zM83.1 259.41h0.6v0.6h-0.6zM77.39 252.22h0.6v0.6h-0.6zM84.74 248.69h0.6v0.6h-0.6zM74.31 263.86h0.6v0.6h-0.6zM73.53 258.17h0.6v0.6h-0.6zM81.36 245.42h0.6v0.6h-0.6zM81.19 248.88h0.6v0.6h-0.6zM87.88 240.05h0.6v0.6h-0.6zM73.35 256.63h0.6v0.6h-0.6zM78 257.32h0.6v0.6h-0.6zM83.84 253.53h0.6v0.6h-0.6zM81.97 250.96h0.6v0.6h-0.6zM81.77 249.56h0.6v0.6h-0.6zM84.36 251.44h0.6v0.6h-0.6zM82.23 246.07h0.6v0.6h-0.6zM71.98 260.73h0.6v0.6h-0.6zM74.59 245.44h0.6v0.6h-0.6zM80.5 255.39h0.6v0.6h-0.6zM75.51 253.01h0.6v0.6h-0.6zM91.53 243.9h0.6v0.6h-0.6zM83.88 255.73h0.6v0.6h-0.6zM82.37 241.95h0.6v0.6h-0.6zM88.06 234.11h0.6v0.6h-0.6zM76.67 251.29h0.6v0.6h-0.6zM77.27 248.86h0.6v0.6h-0.6zM84.07 253.82h0.6v0.6h-0.6zM80.88 250.01h0.6v0.6h-0.6zM83.94 240.94h0.6v0.6h-0.6zM83.56 245.47h0.6v0.6h-0.6zM81.75 250.56h0.6v0.6h-0.6zM81.17 250.93h0.6v0.6h-0.6zM76.25 255.38h0.6v0.6h-0.6zM82.15 248.97h0.6v0.6h-0.6zM74.42 257.39h0.6v0.6h-0.6zM78.08 255.82h0.6v0.6h-0.6zM81.74 250.92h0.6v0.6h-0.6zM78.42 255.73h0.6v0.6h-0.6zM67.15 254.6h0.6v0.6h-0.6zM75.66 249.09h0.6v0.6h-0.6zM73.67 255.22h0.6v0.6h-0.6zM79.49 245.87h0.6v0.6h-0.6zM80.3 249.31h0.6v0.6h-0.6zM71.46 256.28h0.6v0.6h-0.6zM83.56 249.85h0.6v0.6h-0.6zM88.99 250.69h0.6v0.6h-0.6zM82.51 250.8h0.6v0.6h-0.6zM80.51 252.83h0.6v0.6h-0.6zM76.69 252.33h0.6v0.6h-0.6zM82.5 236.63h0.6v0.6h-0.6zM82.87 251.24h0.6v0.6h-0.6zM78.31 249.26h0.6v0.6h-0.6zM78.51 252.22h0.6v0.6h-0.6zM76.45 258.24h0.6v0.6h-0.6zM77.41 253.35h0.6v0.6h-0.6zM79.94 245.95h0.6v0.6h-0.6zM80.35 248.23h0.6v0.6h-0.6zM82.31 249.58h0.6v0.6h-0.6zM78.5 248.75h0.6v0.6h-0.6zM75.08 255.01h0.6v0.6h-0.6zM83.35 252.36h0.6v0.6h-0.6zM82.99 244.68h0.6v0.6h-0.6zM75.99 248.52h0.6v0.6h-0.6zM69.68 263.56h0.6v0.6h-0.6zM73.38 253.1h0.6v0.6h-0.6zM75.44 263.56h0.6v0.6h-0.6zM72.48 253.69h0.6v0.6h-0.6zM89.52 238.61h0.6v0.6h-0.6zM81.24 255.19h0.6v0.6h-0.6zM82.28 259.5h0.6v0.6h-0.6zM70.82 258.76h0.6v0.6h-0.6zM77.6 251.47h0.6v0.6h-0.6zM80.83 240.77h0.6v0.6h-0.6zM78.34 256.86h0.6v0.6h-0.6zM85.38 250.62h0.6v0.6h-0.6zM88.11 254.15h0.6v0.6h-0.6zM79.07 255.24h0.6v0.6h-0.6zM82.53 246.47h0.6v0.6h-0.6zM77.83 253h0.6v0.6h-0.6zM74.55 253.86h0.6v0.6h-0.6zM73.63 252.56h0.6v0.6h-0.6zM76.95 246.96h0.6v0.6h-0.6zM92.9 243.08h0.6v0.6h-0.6zM83.69 245.23h0.6v0.6h-0.6zM81.67 257.9h0.6v0.6h-0.6zM82.54 252.14h0.6v0.6h-0.6zM80.7 258.41h0.6v0.6h-0.6zM77.56 257.11h0.6v0.6h-0.6zM71.86 261.21h0.6v0.6h-0.6zM80.71 248.39h0.6v0.6h-0.6zM80.86 256.29h0.6v0.6h-0.6zM83.58 254.92h0.6v0.6h-0.6zM80.37 237.28h0.6v0.6h-0.6zM94.67 238.99h0.6v0.6h-0.6zM87.68 241.82h0.6v0.6h-0.6zM79.93 239.39h0.6v0.6h-0.6zM87.25 238.48h0.6v0.6h-0.6zM82.18 239.46h0.6v0.6h-0.6zM76.24 235.55h0.6v0.6h-0.6zM82.63 239.59h0.6v0.6h-0.6zM78.27 237h0.6v0.6h-0.6zM81.03 237.51h0.6v0.6h-0.6zM83.86 238.28h0.6v0.6h-0.6zM82.03 233.76h0.6v0.6h-0.6zM77.8 238.92h0.6v0.6h-0.6zM75.92 238.76h0.6v0.6h-0.6zM79.16 235.54h0.6v0.6h-0.6zM83.7 235.94h0.6v0.6h-0.6zM78.47 235.95h0.6v0.6h-0.6zM81.65 246.13h0.6v0.6h-0.6zM74.09 237.89h0.6v0.6h-0.6zM80.6 240.78h0.6v0.6h-0.6zM80.15 230.59h0.6v0.6h-0.6zM86.04 234.7h0.6v0.6h-0.6zM81.22 233.86h0.6v0.6h-0.6zM77.62 236.46h0.6v0.6h-0.6zM84.41 240.45h0.6v0.6h-0.6zM79.34 239.43h0.6v0.6h-0.6zM80.13 238.26h0.6v0.6h-0.6zM81.95 239.78h0.6v0.6h-0.6zM79.28 237.53h0.6v0.6h-0.6zM82.17 238.19h0.6v0.6h-0.6zM78.64 243.05h0.6v0.6h-0.6zM79.81 240.18h0.6v0.6h-0.6zM82.11 241.56h0.6v0.6h-0.6zM73.81 244.03h0.6v0.6h-0.6zM80.66 234.25h0.6v0.6h-0.6zM81.85 244.64h0.6v0.6h-0.6zM83.16 234.24h0.6v0.6h-0.6zM79.79 241.89h0.6v0.6h-0.6zM76.52 237.37h0.6v0.6h-0.6zM80.37 244.37h0.6v0.6h-0.6zM80.38 241.83h0.6v0.6h-0.6zM79.04 235.52h0.6v0.6h-0.6zM84.89 239.77h0.6v0.6h-0.6zM75.38 239.82h0.6v0.6h-0.6zM83.63 236.08h0.6v0.6h-0.6zM82.16 238.71h0.6v0.6h-0.6zM79.7 236.16h0.6v0.6h-0.6zM79.06 237.1h0.6v0.6h-0.6zM76.77 237.78h0.6v0.6h-0.6zM76.19 238.13h0.6v0.6h-0.6zM81.09 234.82h0.6v0.6h-0.6zM84.35 243.67h0.6v0.6h-0.6zM85.99 233.83h0.6v0.6h-0.6zM85.81 238.55h0.6v0.6h-0.6zM81.2 236.13h0.6v0.6h-0.6zM81.36 242.04h0.6v0.6h-0.6zM83.27 236.67h0.6v0.6h-0.6zM79.06 236.66h0.6v0.6h-0.6zM83.42 243.46h0.6v0.6h-0.6zM77.71 237.89h0.6v0.6h-0.6zM80.04 235.66h0.6v0.6h-0.6zM82.76 239.54h0.6v0.6h-0.6zM76.46 234.82h0.6v0.6h-0.6zM85.53 238.84h0.6v0.6h-0.6zM83.19 236.41h0.6v0.6h-0.6zM80.06 239.26h0.6v0.6h-0.6zM79.66 234.6h0.6v0.6h-0.6zM81.38 240.59h0.6v0.6h-0.6zM77.81 241.04h0.6v0.6h-0.6zM83.81 235.33h0.6v0.6h-0.6zM81.41 237.77h0.6v0.6h-0.6zM83.58 239.88h0.6v0.6h-0.6zM76.86 233.89h0.6v0.6h-0.6zM84.95 238.23h0.6v0.6h-0.6zM82.83 238.89h0.6v0.6h-0.6zM86.69 234.31h0.6v0.6h-0.6zM85.16 235.47h0.6v0.6h-0.6zM83.9 241.88h0.6v0.6h-0.6zM76.59 239.09h0.6v0.6h-0.6zM80.42 237.04h0.6v0.6h-0.6zM81.53 234.78h0.6v0.6h-0.6zM78.04 239.85h0.6v0.6h-0.6zM84.31 236.21h0.6v0.6h-0.6zM76.34 244.77h0.6v0.6h-0.6zM85.19 238.96h0.6v0.6h-0.6zM77.82 236.17h0.6v0.6h-0.6zM82.22 235.05h0.6v0.6h-0.6zM86.92 238.3h0.6v0.6h-0.6zM82.74 234.85h0.6v0.6h-0.6zM78.24 235.56h0.6v0.6h-0.6zM82.34 237.11h0.6v0.6h-0.6zM80.38 238.83h0.6v0.6h-0.6zM82.16 242.29h0.6v0.6h-0.6zM80.7 234.9h0.6v0.6h-0.6zM81.34 242.23h0.6v0.6h-0.6zM79.47 238.04h0.6v0.6h-0.6zM80.15 239.1h0.6v0.6h-0.6zM82.27 235.5h0.6v0.6h-0.6zM80.6 240.68h0.6v0.6h-0.6zM85.16 240.62h0.6v0.6h-0.6z"/>
<path fill="#000" d="M74.06 230.27h0.4v0.4h-0.4zM81.11 210.64h0.4v0.4h-0.4zM77.63 232.74h0.4v0.4h-0.4zM77.13 219.15h0.4v0.4h-0.4zM82.33 221.43h0.4v0.4h-0.4zM81.55 216.67h0.4v0.4h-0.4zM82.53 234.13h0.4v0.4h-0.4zM80.06 204.86h0.4v0.4h-0.4zM82.78 224.89h0.4v0.4h-0.4zM79.19 237.21h0.4v0.4h-0.4zM77.07 241.72h0.4v0.4h-0.4zM80.15 238.75h0.4v0.4h-0.4zM79.63 212.67h0.4v0.4h-0.4zM81.34 227.47h0.4v0.4h-0.4zM83.24 233.86h0.4v0.4h-0.4zM78.51 229.16h0.4v0.4h-0.4zM82.78 221.91h0.4v0.4h-0.4zM77.26 216.23h0.4v0.4h-0.4zM83.65 231.46h0.4v0.4h-0.4zM77.28 212.79h0.4v0.4h-0.4zM83.27 210.33h0.4v0.4h-0.4zM80.64 217.29h0.4v0.4h-0.4zM75.67 226.08h0.4v0.4h-0.4zM81.35 237.41h0.4v0.4h-0.4zM87.4 222.25h0.4v0.4h-0.4zM84.66 233.57h0.4v0.4h-0.4zM78.56 216.92h0.4v0.4h-0.4zM85.29 220.84h0.4v0.4h-0.4zM80.49 221.92h0.4v0.4h-0.4zM79.92 219.16h0.4v0.4h-0.4zM84 235.52h0.4v0.4h-0.4zM78.6 212.29h0.4v0.4h-0.4zM79.78 211.23h0.4v0.4h-0.4zM79.85 235.66h0.4v0.4h-0.4zM87.99 227.26h0.4v0.4h-0.4zM78.23 231.75h0.4v0.4h-0.4zM73.56 218.9h0.4v0.4h-0.4zM85.9 230.76h0.4v0.4h-0.4zM75.38 210.03h0.4v0.4h-0.4zM83.29 223.86h0.4v0.4h-0.4zM79.35 228.35h0.4v0.4h-0.4zM77.58 207.52h0.4v0.4h-0.4zM82.69 218.52h0.4v0.4h-0.4zM76.76 212.88h0.4v0.4h-0.4zM80.9 217.27h0.4v0.4h-0.4zM82.44 221.96h0.4v0.4h-0.4zM83.7 220.78h0.4v0.4h-0.4zM77.31 207.11h0.4v0.4h-0.4zM78.08 231.22h0.4v0.4h-0.4zM88.9 212.55h0.4v0.4h-0.4zM77.97 227.8h0.4v0.4h-0.4zM81.68 218.35h0.4v0.4h-0.4zM79.77 210.16h0.4v0.4h-0.4zM80.61 232.63h0.4v0.4h-0.4zM85.52 222.6h0.4v0.4h-0.4zM80.37 228.62h0.4v0.4h-0.4zM84.46 228.58h0.4v0.4h-0.4zM78.84 227.9h0.4v0.4h-0.4zM83.11 217.91h0.4v0.4h-0.4zM77.22 229.42h0.4v0.4h-0.4zM82.64 233.05h0.4v0.4h-0.4zM80.56 218.76h0.4v0.4h-0.4zM78.7 215.47h0.4v0.4h-0.4zM77.55 219.78h0.4v0.4h-0.4zM80.23 234.61h0.4v0.4h-0.4zM77.12 224.44h0.4v0.4h-0.4zM80.21 237.98h0.4v0.4h-0.4zM81.3 221.16h0.4v0.4h-0.4zM83.28 224.95h0.4v0.4h-0.4zM80.59 238.38h0.4v0.4h-0.4zM84.28 239.81h0.4v0.4h-0.4zM84.86 231.19h0.4v0.4h-0.4zM80.37 214.88h0.4v0.4h-0.4zM82.99 225.05h0.4v0.4h-0.4zM82.83 224.35h0.4v0.4h-0.4zM77.99 215.81h0.4v0.4h-0.4zM83.92 235.94h0.4v0.4h-0.4zM80.33 228.74h0.4v0.4h-0.4zM84.29 216.82h0.4v0.4h-0.4zM78.95 214.74h0.4v0.4h-0.4zM84.54 226.66h0.4v0.4h-0.4zM78.18 210h0.4v0.4h-0.4zM81.08 233.57h0.4v0.4h-0.4zM79.63 220.94h0.4v0.4h-0.4zM81.79 213.5h0.4v0.4h-0.4zM81.47 229.96h0.4v0.4h-0.4zM77.89 217.47h0.4v0.4h-0.4zM81.51 223.71h0.4v0.4h-0.4zM80.31 226.57h0.4v0.4h-0.4zM80.79 216.36h0.4v0.4h-0.4zM79.23 228.84h0.4v0.4h-0.4zM85.24 236.43h0.4v0.4h-0.4zM79.2 234.63h0.4v0.4h-0.4zM83.09 224.22h0.4v0.4h-0.4zM82.96 231.94h0.4v0.4h-0.4zM85.35 214.84h0.4v0.4h-0.4zM82.54 223.3h0.4v0.4h-0.4zM81.15 234.96h0.4v0.4h-0.4zM82.51 215.47h0.4v0.4h-0.4zM80.21 226.81h0.4v0.4h-0.4zM77.36 232.76h0.4v0.4h-0.4zM80.78 226.18h0.4v0.4h-0.4zM83.28 240.69h0.4v0.4h-0.4zM80.71 221.54h0.4v0.4h-0.4zM85.64 219.82h0.4v0.4h-0.4zM78.25 212.55h0.4v0.4h-0.4zM84.29 226.87h0.4v0.4h-0.4zM82.41 226.09h0.4v0.4h-0.4zM79.88 217.8h0.4v0.4h-0.4zM78.91 228.78h0.4v0.4h-0.4zM82.52 239.19h0.4v0.4h-0.4zM78.26 220.62h0.4v0.4h-0.4zM78.94 237.24h0.4v0.4h-0.4zM77.85 231.92h0.4v0.4h-0.4zM85.04 223.14h0.4v0.4h-0.4zM81.39 205.7h0.4v0.4h-0.4zM78.47 210.15h0.4v0.4h-0.4zM81.41 224.8h0.4v0.4h-0.4zM79.36 233.34h0.4v0.4h-0.4zM81.54 220.04h0.4v0.4h-0.4zM78.24 211.87h0.4v0.4h-0.4zM82 243.6h0.4v0.4h-0.4zM79.13 228.69h0.4v0.4h-0.4zM79.9 232.04h0.4v0.4h-0.4zM82.02 222.6h0.4v0.4h-0.4zM75.24 220.68h0.4v0.4h-0.4zM84.26 222.31h0.4v0.4h-0.4zM82.39 220.36h0.4v0.4h-0.4zM75.72 229.04h0.4v0.4h-0.4zM81.4 219.57h0.4v0.4h-0.4zM80.04 227.45h0.4v0.4h-0.4zM79.43 228.01h0.4v0.4h-0.4zM78.48 203.95h0.4v0.4h-0.4zM80.02 219.54h0.4v0.4h-0.4zM78.75 228.58h0.4v0.4h-0.4zM79.89 229.7h0.4v0.4h-0.4zM84.25 225.78h0.4v0.4h-0.4zM75.77 218.72h0.4v0.4h-0.4zM83.41 222.27h0.4v0.4h-0.4zM78.46 224.22h0.4v0.4h-0.4zM82.6 226.97h0.4v0.4h-0.4zM82.19 217.34h0.4v0.4h-0.4zM79.91 222.65h0.4v0.4h-0.4zM79.23 206.25h0.4v0.4h-0.4zM79.18 212.99h0.4v0.4h-0.4zM86.24 238.25h0.4v0.4h-0.4zM86.52 231.57h0.4v0.4h-0.4zM80.23 233.46h0.4v0.4h-0.4zM80.81 230.3h0.4v0.4h-0.4zM77.81 219.86h0.4v0.4h-0.4zM83.68 240.43h0.4v0.4h-0.4zM82.6 244.82h0.4v0.4h-0.4zM88.08 212.77h0.4v0.4h-0.4zM80.11 216.42h0.4v0.4h-0.4zM80.11 220.15h0.4v0.4h-0.4zM81.49 233.42h0.4v0.4h-0.4zM83.91 226.92h0.4v0.4h-0.4zM81.04 225.91h0.4v0.4h-0.4zM81.76 229.91h0.4v0.4h-0.4zM81.35 229.32h0.4v0.4h-0.4zM77.69 232.23h0.4v0.4h-0.4zM86.25 226.04h0.4v0.4h-0.4zM77.81 237.21h0.4v0.4h-0.4zM77.65 198.46h0.4v0.4h-0.4zM80.77 230.3h0.4v0.4h-0.4zM83.04 235.78h0.4v0.4h-0.4zM82.88 225.83h0.4v0.4h-0.4zM74.24 215.51h0.4v0.4h-0.4zM82.01 230.84h0.4v0.4h-0.4zM77.44 219.72h0.4v0.4h-0.4zM80.86 207.83h0.4v0.4h-0.4zM75.02 223.35h0.4v0.4h-0.4zM81.33 220.57h0.4v0.4h-0.4zM74.19 225.69h0.4v0.4h-0.4zM77.53 231.03h0.4v0.4h-0.4zM80.86 227.26h0.4v0.4h-0.4zM82.44 220.05h0.4v0.4h-0.4zM84.37 235.71h0.4v0.4h-0.4zM83.16 236.59h0.4v0.4h-0.4zM79.81 233.18h0.4v0.4h-0.4zM80.98 216.07h0.4v0.4h-0.4zM80.31 220.21h0.4v0.4h-0.4zM79.39 225.81h0.4v0.4h-0.4zM83.85 221.81h0.4v0.4h-0.4zM80.19 211.84h0.4v0.4h-0.4zM82.17 235.11h0.4v0.4h-0.4zM83.72 228.9h0.4v0.4h-0.4zM78.64 216.38h0.4v0.4h-0.4zM79.64 213.05h0.4v0.4h-0.4zM78.04 233.59h0.4v0.4h-0.4zM79.64 241.08h0.4v0.4h-0.4zM77.06 229.09h0.4v0.4h-0.4zM77.63 226.75h0.4v0.4h-0.4zM77.91 225.53h0.4v0.4h-0.4zM80.14 220.93h0.4v0.4h-0.4zM83.64 238.17h0.4v0.4h-0.4zM79.89 232.91h0.4v0.4h-0.4zM81.18 224.61h0.4v0.4h-0.4zM85.76 205.06h0.4v0.4h-0.4zM77.53 209h0.4v0.4h-0.4zM73.22 254.56h0.4v0.4h-0.4zM71.41 259.52h0.4v0.4h-0.4zM70.22 255.64h0.4v0.4h-0.4zM69.21 254.37h0.4v0.4h-0.4zM70.91 251.13h0.4v0.4h-0.4zM72.8 252.98h0.4v0.4h-0.4zM71.41 254.85h0.4v0.4h-0.4zM70.87 261.46h0.4v0.4h-0.4zM71.22 256.64h0.4v0.4h-0.4zM70.03 254.01h0.4v0.4h-0.4zM71.47 254.66h0.4v0.4h-0.4zM71.09 256.43h0.4v0.4h-0.4zM74.25 255.35h0.4v0.4h-0.4zM71.75 254.34h0.4v0.4h-0.4zM75.69 262.21h0.4v0.4h-0.4zM72.77 258.64h0.4v0.4h-0.4zM70.91 255.27h0.4v0.4h-0.4zM72.26 256.34h0.4v0.4h-0.4zM70.69 252.81h0.4v0.4h-0.4zM72.71 257.1h0.4v0.4h-0.4zM68.85 256.24h0.4v0.4h-0.4zM73.82 253.34h0.4v0.4h-0.4zM72.31 250.17h0.4v0.4h-0.4zM73.18 251.5h0.4v0.4h-0.4zM70.11 254.63h0.4v0.4h-0.4zM75.44 253.48h0.4v0.4h-0.4zM70.1 257.69h0.4v0.4h-0.4zM72.29 262.38h0.4v0.4h-0.4zM70.09 249.62h0.4v0.4h-0.4zM71.49 257.36h0.4v0.4h-0.4zM73.46 211.88h0.4v0.4h-0.4zM59 212.92h0.4v0.4h-0.4zM79.47 224.32h0.4v0.4h-0.4z"/>
</g>
<path d="M52.8 205H105.5V264.5" stroke="#555" stroke-width="0.9" fill="none"/>
<path d="M52.8 205V264.5H105.5" stroke="#222" stroke-width="1.0" fill="none"/>
<path d="M52.8 264.5v2.2M52.8 264.5h-2.2M56.8 264.5v1.2M52.8 260h-1.2M59.1 264.5v1.2M52.8 257.4h-1.2M60.7 264.5v1.2M52.8 255.5h-1.2M62 264.5v1.2M52.8 254.1h-1.2M63.1 264.5v1.2M52.8 252.9h-1.2M63.9 264.5v1.2M52.8 251.9h-1.2M64.7 264.5v1.2M52.8 251.1h-1.2M65.4 264.5v1.2M52.8 250.3h-1.2M66 264.5v2.2M52.8 249.6h-2.2M69.9 264.5v1.2M52.8 245.1h-1.2M72.3 264.5v1.2M52.8 242.5h-1.2M73.9 264.5v1.2M52.8 240.7h-1.2M75.2 264.5v1.2M52.8 239.2h-1.2M76.2 264.5v1.2M52.8 238.1h-1.2M77.1 264.5v1.2M52.8 237.1h-1.2M77.9 264.5v1.2M52.8 236.2h-1.2M78.5 264.5v1.2M52.8 235.4h-1.2M79.2 264.5v2.2M52.8 234.8h-2.2M83.1 264.5v1.2M52.8 230.3h-1.2M85.4 264.5v1.2M52.8 227.7h-1.2M87.1 264.5v1.2M52.8 225.8h-1.2M88.4 264.5v1.2M52.8 224.4h-1.2M89.4 264.5v1.2M52.8 223.2h-1.2M90.3 264.5v1.2M52.8 222.2h-1.2M91 264.5v1.2M52.8 221.3h-1.2M91.7 264.5v1.2M52.8 220.6h-1.2M92.3 264.5v2.2M52.8 219.9h-2.2M96.3 264.5v1.2M52.8 215.4h-1.2M98.6 264.5v1.2M52.8 212.8h-1.2M100.3 264.5v1.2M52.8 210.9h-1.2M101.5 264.5v1.2M52.8 209.5h-1.2M102.6 264.5v1.2M52.8 208.3h-1.2M103.5 264.5v1.2M52.8 207.3h-1.2M104.2 264.5v1.2M52.8 206.4h-1.2M104.9 264.5v1.2M52.8 205.7h-1.2M105.5 264.5v2.2M52.8 205h-2.2" stroke="#222" stroke-width="0.6" fill="none"/>
<text x="52.7" y="271.6" font-size="4.7" fill="#000" font-weight="bold" text-anchor="middle">10</text>
<text x="55.2" y="269.4" font-size="4.3" fill="#000" font-weight="bold">0</text>
<text font-size="4.7" fill="#000" font-weight="bold" text-anchor="middle" transform="translate(49.1,264.5) rotate(-90)">10</text>
<text font-size="4.3" fill="#000" font-weight="bold" transform="translate(47.1,261.7) rotate(-90)">0</text>
<text x="65.5" y="271.6" font-size="4.7" fill="#000" font-weight="bold" text-anchor="middle">10</text>
<text x="68" y="269.4" font-size="4.3" fill="#000" font-weight="bold">1</text>
<text font-size="4.7" fill="#000" font-weight="bold" text-anchor="middle" transform="translate(49.1,250) rotate(-90)">10</text>
<text font-size="4.3" fill="#000" font-weight="bold" transform="translate(47.1,247.2) rotate(-90)">1</text>
<text x="78.3" y="271.6" font-size="4.7" fill="#000" font-weight="bold" text-anchor="middle">10</text>
<text x="80.8" y="269.4" font-size="4.3" fill="#000" font-weight="bold">2</text>
<text font-size="4.7" fill="#000" font-weight="bold" text-anchor="middle" transform="translate(49.1,235.5) rotate(-90)">10</text>
<text font-size="4.3" fill="#000" font-weight="bold" transform="translate(47.1,232.7) rotate(-90)">2</text>
<text x="91.1" y="271.6" font-size="4.7" fill="#000" font-weight="bold" text-anchor="middle">10</text>
<text x="93.6" y="269.4" font-size="4.3" fill="#000" font-weight="bold">3</text>
<text font-size="4.7" fill="#000" font-weight="bold" text-anchor="middle" transform="translate(49.1,221.1) rotate(-90)">10</text>
<text font-size="4.3" fill="#000" font-weight="bold" transform="translate(47.1,218.3) rotate(-90)">3</text>
<text x="103.9" y="271.6" font-size="4.7" fill="#000" font-weight="bold" text-anchor="middle">10</text>
<text x="106.4" y="269.4" font-size="4.3" fill="#000" font-weight="bold">4</text>
<text font-size="4.7" fill="#000" font-weight="bold" text-anchor="middle" transform="translate(49.1,206.6) rotate(-90)">10</text>
<text font-size="4.3" fill="#000" font-weight="bold" transform="translate(47.1,203.8) rotate(-90)">4</text>
<text font-size="9.0" font-weight="bold" stroke="#000" stroke-width="0.2" text-anchor="middle" transform="translate(30.7,231.1) rotate(-90) scale(1,1.1)">CD57</text>
<text font-size="9.0" font-weight="bold" stroke="#000" stroke-width="0.2" text-anchor="middle" transform="translate(79.8,284) scale(1,1.1)">CD3</text>
<clipPath id="c9"><rect x="150.8" y="205" width="55.4" height="59.6"/></clipPath>
<g stroke="#444" stroke-width="0.8" fill="none">
<line x1="168.2" y1="205" x2="168.2" y2="264.6"/>
<line x1="150.8" y1="245" x2="206.2" y2="245"/>
</g>
<g clip-path="url(#c9)">
<path fill="#000" stroke="#000" stroke-opacity="0.35" stroke-width="1.4" stroke-linejoin="round" d="M183.2 212.2 L183.9 214.4 L181.7 218.8 L179.3 223.3 L176.8 225.7 L173.8 226.7 L171.4 225.2 L170.4 222.3 L171.4 219.3 L173.8 216.4 L176.8 213.9 L180.3 212.4Z"/>
<path fill="#000" d="M178.06 216.01h0.6v0.6h-0.6zM173.89 227.02h0.6v0.6h-0.6zM189.44 224.51h0.6v0.6h-0.6zM180.42 225.8h0.6v0.6h-0.6zM168.85 223.03h0.6v0.6h-0.6zM171.88 220.95h0.6v0.6h-0.6zM170.61 221.56h0.6v0.6h-0.6zM175.19 218.25h0.6v0.6h-0.6zM179.99 216.34h0.6v0.6h-0.6zM180.92 224.52h0.6v0.6h-0.6zM178.85 218.66h0.6v0.6h-0.6zM176.83 219.83h0.6v0.6h-0.6zM177.5 214.29h0.6v0.6h-0.6zM187.23 219.79h0.6v0.6h-0.6zM181.42 212.78h0.6v0.6h-0.6zM167.15 225.08h0.6v0.6h-0.6zM179.91 221.65h0.6v0.6h-0.6zM174.94 219.31h0.6v0.6h-0.6zM182.85 210.56h0.6v0.6h-0.6zM184.92 217.89h0.6v0.6h-0.6zM170.56 226.33h0.6v0.6h-0.6zM171.14 218.78h0.6v0.6h-0.6zM162.6 222.4h0.6v0.6h-0.6zM177.84 216.39h0.6v0.6h-0.6zM175.18 214.74h0.6v0.6h-0.6zM174.31 220.03h0.6v0.6h-0.6zM163.93 220.73h0.6v0.6h-0.6zM179.49 218.09h0.6v0.6h-0.6zM171.57 223.3h0.6v0.6h-0.6zM185.43 222.79h0.6v0.6h-0.6zM173.84 225.53h0.6v0.6h-0.6zM188.07 210.42h0.6v0.6h-0.6zM177.14 204.33h0.6v0.6h-0.6zM184.34 213.11h0.6v0.6h-0.6zM169.11 230.44h0.6v0.6h-0.6zM185.7 218.99h0.6v0.6h-0.6zM182.98 214.14h0.6v0.6h-0.6zM171.52 221.27h0.6v0.6h-0.6zM177.73 221.06h0.6v0.6h-0.6zM174.37 221.82h0.6v0.6h-0.6zM182.29 216.76h0.6v0.6h-0.6zM194.94 216.7h0.6v0.6h-0.6zM169.11 222.68h0.6v0.6h-0.6zM166.57 221.37h0.6v0.6h-0.6zM176.82 213.76h0.6v0.6h-0.6zM170.48 223.24h0.6v0.6h-0.6zM179.96 214.79h0.6v0.6h-0.6zM177.49 224.22h0.6v0.6h-0.6zM180.54 218.99h0.6v0.6h-0.6zM178.88 211.92h0.6v0.6h-0.6zM176.09 216.43h0.6v0.6h-0.6zM184.48 217.76h0.6v0.6h-0.6zM175.06 228.68h0.6v0.6h-0.6zM173.93 228.66h0.6v0.6h-0.6zM175.36 215.67h0.6v0.6h-0.6zM170 223.45h0.6v0.6h-0.6zM174.61 217.23h0.6v0.6h-0.6zM175.74 212.29h0.6v0.6h-0.6zM176.72 219.57h0.6v0.6h-0.6zM167.77 228.86h0.6v0.6h-0.6zM162.99 216.65h0.6v0.6h-0.6zM172.87 221.47h0.6v0.6h-0.6zM180.14 213.88h0.6v0.6h-0.6zM188.63 217.89h0.6v0.6h-0.6zM186.29 219.18h0.6v0.6h-0.6zM177.02 216.09h0.6v0.6h-0.6zM182.93 219.94h0.6v0.6h-0.6zM177.32 217.64h0.6v0.6h-0.6zM170.4 228.78h0.6v0.6h-0.6zM174.9 213.55h0.6v0.6h-0.6zM179.34 221.55h0.6v0.6h-0.6zM178.41 222.68h0.6v0.6h-0.6zM176.53 211.17h0.6v0.6h-0.6zM176.54 222.52h0.6v0.6h-0.6zM185.62 220.26h0.6v0.6h-0.6zM166.42 227.82h0.6v0.6h-0.6zM184.03 220.52h0.6v0.6h-0.6zM183.01 208.86h0.6v0.6h-0.6zM171.77 217.6h0.6v0.6h-0.6zM177.3 211.39h0.6v0.6h-0.6zM185.69 217.46h0.6v0.6h-0.6zM173.13 209.98h0.6v0.6h-0.6zM175.3 225.09h0.6v0.6h-0.6zM168.56 225.01h0.6v0.6h-0.6zM178.74 223.03h0.6v0.6h-0.6zM179.03 219.21h0.6v0.6h-0.6zM174.43 221.51h0.6v0.6h-0.6zM178.12 222.61h0.6v0.6h-0.6zM178.75 223.85h0.6v0.6h-0.6zM171.18 231.17h0.6v0.6h-0.6zM179.07 224.13h0.6v0.6h-0.6zM179.63 222.07h0.6v0.6h-0.6zM183.07 211h0.6v0.6h-0.6zM176.68 218.6h0.6v0.6h-0.6zM173.21 213.09h0.6v0.6h-0.6zM175.12 219.45h0.6v0.6h-0.6zM172.01 222.37h0.6v0.6h-0.6zM172.56 231.15h0.6v0.6h-0.6zM184.49 223.96h0.6v0.6h-0.6zM168.77 219.44h0.6v0.6h-0.6zM173.46 212.6h0.6v0.6h-0.6zM175.92 216.13h0.6v0.6h-0.6zM175.68 221.89h0.6v0.6h-0.6zM182.29 225.67h0.6v0.6h-0.6zM176.38 212.33h0.6v0.6h-0.6zM178.08 210.62h0.6v0.6h-0.6zM173.61 214.9h0.6v0.6h-0.6zM176.08 227.69h0.6v0.6h-0.6zM171.92 219.82h0.6v0.6h-0.6zM172.83 220.97h0.6v0.6h-0.6zM180.97 209.11h0.6v0.6h-0.6zM171.8 227.01h0.6v0.6h-0.6zM167.2 225.38h0.6v0.6h-0.6zM182.69 214.51h0.6v0.6h-0.6zM172.11 219.25h0.6v0.6h-0.6zM170.13 221.6h0.6v0.6h-0.6zM180.94 223.17h0.6v0.6h-0.6zM180.16 213.32h0.6v0.6h-0.6zM174.76 225.16h0.6v0.6h-0.6zM165.77 226.12h0.6v0.6h-0.6zM171.73 217.21h0.6v0.6h-0.6zM172.34 225.15h0.6v0.6h-0.6zM165.23 223.79h0.6v0.6h-0.6zM173.39 222.71h0.6v0.6h-0.6zM172.41 229.34h0.6v0.6h-0.6zM174.18 220.04h0.6v0.6h-0.6zM172.7 218.87h0.6v0.6h-0.6zM174.61 227.82h0.6v0.6h-0.6zM177.27 218.28h0.6v0.6h-0.6zM179.74 212.72h0.6v0.6h-0.6zM179.88 216.84h0.6v0.6h-0.6zM173.94 226.1h0.6v0.6h-0.6zM170.41 228.41h0.6v0.6h-0.6zM172.94 224.88h0.6v0.6h-0.6zM185.36 215.37h0.6v0.6h-0.6zM173.16 222.14h0.6v0.6h-0.6zM171.13 217.22h0.6v0.6h-0.6zM170.68 224.63h0.6v0.6h-0.6zM174.2 211.2h0.6v0.6h-0.6zM177.43 221.62h0.6v0.6h-0.6z"/>
<path fill="#000" d="M167.06 218.74h0.4v0.4h-0.4zM168.88 217.89h0.4v0.4h-0.4zM168.11 228.97h0.4v0.4h-0.4zM162.82 223.68h0.4v0.4h-0.4zM167.45 223.55h0.4v0.4h-0.4zM165.32 221.43h0.4v0.4h-0.4zM164.08 223.17h0.4v0.4h-0.4zM167.88 220.03h0.4v0.4h-0.4zM165 220.78h0.4v0.4h-0.4zM166.8 222.88h0.4v0.4h-0.4zM166.61 222.9h0.4v0.4h-0.4zM164.24 211.91h0.4v0.4h-0.4zM168.03 228.21h0.4v0.4h-0.4zM164.03 220.01h0.4v0.4h-0.4zM167.4 226.36h0.4v0.4h-0.4zM168.08 227.64h0.4v0.4h-0.4zM166.7 224.24h0.4v0.4h-0.4zM167.62 220.92h0.4v0.4h-0.4zM169.17 225.06h0.4v0.4h-0.4zM168.73 221.08h0.4v0.4h-0.4zM168.83 218.48h0.4v0.4h-0.4zM167.58 212.36h0.4v0.4h-0.4zM164.83 225.5h0.4v0.4h-0.4zM165.92 223.29h0.4v0.4h-0.4zM163.63 228.67h0.4v0.4h-0.4zM167.97 222.5h0.4v0.4h-0.4zM167.62 223.89h0.4v0.4h-0.4zM169.57 223.44h0.4v0.4h-0.4zM163.92 221.6h0.4v0.4h-0.4zM169.31 224.83h0.4v0.4h-0.4zM167.91 238.98h0.4v0.4h-0.4zM172.11 238.97h0.4v0.4h-0.4zM158.78 227.18h0.4v0.4h-0.4zM176.42 232.46h0.4v0.4h-0.4zM173.95 249.53h0.4v0.4h-0.4zM168.76 236.09h0.4v0.4h-0.4zM166.84 229.31h0.4v0.4h-0.4zM170.62 222.84h0.4v0.4h-0.4zM154.74 244.88h0.4v0.4h-0.4zM170.39 242.99h0.4v0.4h-0.4zM172.49 228.98h0.4v0.4h-0.4zM166.67 259.48h0.4v0.4h-0.4zM180.17 246.44h0.4v0.4h-0.4z"/>
</g>
<path d="M150.8 205H206.2V264.6" stroke="#555" stroke-width="0.9" fill="none"/>
<path d="M150.8 205V264.6H206.2" stroke="#222" stroke-width="1.0" fill="none"/>
<path d="M150.8 264.6v2.2M150.8 264.6h-2.2M155 264.6v1.2M150.8 260.1h-1.2M157.4 264.6v1.2M150.8 257.5h-1.2M159.1 264.6v1.2M150.8 255.6h-1.2M160.5 264.6v1.2M150.8 254.2h-1.2M161.6 264.6v1.2M150.8 253h-1.2M162.5 264.6v1.2M150.8 252h-1.2M163.3 264.6v1.2M150.8 251.1h-1.2M164 264.6v1.2M150.8 250.4h-1.2M164.7 264.6v2.2M150.8 249.7h-2.2M168.8 264.6v1.2M150.8 245.2h-1.2M171.3 264.6v1.2M150.8 242.6h-1.2M173 264.6v1.2M150.8 240.7h-1.2M174.3 264.6v1.2M150.8 239.3h-1.2M175.4 264.6v1.2M150.8 238.1h-1.2M176.4 264.6v1.2M150.8 237.1h-1.2M177.2 264.6v1.2M150.8 236.2h-1.2M177.9 264.6v1.2M150.8 235.5h-1.2M178.5 264.6v2.2M150.8 234.8h-2.2M182.7 264.6v1.2M150.8 230.3h-1.2M185.1 264.6v1.2M150.8 227.7h-1.2M186.8 264.6v1.2M150.8 225.8h-1.2M188.2 264.6v1.2M150.8 224.4h-1.2M189.3 264.6v1.2M150.8 223.2h-1.2M190.2 264.6v1.2M150.8 222.2h-1.2M191 264.6v1.2M150.8 221.3h-1.2M191.7 264.6v1.2M150.8 220.6h-1.2M192.3 264.6v2.2M150.8 219.9h-2.2M196.5 264.6v1.2M150.8 215.4h-1.2M199 264.6v1.2M150.8 212.8h-1.2M200.7 264.6v1.2M150.8 210.9h-1.2M202 264.6v1.2M150.8 209.5h-1.2M203.1 264.6v1.2M150.8 208.3h-1.2M204.1 264.6v1.2M150.8 207.3h-1.2M204.9 264.6v1.2M150.8 206.4h-1.2M205.6 264.6v1.2M150.8 205.7h-1.2M206.2 264.6v2.2M150.8 205h-2.2" stroke="#222" stroke-width="0.6" fill="none"/>
<text x="150.7" y="271.7" font-size="4.7" fill="#000" font-weight="bold" text-anchor="middle">10</text>
<text x="153.2" y="269.5" font-size="4.3" fill="#000" font-weight="bold">0</text>
<text font-size="4.7" fill="#000" font-weight="bold" text-anchor="middle" transform="translate(147.1,264.6) rotate(-90)">10</text>
<text font-size="4.3" fill="#000" font-weight="bold" transform="translate(145.1,261.8) rotate(-90)">0</text>
<text x="164.2" y="271.7" font-size="4.7" fill="#000" font-weight="bold" text-anchor="middle">10</text>
<text x="166.7" y="269.5" font-size="4.3" fill="#000" font-weight="bold">1</text>
<text font-size="4.7" fill="#000" font-weight="bold" text-anchor="middle" transform="translate(147.1,250.1) rotate(-90)">10</text>
<text font-size="4.3" fill="#000" font-weight="bold" transform="translate(145.1,247.3) rotate(-90)">1</text>
<text x="177.7" y="271.7" font-size="4.7" fill="#000" font-weight="bold" text-anchor="middle">10</text>
<text x="180.2" y="269.5" font-size="4.3" fill="#000" font-weight="bold">2</text>
<text font-size="4.7" fill="#000" font-weight="bold" text-anchor="middle" transform="translate(147.1,235.6) rotate(-90)">10</text>
<text font-size="4.3" fill="#000" font-weight="bold" transform="translate(145.1,232.8) rotate(-90)">2</text>
<text x="191.1" y="271.7" font-size="4.7" fill="#000" font-weight="bold" text-anchor="middle">10</text>
<text x="193.6" y="269.5" font-size="4.3" fill="#000" font-weight="bold">3</text>
<text font-size="4.7" fill="#000" font-weight="bold" text-anchor="middle" transform="translate(147.1,221.1) rotate(-90)">10</text>
<text font-size="4.3" fill="#000" font-weight="bold" transform="translate(145.1,218.3) rotate(-90)">3</text>
<text x="204.6" y="271.7" font-size="4.7" fill="#000" font-weight="bold" text-anchor="middle">10</text>
<text x="207.1" y="269.5" font-size="4.3" fill="#000" font-weight="bold">4</text>
<text font-size="4.7" fill="#000" font-weight="bold" text-anchor="middle" transform="translate(147.1,206.6) rotate(-90)">10</text>
<text font-size="4.3" fill="#000" font-weight="bold" transform="translate(145.1,203.8) rotate(-90)">4</text>
<text font-size="9.0" font-weight="bold" stroke="#000" stroke-width="0.2" text-anchor="middle" transform="translate(135,231.1) rotate(-90) scale(1,1.1)">CD3</text>
<text font-size="9.0" font-weight="bold" stroke="#000" stroke-width="0.2" text-anchor="middle" transform="translate(178.9,284) scale(1,1.1)">CD49d</text>
<clipPath id="c10"><rect x="254.2" y="203.8" width="57.4" height="60.2"/></clipPath>
<g stroke="#444" stroke-width="0.8" fill="none">
<line x1="272.3" y1="203.8" x2="272.3" y2="264"/>
<line x1="254.2" y1="244.3" x2="311.6" y2="244.3"/>
</g>
<g clip-path="url(#c10)">
<path fill="#000" stroke="#000" stroke-opacity="0.35" stroke-width="1.4" stroke-linejoin="round" d="M254.5 214.8 L257.9 214.4 L261.9 212.4 L265.8 210.4 L269.8 209.9 L273.7 211.4 L276.2 213.9 L277.2 217.8 L274.2 219.8 L271.8 222.7 L267.8 224.2 L263.9 224.7 L259.9 223.2 L256 221.8 L254.5 221.8Z"/>
<path fill="#000" d="M256.26 224.21h0.6v0.6h-0.6zM257.31 219.04h0.6v0.6h-0.6zM286.06 213.36h0.6v0.6h-0.6zM278.42 212.58h0.6v0.6h-0.6zM270.15 216.02h0.6v0.6h-0.6zM267.78 211.94h0.6v0.6h-0.6zM257.86 219.6h0.6v0.6h-0.6zM251.59 214.85h0.6v0.6h-0.6zM269.81 212.78h0.6v0.6h-0.6zM256.89 212.61h0.6v0.6h-0.6zM265.98 214.7h0.6v0.6h-0.6zM266.16 215.54h0.6v0.6h-0.6zM279.85 211.9h0.6v0.6h-0.6zM249.19 220.04h0.6v0.6h-0.6zM265.24 217.41h0.6v0.6h-0.6zM252.94 224.41h0.6v0.6h-0.6zM264.8 216.5h0.6v0.6h-0.6zM252.57 221.21h0.6v0.6h-0.6zM265.7 223.24h0.6v0.6h-0.6zM260.66 211.33h0.6v0.6h-0.6zM265.37 212.09h0.6v0.6h-0.6zM267.57 210.87h0.6v0.6h-0.6zM263.85 215.76h0.6v0.6h-0.6zM264.38 214.25h0.6v0.6h-0.6zM258.44 217.54h0.6v0.6h-0.6zM260.5 218.23h0.6v0.6h-0.6zM260.98 206.3h0.6v0.6h-0.6zM265.76 223.4h0.6v0.6h-0.6zM268.07 219.09h0.6v0.6h-0.6zM268.4 213.77h0.6v0.6h-0.6zM254.94 222.44h0.6v0.6h-0.6zM274.14 217.86h0.6v0.6h-0.6zM268.87 217.94h0.6v0.6h-0.6zM265.1 218.01h0.6v0.6h-0.6zM265.47 218.2h0.6v0.6h-0.6zM256.91 215.01h0.6v0.6h-0.6zM269.42 214.24h0.6v0.6h-0.6zM245.63 220.71h0.6v0.6h-0.6zM248.22 229.01h0.6v0.6h-0.6zM271.48 218.84h0.6v0.6h-0.6zM258.81 212.26h0.6v0.6h-0.6zM263.42 217.07h0.6v0.6h-0.6zM259.04 218.52h0.6v0.6h-0.6zM271.17 218.54h0.6v0.6h-0.6zM254.96 207.9h0.6v0.6h-0.6zM264.61 213.56h0.6v0.6h-0.6zM270.11 223.82h0.6v0.6h-0.6zM278.58 215.71h0.6v0.6h-0.6zM275.44 222.89h0.6v0.6h-0.6zM265.77 217.91h0.6v0.6h-0.6zM271.99 215.32h0.6v0.6h-0.6zM260.56 213.87h0.6v0.6h-0.6zM264.73 213.76h0.6v0.6h-0.6zM271.33 214.01h0.6v0.6h-0.6zM277.95 220.35h0.6v0.6h-0.6zM256.2 223.56h0.6v0.6h-0.6zM263.15 223.74h0.6v0.6h-0.6zM269.32 215.79h0.6v0.6h-0.6zM270.18 213.16h0.6v0.6h-0.6zM268.23 218.08h0.6v0.6h-0.6zM264.43 218.76h0.6v0.6h-0.6zM257.78 220.77h0.6v0.6h-0.6zM256.16 221.38h0.6v0.6h-0.6zM269.68 219.41h0.6v0.6h-0.6zM263.4 231.79h0.6v0.6h-0.6zM263.68 217.8h0.6v0.6h-0.6zM260.55 224.54h0.6v0.6h-0.6zM262.46 222.1h0.6v0.6h-0.6zM258.14 219.57h0.6v0.6h-0.6zM263.24 221.67h0.6v0.6h-0.6zM262.42 213.16h0.6v0.6h-0.6zM268.07 210.58h0.6v0.6h-0.6zM258.49 221.74h0.6v0.6h-0.6zM251.24 222.99h0.6v0.6h-0.6zM261.56 213.1h0.6v0.6h-0.6zM267.98 219.43h0.6v0.6h-0.6zM260.75 216.82h0.6v0.6h-0.6zM272.52 219.23h0.6v0.6h-0.6zM264.52 213.32h0.6v0.6h-0.6zM257.59 215.39h0.6v0.6h-0.6zM271.45 218.59h0.6v0.6h-0.6zM269.16 222.92h0.6v0.6h-0.6zM262.94 215.51h0.6v0.6h-0.6zM264.16 226.3h0.6v0.6h-0.6zM249.61 221.1h0.6v0.6h-0.6zM269.25 216.55h0.6v0.6h-0.6zM285.11 219.08h0.6v0.6h-0.6zM271.06 211.64h0.6v0.6h-0.6zM269.35 214.48h0.6v0.6h-0.6zM266.25 217.77h0.6v0.6h-0.6zM262.46 220.52h0.6v0.6h-0.6zM279.48 219.46h0.6v0.6h-0.6zM265.9 207.65h0.6v0.6h-0.6zM275.25 220.41h0.6v0.6h-0.6zM263.89 214.99h0.6v0.6h-0.6zM270.35 212.27h0.6v0.6h-0.6zM271.23 210.83h0.6v0.6h-0.6zM258.61 218.3h0.6v0.6h-0.6zM254.39 218.98h0.6v0.6h-0.6zM268.98 210.12h0.6v0.6h-0.6zM272.71 213.07h0.6v0.6h-0.6zM270.38 217.19h0.6v0.6h-0.6zM261.88 215.17h0.6v0.6h-0.6zM251.91 216.11h0.6v0.6h-0.6zM261.19 225.63h0.6v0.6h-0.6zM272.8 209.22h0.6v0.6h-0.6zM272.4 216.89h0.6v0.6h-0.6zM263.32 219.64h0.6v0.6h-0.6zM271.68 213.25h0.6v0.6h-0.6zM263.91 218.12h0.6v0.6h-0.6zM258.36 219.2h0.6v0.6h-0.6zM264.76 213.95h0.6v0.6h-0.6zM259.6 219.56h0.6v0.6h-0.6zM273.09 217.3h0.6v0.6h-0.6zM259.86 221.62h0.6v0.6h-0.6zM267.78 219.48h0.6v0.6h-0.6zM274.35 211.22h0.6v0.6h-0.6zM264.39 214.43h0.6v0.6h-0.6zM260.75 227.43h0.6v0.6h-0.6zM271.89 207.55h0.6v0.6h-0.6zM268.86 213.84h0.6v0.6h-0.6zM275.04 215.79h0.6v0.6h-0.6zM264.73 217.89h0.6v0.6h-0.6zM269.01 216.6h0.6v0.6h-0.6zM264.15 216.66h0.6v0.6h-0.6zM269.07 211.09h0.6v0.6h-0.6zM265.87 216.45h0.6v0.6h-0.6zM262.78 221.06h0.6v0.6h-0.6zM255.6 217.09h0.6v0.6h-0.6zM259.77 220.68h0.6v0.6h-0.6zM262.37 217.87h0.6v0.6h-0.6zM267.71 209.12h0.6v0.6h-0.6zM268.92 212.93h0.6v0.6h-0.6zM263.91 216.83h0.6v0.6h-0.6zM272.92 219.28h0.6v0.6h-0.6zM279.94 215.38h0.6v0.6h-0.6zM261.86 215.34h0.6v0.6h-0.6zM272.41 223.47h0.6v0.6h-0.6zM268.2 213.88h0.6v0.6h-0.6zM268.35 217.8h0.6v0.6h-0.6zM265.65 213.54h0.6v0.6h-0.6zM245.72 218.03h0.6v0.6h-0.6zM274.4 216.53h0.6v0.6h-0.6zM248.74 220.07h0.6v0.6h-0.6zM253.17 228.7h0.6v0.6h-0.6zM266.51 211.2h0.6v0.6h-0.6zM271.6 212.3h0.6v0.6h-0.6zM270.41 216.33h0.6v0.6h-0.6zM257.32 221.68h0.6v0.6h-0.6zM256.62 225.01h0.6v0.6h-0.6zM265.64 212.19h0.6v0.6h-0.6zM253.14 226.93h0.6v0.6h-0.6zM276.33 209.22h0.6v0.6h-0.6zM279.01 215.5h0.6v0.6h-0.6zM264.2 216.91h0.6v0.6h-0.6zM265.06 223.95h0.6v0.6h-0.6zM265.68 208.32h0.6v0.6h-0.6zM283.08 218.17h0.6v0.6h-0.6zM257.2 216.86h0.6v0.6h-0.6zM258.97 218.46h0.6v0.6h-0.6zM269.28 217.55h0.6v0.6h-0.6zM260.67 214.14h0.6v0.6h-0.6zM272.54 215.37h0.6v0.6h-0.6zM282.94 210.19h0.6v0.6h-0.6zM272.2 216.14h0.6v0.6h-0.6zM261.16 224.31h0.6v0.6h-0.6zM266.24 212.72h0.6v0.6h-0.6zM264.33 222.12h0.6v0.6h-0.6zM257.54 225.03h0.6v0.6h-0.6zM271.13 214.77h0.6v0.6h-0.6zM278.03 223.18h0.6v0.6h-0.6zM270.82 216.96h0.6v0.6h-0.6zM281.66 221.33h0.6v0.6h-0.6zM258.58 217.33h0.6v0.6h-0.6zM263.98 215.4h0.6v0.6h-0.6zM255 223.23h0.6v0.6h-0.6zM266.74 217.34h0.6v0.6h-0.6zM276.58 212.45h0.6v0.6h-0.6zM265.78 218.34h0.6v0.6h-0.6zM262.52 217.09h0.6v0.6h-0.6z"/>
<path fill="#000" d="M251.68 226.42h0.4v0.4h-0.4zM258.85 227.72h0.4v0.4h-0.4zM264.47 224.56h0.4v0.4h-0.4zM258.47 226.87h0.4v0.4h-0.4zM263.06 221.25h0.4v0.4h-0.4zM268.68 227.57h0.4v0.4h-0.4zM263.95 228.21h0.4v0.4h-0.4zM259.07 227.38h0.4v0.4h-0.4zM269 230.1h0.4v0.4h-0.4zM266.23 226.83h0.4v0.4h-0.4zM260.03 230.69h0.4v0.4h-0.4zM266.53 226.48h0.4v0.4h-0.4zM253.49 225.39h0.4v0.4h-0.4zM254.65 230.52h0.4v0.4h-0.4zM264.91 225.69h0.4v0.4h-0.4zM262.65 233.81h0.4v0.4h-0.4zM269.92 224.23h0.4v0.4h-0.4zM263.36 224.5h0.4v0.4h-0.4zM255.59 227.92h0.4v0.4h-0.4zM275.79 231.31h0.4v0.4h-0.4zM264.21 226.58h0.4v0.4h-0.4zM264.99 230.03h0.4v0.4h-0.4zM256.84 222.92h0.4v0.4h-0.4zM273.22 228.19h0.4v0.4h-0.4zM271.88 228.08h0.4v0.4h-0.4zM271.26 226h0.4v0.4h-0.4zM266.45 231.32h0.4v0.4h-0.4zM269.02 226.37h0.4v0.4h-0.4zM268.41 225.86h0.4v0.4h-0.4zM256.97 228.79h0.4v0.4h-0.4zM270.9 229.6h0.4v0.4h-0.4zM257.79 229.65h0.4v0.4h-0.4zM267.36 226.36h0.4v0.4h-0.4zM251.71 230.01h0.4v0.4h-0.4zM268.39 228.73h0.4v0.4h-0.4zM255.43 223.81h0.4v0.4h-0.4zM269.01 229.49h0.4v0.4h-0.4zM266.45 226.89h0.4v0.4h-0.4zM265.95 226.16h0.4v0.4h-0.4zM262.45 225.35h0.4v0.4h-0.4zM265.28 226.46h0.4v0.4h-0.4zM268.73 229.29h0.4v0.4h-0.4zM259.96 232.07h0.4v0.4h-0.4zM258.42 228.62h0.4v0.4h-0.4zM269.39 230.69h0.4v0.4h-0.4zM253.02 229.99h0.4v0.4h-0.4zM270.07 231.08h0.4v0.4h-0.4zM252.92 225.81h0.4v0.4h-0.4zM263.51 226.39h0.4v0.4h-0.4zM270.69 225.81h0.4v0.4h-0.4zM270.13 228.9h0.4v0.4h-0.4zM256.74 225.02h0.4v0.4h-0.4zM261.66 227.74h0.4v0.4h-0.4zM268.96 227.04h0.4v0.4h-0.4zM268.54 223.57h0.4v0.4h-0.4zM248.76 226.66h0.4v0.4h-0.4zM266.29 226.6h0.4v0.4h-0.4zM258.95 228.56h0.4v0.4h-0.4zM273.66 227.24h0.4v0.4h-0.4zM260.37 225.39h0.4v0.4h-0.4zM273.83 227.4h0.4v0.4h-0.4zM267.06 230.55h0.4v0.4h-0.4zM269.39 225.2h0.4v0.4h-0.4zM268.78 229.61h0.4v0.4h-0.4zM266.45 230.02h0.4v0.4h-0.4zM261.19 227.31h0.4v0.4h-0.4zM261.38 229.4h0.4v0.4h-0.4zM260.73 228.48h0.4v0.4h-0.4zM258.53 227.2h0.4v0.4h-0.4zM262.19 227.21h0.4v0.4h-0.4zM264.66 227.04h0.4v0.4h-0.4zM262.9 222.32h0.4v0.4h-0.4zM269.53 225.94h0.4v0.4h-0.4zM262.78 225.43h0.4v0.4h-0.4zM269 225.24h0.4v0.4h-0.4zM266.52 230.45h0.4v0.4h-0.4zM272.23 230.47h0.4v0.4h-0.4zM267.1 224.51h0.4v0.4h-0.4zM270.45 230.47h0.4v0.4h-0.4zM268.2 229.51h0.4v0.4h-0.4zM264.4 226.22h0.4v0.4h-0.4zM269.42 230.69h0.4v0.4h-0.4zM258.84 229.8h0.4v0.4h-0.4zM265.26 229.73h0.4v0.4h-0.4zM265.41 230.29h0.4v0.4h-0.4zM269.16 229.74h0.4v0.4h-0.4zM257.18 229.58h0.4v0.4h-0.4zM264.31 224.73h0.4v0.4h-0.4zM267.59 224.13h0.4v0.4h-0.4zM268.53 231.75h0.4v0.4h-0.4zM263.09 242.59h0.4v0.4h-0.4zM268.79 240.99h0.4v0.4h-0.4zM258.04 240.75h0.4v0.4h-0.4zM266.91 241.53h0.4v0.4h-0.4zM266.17 243.66h0.4v0.4h-0.4zM267.76 241.18h0.4v0.4h-0.4zM274.29 238.23h0.4v0.4h-0.4zM272.06 238.5h0.4v0.4h-0.4zM269.26 234.03h0.4v0.4h-0.4zM270.77 244.45h0.4v0.4h-0.4zM265.68 241.88h0.4v0.4h-0.4zM268.72 230.62h0.4v0.4h-0.4zM299.56 216.96h0.4v0.4h-0.4zM290.63 245.14h0.4v0.4h-0.4zM297.07 208.08h0.4v0.4h-0.4z"/>
<path fill="#fff" d="M268.53 218.35h0.5v0.5h-0.5zM270.78 215.84h0.5v0.5h-0.5zM265.23 214.88h0.5v0.5h-0.5zM264.11 217.15h0.5v0.5h-0.5zM271.66 219.95h0.5v0.5h-0.5zM268.26 223.71h0.5v0.5h-0.5zM272.03 219.82h0.5v0.5h-0.5zM261.1 215.55h0.5v0.5h-0.5zM264.69 218.04h0.5v0.5h-0.5zM261.86 218.72h0.5v0.5h-0.5zM258.07 224.5h0.5v0.5h-0.5zM259.38 218.06h0.5v0.5h-0.5zM266.84 214h0.5v0.5h-0.5zM269.73 220.86h0.5v0.5h-0.5zM263.02 216.25h0.5v0.5h-0.5zM261.89 214.23h0.5v0.5h-0.5zM271.47 218.01h0.5v0.5h-0.5zM261.13 217.07h0.5v0.5h-0.5zM268.41 222.72h0.5v0.5h-0.5zM258.79 218.44h0.5v0.5h-0.5zM257.15 222.33h0.5v0.5h-0.5zM266.84 225.18h0.5v0.5h-0.5zM264.22 217.88h0.5v0.5h-0.5zM262.12 221.97h0.5v0.5h-0.5zM257.78 222.44h0.5v0.5h-0.5zM265.9 217.38h0.5v0.5h-0.5zM261.31 222.69h0.5v0.5h-0.5zM273.46 216.22h0.5v0.5h-0.5zM268.33 223.44h0.5v0.5h-0.5zM261.98 218.8h0.5v0.5h-0.5zM259.23 219.59h0.5v0.5h-0.5zM264.41 217.89h0.5v0.5h-0.5zM260.77 215.17h0.5v0.5h-0.5zM258.23 217.37h0.5v0.5h-0.5zM267.75 217.04h0.5v0.5h-0.5zM261.34 221.54h0.5v0.5h-0.5zM267.26 216.42h0.5v0.5h-0.5zM262.4 221.37h0.5v0.5h-0.5zM266.29 216.35h0.5v0.5h-0.5zM266.11 218.72h0.5v0.5h-0.5zM269.79 215.64h0.5v0.5h-0.5zM269.35 219.49h0.5v0.5h-0.5zM260.79 222.8h0.5v0.5h-0.5zM268.61 214.54h0.5v0.5h-0.5zM273.73 214.13h0.5v0.5h-0.5zM260.53 218.85h0.5v0.5h-0.5zM268.91 220h0.5v0.5h-0.5zM265.23 222.93h0.5v0.5h-0.5zM267.6 222.6h0.5v0.5h-0.5zM278.36 217.21h0.5v0.5h-0.5z"/>
</g>
<path d="M254.2 203.8H311.6V264" stroke="#555" stroke-width="0.9" fill="none"/>
<path d="M254.2 203.8V264H311.6" stroke="#222" stroke-width="1.0" fill="none"/>
<path d="M254.2 264v2.2M254.2 264h-2.2M258.5 264v1.2M254.2 259.5h-1.2M261 264v1.2M254.2 256.8h-1.2M262.8 264v1.2M254.2 254.9h-1.2M264.2 264v1.2M254.2 253.5h-1.2M265.4 264v1.2M254.2 252.3h-1.2M266.3 264v1.2M254.2 251.3h-1.2M267.2 264v1.2M254.2 250.4h-1.2M267.9 264v1.2M254.2 249.6h-1.2M268.6 264v2.2M254.2 248.9h-2.2M272.9 264v1.2M254.2 244.4h-1.2M275.4 264v1.2M254.2 241.8h-1.2M277.2 264v1.2M254.2 239.9h-1.2M278.6 264v1.2M254.2 238.4h-1.2M279.7 264v1.2M254.2 237.2h-1.2M280.7 264v1.2M254.2 236.2h-1.2M281.5 264v1.2M254.2 235.4h-1.2M282.2 264v1.2M254.2 234.6h-1.2M282.9 264v2.2M254.2 233.9h-2.2M287.2 264v1.2M254.2 229.4h-1.2M289.7 264v1.2M254.2 226.7h-1.2M291.5 264v1.2M254.2 224.8h-1.2M292.9 264v1.2M254.2 223.4h-1.2M294.1 264v1.2M254.2 222.2h-1.2M295 264v1.2M254.2 221.2h-1.2M295.9 264v1.2M254.2 220.3h-1.2M296.6 264v1.2M254.2 219.5h-1.2M297.2 264v2.2M254.2 218.9h-2.2M301.6 264v1.2M254.2 214.3h-1.2M304.1 264v1.2M254.2 211.7h-1.2M305.9 264v1.2M254.2 209.8h-1.2M307.3 264v1.2M254.2 208.3h-1.2M308.4 264v1.2M254.2 207.1h-1.2M309.4 264v1.2M254.2 206.1h-1.2M310.2 264v1.2M254.2 205.3h-1.2M310.9 264v1.2M254.2 204.5h-1.2M311.6 264v2.2M254.2 203.8h-2.2" stroke="#222" stroke-width="0.6" fill="none"/>
<text x="254.1" y="271.1" font-size="4.7" fill="#000" font-weight="bold" text-anchor="middle">10</text>
<text x="256.6" y="268.9" font-size="4.3" fill="#000" font-weight="bold">0</text>
<text font-size="4.7" fill="#000" font-weight="bold" text-anchor="middle" transform="translate(250.5,264) rotate(-90)">10</text>
<text font-size="4.3" fill="#000" font-weight="bold" transform="translate(248.5,261.2) rotate(-90)">0</text>
<text x="268.1" y="271.1" font-size="4.7" fill="#000" font-weight="bold" text-anchor="middle">10</text>
<text x="270.6" y="268.9" font-size="4.3" fill="#000" font-weight="bold">1</text>
<text font-size="4.7" fill="#000" font-weight="bold" text-anchor="middle" transform="translate(250.5,249.3) rotate(-90)">10</text>
<text font-size="4.3" fill="#000" font-weight="bold" transform="translate(248.5,246.5) rotate(-90)">1</text>
<text x="282.1" y="271.1" font-size="4.7" fill="#000" font-weight="bold" text-anchor="middle">10</text>
<text x="284.6" y="268.9" font-size="4.3" fill="#000" font-weight="bold">2</text>
<text font-size="4.7" fill="#000" font-weight="bold" text-anchor="middle" transform="translate(250.5,234.7) rotate(-90)">10</text>
<text font-size="4.3" fill="#000" font-weight="bold" transform="translate(248.5,231.9) rotate(-90)">2</text>
<text x="296" y="271.1" font-size="4.7" fill="#000" font-weight="bold" text-anchor="middle">10</text>
<text x="298.5" y="268.9" font-size="4.3" fill="#000" font-weight="bold">3</text>
<text font-size="4.7" fill="#000" font-weight="bold" text-anchor="middle" transform="translate(250.5,220.1) rotate(-90)">10</text>
<text font-size="4.3" fill="#000" font-weight="bold" transform="translate(248.5,217.2) rotate(-90)">3</text>
<text x="310" y="271.1" font-size="4.7" fill="#000" font-weight="bold" text-anchor="middle">10</text>
<text x="312.5" y="268.9" font-size="4.3" fill="#000" font-weight="bold">4</text>
<text font-size="4.7" fill="#000" font-weight="bold" text-anchor="middle" transform="translate(250.5,205.4) rotate(-90)">10</text>
<text font-size="4.3" fill="#000" font-weight="bold" transform="translate(248.5,202.6) rotate(-90)">4</text>
<text font-size="9.0" font-weight="bold" stroke="#000" stroke-width="0.2" text-anchor="middle" transform="translate(235.1,231.1) rotate(-90) scale(1,1.1)">CD3</text>
<text font-size="9.0" font-weight="bold" stroke="#000" stroke-width="0.2" text-anchor="middle" transform="translate(280.6,284) scale(1,1.1)">CD49e</text>
<clipPath id="c11"><rect x="358.4" y="205" width="57.1" height="59.6"/></clipPath>
<g stroke="#444" stroke-width="0.8" fill="none">
<line x1="376.7" y1="205" x2="376.7" y2="264.6"/>
<line x1="358.4" y1="244.2" x2="415.5" y2="244.2"/>
</g>
<g clip-path="url(#c11)">
<path fill="#000" stroke="#000" stroke-opacity="0.35" stroke-width="1.4" stroke-linejoin="round" d="M377 225.5 L383 223.5 L389 222.3 L393.5 222.2 L394 224.5 L391.5 229.5 L388.5 234.5 L385.5 238.5 L383 240.2 L379 240.5 L377 239 L376.5 232Z"/>
<path fill="#000" d="M394.89 223.32h0.6v0.6h-0.6zM382.48 228.48h0.6v0.6h-0.6zM384.1 227.74h0.6v0.6h-0.6zM379.02 234.32h0.6v0.6h-0.6zM383.44 239.52h0.6v0.6h-0.6zM377.51 235.31h0.6v0.6h-0.6zM376.53 228.16h0.6v0.6h-0.6zM387.75 215.98h0.6v0.6h-0.6zM388.51 219.59h0.6v0.6h-0.6zM391.18 239.75h0.6v0.6h-0.6zM368.46 233.87h0.6v0.6h-0.6zM392.17 226.53h0.6v0.6h-0.6zM381.14 233.03h0.6v0.6h-0.6zM379.22 235.29h0.6v0.6h-0.6zM391.63 223.58h0.6v0.6h-0.6zM388.47 235.29h0.6v0.6h-0.6zM393.83 220.82h0.6v0.6h-0.6zM384.41 227.56h0.6v0.6h-0.6zM379.56 231.93h0.6v0.6h-0.6zM375.88 226.54h0.6v0.6h-0.6zM371.07 235.9h0.6v0.6h-0.6zM388.46 235.36h0.6v0.6h-0.6zM380.85 232.42h0.6v0.6h-0.6zM390.1 231.37h0.6v0.6h-0.6zM383.51 231.24h0.6v0.6h-0.6zM393.89 222.29h0.6v0.6h-0.6zM376.98 226.41h0.6v0.6h-0.6zM386 228.24h0.6v0.6h-0.6zM394.09 222.15h0.6v0.6h-0.6zM391.48 231.55h0.6v0.6h-0.6zM389.88 219.27h0.6v0.6h-0.6zM393.13 224.9h0.6v0.6h-0.6zM382.85 230.17h0.6v0.6h-0.6zM381.12 231.18h0.6v0.6h-0.6zM372.64 242.22h0.6v0.6h-0.6zM381.99 226.95h0.6v0.6h-0.6zM390.39 240.46h0.6v0.6h-0.6zM385.35 227.96h0.6v0.6h-0.6zM391.66 221.1h0.6v0.6h-0.6zM381.89 229.39h0.6v0.6h-0.6zM385.02 234.86h0.6v0.6h-0.6zM385.5 225.8h0.6v0.6h-0.6zM383.81 231.85h0.6v0.6h-0.6zM381.9 232.46h0.6v0.6h-0.6zM378.2 230.89h0.6v0.6h-0.6zM381.65 226.7h0.6v0.6h-0.6zM386.08 228.59h0.6v0.6h-0.6zM377.41 232.16h0.6v0.6h-0.6zM381.16 232.23h0.6v0.6h-0.6zM384.33 229.72h0.6v0.6h-0.6zM383.42 240.11h0.6v0.6h-0.6zM389.63 227.91h0.6v0.6h-0.6zM390.49 228.59h0.6v0.6h-0.6zM383.06 232.35h0.6v0.6h-0.6zM401.89 224.55h0.6v0.6h-0.6zM388.97 225.37h0.6v0.6h-0.6zM393.9 237.65h0.6v0.6h-0.6zM389.62 233.61h0.6v0.6h-0.6zM393.05 228.66h0.6v0.6h-0.6zM393.67 225.78h0.6v0.6h-0.6zM385.27 226.57h0.6v0.6h-0.6zM399.78 221.93h0.6v0.6h-0.6zM388.73 236.09h0.6v0.6h-0.6zM381.53 232.88h0.6v0.6h-0.6zM379.96 234.13h0.6v0.6h-0.6zM383.59 234.67h0.6v0.6h-0.6zM381.88 229.12h0.6v0.6h-0.6zM382.28 231.67h0.6v0.6h-0.6zM384 236.71h0.6v0.6h-0.6zM388.37 228.97h0.6v0.6h-0.6zM379.07 237.67h0.6v0.6h-0.6zM377.66 236.7h0.6v0.6h-0.6zM382.86 228.48h0.6v0.6h-0.6zM377.71 231.47h0.6v0.6h-0.6zM394.88 221.98h0.6v0.6h-0.6zM385.74 235.6h0.6v0.6h-0.6zM389.49 233.56h0.6v0.6h-0.6zM374.42 231.45h0.6v0.6h-0.6zM402.56 217.92h0.6v0.6h-0.6zM383.07 232.76h0.6v0.6h-0.6zM386.43 222.46h0.6v0.6h-0.6zM385.72 229.79h0.6v0.6h-0.6zM388.43 229.08h0.6v0.6h-0.6zM378.89 229.64h0.6v0.6h-0.6zM373.46 244.3h0.6v0.6h-0.6zM374.99 235.1h0.6v0.6h-0.6zM392.26 222.92h0.6v0.6h-0.6zM387.02 227.8h0.6v0.6h-0.6zM388.17 228.41h0.6v0.6h-0.6zM385.14 238.3h0.6v0.6h-0.6zM379.06 226.75h0.6v0.6h-0.6zM383.9 234.4h0.6v0.6h-0.6zM380.25 238.4h0.6v0.6h-0.6zM394.3 236.4h0.6v0.6h-0.6zM382.51 236.09h0.6v0.6h-0.6zM373.86 235.8h0.6v0.6h-0.6zM385.92 232.2h0.6v0.6h-0.6zM383.67 230.86h0.6v0.6h-0.6zM379.62 231.61h0.6v0.6h-0.6zM387.45 232.02h0.6v0.6h-0.6zM390.49 232.45h0.6v0.6h-0.6zM385.8 219.33h0.6v0.6h-0.6zM380.9 232.38h0.6v0.6h-0.6zM383.56 237.6h0.6v0.6h-0.6zM388.05 227.69h0.6v0.6h-0.6zM388.36 235.5h0.6v0.6h-0.6zM381.44 231.1h0.6v0.6h-0.6zM390.5 229.36h0.6v0.6h-0.6zM393.05 226.99h0.6v0.6h-0.6zM386.84 225.98h0.6v0.6h-0.6zM379.03 234.58h0.6v0.6h-0.6zM370.76 242.82h0.6v0.6h-0.6zM389.77 227.57h0.6v0.6h-0.6zM386 236.12h0.6v0.6h-0.6zM386.68 235.01h0.6v0.6h-0.6zM398.26 225.41h0.6v0.6h-0.6zM390.73 229.33h0.6v0.6h-0.6zM386.36 231.12h0.6v0.6h-0.6zM387.57 234.99h0.6v0.6h-0.6zM374.64 236.15h0.6v0.6h-0.6zM368.8 234.9h0.6v0.6h-0.6zM367.73 233.53h0.6v0.6h-0.6zM371.51 237.46h0.6v0.6h-0.6zM368.91 229.98h0.6v0.6h-0.6zM371.37 243.07h0.6v0.6h-0.6zM367.82 234.46h0.6v0.6h-0.6zM370.17 234.55h0.6v0.6h-0.6zM373.91 233.74h0.6v0.6h-0.6zM372.79 234.4h0.6v0.6h-0.6zM370.35 232.03h0.6v0.6h-0.6zM367.29 231.36h0.6v0.6h-0.6zM369.83 231.84h0.6v0.6h-0.6zM374.14 234.87h0.6v0.6h-0.6zM373.38 238.31h0.6v0.6h-0.6zM365.2 235.1h0.6v0.6h-0.6zM371.96 232.57h0.6v0.6h-0.6zM368.28 235.66h0.6v0.6h-0.6zM375.31 237.94h0.6v0.6h-0.6zM371.78 236.08h0.6v0.6h-0.6zM374.66 241.73h0.6v0.6h-0.6zM375.53 233.71h0.6v0.6h-0.6zM372.29 233.83h0.6v0.6h-0.6zM372.67 230.66h0.6v0.6h-0.6zM374.23 229.72h0.6v0.6h-0.6zM369.72 234.72h0.6v0.6h-0.6zM370.37 231.86h0.6v0.6h-0.6zM366.07 236.81h0.6v0.6h-0.6zM371.99 232.41h0.6v0.6h-0.6zM373.34 234.02h0.6v0.6h-0.6zM370.01 242.58h0.6v0.6h-0.6zM370.72 237.67h0.6v0.6h-0.6zM377.25 230.06h0.6v0.6h-0.6zM372.28 229.11h0.6v0.6h-0.6zM375.02 231.42h0.6v0.6h-0.6zM368.86 239.3h0.6v0.6h-0.6zM374.64 228.77h0.6v0.6h-0.6zM375.4 233.95h0.6v0.6h-0.6zM379.78 241.2h0.6v0.6h-0.6zM370.42 231.73h0.6v0.6h-0.6zM369.5 233.65h0.6v0.6h-0.6zM372.14 236.52h0.6v0.6h-0.6zM372.25 225.99h0.6v0.6h-0.6zM369.68 239.75h0.6v0.6h-0.6zM375.31 232.23h0.6v0.6h-0.6zM371.61 232.2h0.6v0.6h-0.6zM372.07 224.99h0.6v0.6h-0.6zM374.56 229.86h0.6v0.6h-0.6zM372.42 220.94h0.6v0.6h-0.6zM372.67 239.39h0.6v0.6h-0.6zM365.6 240.25h0.6v0.6h-0.6zM373.35 229.5h0.6v0.6h-0.6zM367.46 238.55h0.6v0.6h-0.6zM372.75 235.83h0.6v0.6h-0.6zM371.22 229.2h0.6v0.6h-0.6zM374.49 228.44h0.6v0.6h-0.6zM374.58 225.02h0.6v0.6h-0.6zM369.35 226.07h0.6v0.6h-0.6zM375.75 224.64h0.6v0.6h-0.6zM368.73 236.15h0.6v0.6h-0.6zM372.66 243.47h0.6v0.6h-0.6zM377.28 235.95h0.6v0.6h-0.6zM373.98 224.28h0.6v0.6h-0.6zM369.47 231.43h0.6v0.6h-0.6zM371.49 226.42h0.6v0.6h-0.6zM369.33 228.95h0.6v0.6h-0.6zM375.05 235.03h0.6v0.6h-0.6zM371.05 231.68h0.6v0.6h-0.6zM372.84 229.66h0.6v0.6h-0.6zM371.24 224.77h0.6v0.6h-0.6zM373.92 237.6h0.6v0.6h-0.6zM373.04 235.28h0.6v0.6h-0.6zM373.05 242.76h0.6v0.6h-0.6zM372.58 226.67h0.6v0.6h-0.6zM368.99 236.4h0.6v0.6h-0.6zM375.06 236.68h0.6v0.6h-0.6zM374.41 233.89h0.6v0.6h-0.6zM367.72 229.6h0.6v0.6h-0.6zM366.8 231.14h0.6v0.6h-0.6zM368.08 233.45h0.6v0.6h-0.6zM371.5 223.65h0.6v0.6h-0.6zM374.1 236.63h0.6v0.6h-0.6zM367.99 233.67h0.6v0.6h-0.6zM374.05 231.59h0.6v0.6h-0.6zM374.45 233.88h0.6v0.6h-0.6zM375.07 233.86h0.6v0.6h-0.6zM371.51 235.42h0.6v0.6h-0.6zM374.24 234.16h0.6v0.6h-0.6zM370.68 229.17h0.6v0.6h-0.6zM370.9 230.2h0.6v0.6h-0.6zM372.56 233.76h0.6v0.6h-0.6zM371.72 232.93h0.6v0.6h-0.6zM372.46 240.47h0.6v0.6h-0.6zM375.44 230.16h0.6v0.6h-0.6zM373.18 231.35h0.6v0.6h-0.6zM371.68 231.76h0.6v0.6h-0.6zM370.15 226.38h0.6v0.6h-0.6zM364.84 233.89h0.6v0.6h-0.6zM375.37 228.56h0.6v0.6h-0.6zM373.42 231.06h0.6v0.6h-0.6zM372.76 229.03h0.6v0.6h-0.6zM371.28 232.38h0.6v0.6h-0.6zM365.07 233.95h0.6v0.6h-0.6zM371.55 220.94h0.6v0.6h-0.6zM373.82 232.74h0.6v0.6h-0.6zM372.53 234.64h0.6v0.6h-0.6zM370.73 227.71h0.6v0.6h-0.6zM370.65 230.83h0.6v0.6h-0.6zM378.37 241.8h0.6v0.6h-0.6zM370.52 230.89h0.6v0.6h-0.6zM372.87 235.61h0.6v0.6h-0.6z"/>
<path fill="#000" d="M375.23 241.02h0.5v0.5h-0.5zM385.38 244.99h0.5v0.5h-0.5zM371.89 239.53h0.5v0.5h-0.5zM374.7 243.37h0.5v0.5h-0.5zM380.02 242.29h0.5v0.5h-0.5zM371.63 243.37h0.5v0.5h-0.5zM380.23 242.94h0.5v0.5h-0.5zM375.97 244.06h0.5v0.5h-0.5zM377.67 240.77h0.5v0.5h-0.5zM378.25 240.43h0.5v0.5h-0.5zM381.63 243.85h0.5v0.5h-0.5zM374.01 243.35h0.5v0.5h-0.5zM382.74 238.77h0.5v0.5h-0.5zM377.34 246.14h0.5v0.5h-0.5zM371.84 242.61h0.5v0.5h-0.5zM372.33 242.81h0.5v0.5h-0.5zM368.53 239.78h0.5v0.5h-0.5zM375.78 243.21h0.5v0.5h-0.5zM379.35 243.77h0.5v0.5h-0.5zM382.36 244.3h0.5v0.5h-0.5zM380.76 241.03h0.5v0.5h-0.5zM377.27 249.16h0.5v0.5h-0.5zM386.74 244.56h0.5v0.5h-0.5zM380.77 244.87h0.5v0.5h-0.5zM376.3 246.77h0.5v0.5h-0.5zM376.41 242.78h0.5v0.5h-0.5zM386.41 238.86h0.5v0.5h-0.5zM379.3 239.56h0.5v0.5h-0.5zM375.32 242.76h0.5v0.5h-0.5zM376.5 243.28h0.5v0.5h-0.5z"/>
<path fill="#000" d="M368.08 223.34h0.4v0.4h-0.4zM366.02 221.95h0.4v0.4h-0.4zM365.03 227.08h0.4v0.4h-0.4zM365.48 227.26h0.4v0.4h-0.4zM369.81 222.36h0.4v0.4h-0.4zM377.66 224.38h0.4v0.4h-0.4zM362.52 226.31h0.4v0.4h-0.4zM357.55 225.17h0.4v0.4h-0.4zM369.87 216.95h0.4v0.4h-0.4zM372.24 222.33h0.4v0.4h-0.4zM407.15 211.35h0.4v0.4h-0.4zM392.55 216.54h0.4v0.4h-0.4zM409.94 259.38h0.4v0.4h-0.4z"/>
<path fill="#fff" d="M382.97 232.66h0.5v0.5h-0.5zM380.78 233.09h0.5v0.5h-0.5zM382.34 237.56h0.5v0.5h-0.5zM385.25 236.52h0.5v0.5h-0.5zM379.02 235.8h0.5v0.5h-0.5zM382.71 239.13h0.5v0.5h-0.5zM374.93 236.14h0.5v0.5h-0.5zM375.84 237.13h0.5v0.5h-0.5zM382.36 236.51h0.5v0.5h-0.5zM383.62 236.18h0.5v0.5h-0.5zM379.23 236.09h0.5v0.5h-0.5zM384.52 234.75h0.5v0.5h-0.5zM381.16 231.6h0.5v0.5h-0.5zM384.4 233.63h0.5v0.5h-0.5zM378.95 233.8h0.5v0.5h-0.5zM378.61 234.36h0.5v0.5h-0.5zM384.73 237.35h0.5v0.5h-0.5zM385.16 239.34h0.5v0.5h-0.5zM378.51 236.46h0.5v0.5h-0.5zM385.37 241.66h0.5v0.5h-0.5zM377.03 231h0.5v0.5h-0.5zM382.42 234.12h0.5v0.5h-0.5zM378.23 236.17h0.5v0.5h-0.5zM378.82 228.58h0.5v0.5h-0.5zM381.01 235.43h0.5v0.5h-0.5zM382.9 237.77h0.5v0.5h-0.5zM381.6 234.4h0.5v0.5h-0.5zM379.16 230.35h0.5v0.5h-0.5zM379.82 237.93h0.5v0.5h-0.5zM382.93 240.94h0.5v0.5h-0.5zM380.63 229.96h0.5v0.5h-0.5zM383.44 238.04h0.5v0.5h-0.5zM377.72 230.44h0.5v0.5h-0.5zM381.5 237.1h0.5v0.5h-0.5zM377.86 234.09h0.5v0.5h-0.5zM378.84 231.68h0.5v0.5h-0.5zM377.29 235.46h0.5v0.5h-0.5zM379.99 233.14h0.5v0.5h-0.5zM373.59 240.06h0.5v0.5h-0.5zM378.35 234.66h0.5v0.5h-0.5z"/>
</g>
<path d="M358.4 205H415.5V264.6" stroke="#555" stroke-width="0.9" fill="none"/>
<path d="M358.4 205V264.6H415.5" stroke="#222" stroke-width="1.0" fill="none"/>
<path d="M358.4 264.6v2.2M358.4 264.6h-2.2M362.7 264.6v1.2M358.4 260.1h-1.2M365.2 264.6v1.2M358.4 257.5h-1.2M367 264.6v1.2M358.4 255.6h-1.2M368.4 264.6v1.2M358.4 254.2h-1.2M369.5 264.6v1.2M358.4 253h-1.2M370.5 264.6v1.2M358.4 252h-1.2M371.3 264.6v1.2M358.4 251.1h-1.2M372 264.6v1.2M358.4 250.4h-1.2M372.7 264.6v2.2M358.4 249.7h-2.2M377 264.6v1.2M358.4 245.2h-1.2M379.5 264.6v1.2M358.4 242.6h-1.2M381.3 264.6v1.2M358.4 240.7h-1.2M382.7 264.6v1.2M358.4 239.3h-1.2M383.8 264.6v1.2M358.4 238.1h-1.2M384.7 264.6v1.2M358.4 237.1h-1.2M385.6 264.6v1.2M358.4 236.2h-1.2M386.3 264.6v1.2M358.4 235.5h-1.2M386.9 264.6v2.2M358.4 234.8h-2.2M391.2 264.6v1.2M358.4 230.3h-1.2M393.8 264.6v1.2M358.4 227.7h-1.2M395.5 264.6v1.2M358.4 225.8h-1.2M396.9 264.6v1.2M358.4 224.4h-1.2M398.1 264.6v1.2M358.4 223.2h-1.2M399 264.6v1.2M358.4 222.2h-1.2M399.8 264.6v1.2M358.4 221.3h-1.2M400.6 264.6v1.2M358.4 220.6h-1.2M401.2 264.6v2.2M358.4 219.9h-2.2M405.5 264.6v1.2M358.4 215.4h-1.2M408 264.6v1.2M358.4 212.8h-1.2M409.8 264.6v1.2M358.4 210.9h-1.2M411.2 264.6v1.2M358.4 209.5h-1.2M412.3 264.6v1.2M358.4 208.3h-1.2M413.3 264.6v1.2M358.4 207.3h-1.2M414.1 264.6v1.2M358.4 206.4h-1.2M414.8 264.6v1.2M358.4 205.7h-1.2M415.5 264.6v2.2M358.4 205h-2.2" stroke="#222" stroke-width="0.6" fill="none"/>
<text x="358.3" y="271.7" font-size="4.7" fill="#000" font-weight="bold" text-anchor="middle">10</text>
<text x="360.8" y="269.5" font-size="4.3" fill="#000" font-weight="bold">0</text>
<text font-size="4.7" fill="#000" font-weight="bold" text-anchor="middle" transform="translate(354.7,264.6) rotate(-90)">10</text>
<text font-size="4.3" fill="#000" font-weight="bold" transform="translate(352.7,261.8) rotate(-90)">0</text>
<text x="372.2" y="271.7" font-size="4.7" fill="#000" font-weight="bold" text-anchor="middle">10</text>
<text x="374.7" y="269.5" font-size="4.3" fill="#000" font-weight="bold">1</text>
<text font-size="4.7" fill="#000" font-weight="bold" text-anchor="middle" transform="translate(354.7,250.1) rotate(-90)">10</text>
<text font-size="4.3" fill="#000" font-weight="bold" transform="translate(352.7,247.3) rotate(-90)">1</text>
<text x="386.1" y="271.7" font-size="4.7" fill="#000" font-weight="bold" text-anchor="middle">10</text>
<text x="388.6" y="269.5" font-size="4.3" fill="#000" font-weight="bold">2</text>
<text font-size="4.7" fill="#000" font-weight="bold" text-anchor="middle" transform="translate(354.7,235.6) rotate(-90)">10</text>
<text font-size="4.3" fill="#000" font-weight="bold" transform="translate(352.7,232.8) rotate(-90)">2</text>
<text x="400" y="271.7" font-size="4.7" fill="#000" font-weight="bold" text-anchor="middle">10</text>
<text x="402.5" y="269.5" font-size="4.3" fill="#000" font-weight="bold">3</text>
<text font-size="4.7" fill="#000" font-weight="bold" text-anchor="middle" transform="translate(354.7,221.1) rotate(-90)">10</text>
<text font-size="4.3" fill="#000" font-weight="bold" transform="translate(352.7,218.3) rotate(-90)">3</text>
<text x="413.9" y="271.7" font-size="4.7" fill="#000" font-weight="bold" text-anchor="middle">10</text>
<text x="416.4" y="269.5" font-size="4.3" fill="#000" font-weight="bold">4</text>
<text font-size="4.7" fill="#000" font-weight="bold" text-anchor="middle" transform="translate(354.7,206.6) rotate(-90)">10</text>
<text font-size="4.3" fill="#000" font-weight="bold" transform="translate(352.7,203.8) rotate(-90)">4</text>
<text font-size="9.0" font-weight="bold" stroke="#000" stroke-width="0.2" text-anchor="middle" transform="translate(340.3,230.5) rotate(-90) scale(1,1.1)">CD95</text>
<text font-size="9.0" font-weight="bold" stroke="#000" stroke-width="0.2" text-anchor="middle" transform="translate(384.8,284) scale(1,1.1)">CD3</text>
<clipPath id="c12"><rect x="458" y="204.8" width="57.4" height="59.2"/></clipPath>
<g stroke="#444" stroke-width="0.8" fill="none">
<line x1="476.4" y1="204.8" x2="476.4" y2="264"/>
<line x1="458" y1="244.6" x2="515.4" y2="244.6"/>
</g>
<g clip-path="url(#c12)">
<path fill="#000" stroke="#000" stroke-opacity="0.35" stroke-width="1.4" stroke-linejoin="round" d="M458.5 216.8 L460 216.4 L463.9 214.4 L467.8 212.9 L470.8 213.4 L472.3 215.9 L472.3 219.8 L470.3 223.8 L467.8 226.2 L464.9 228.2 L461.4 228.2 L459 227.2 L458.5 226.7Z"/>
<path fill="#000" d="M470.83 215.04h0.6v0.6h-0.6zM464.73 219.38h0.6v0.6h-0.6zM457.6 224.6h0.6v0.6h-0.6zM455.15 219.17h0.6v0.6h-0.6zM468.99 229h0.6v0.6h-0.6zM472.54 214.08h0.6v0.6h-0.6zM467.06 222.4h0.6v0.6h-0.6zM472.49 216.58h0.6v0.6h-0.6zM461.15 221.5h0.6v0.6h-0.6zM478.67 226.21h0.6v0.6h-0.6zM455.11 215.8h0.6v0.6h-0.6zM468.52 217.35h0.6v0.6h-0.6zM469.4 225.14h0.6v0.6h-0.6zM460.85 215.68h0.6v0.6h-0.6zM454.88 228.99h0.6v0.6h-0.6zM459.95 226.93h0.6v0.6h-0.6zM457.32 224.97h0.6v0.6h-0.6zM456.31 225.75h0.6v0.6h-0.6zM464.45 225.14h0.6v0.6h-0.6zM470.84 214.72h0.6v0.6h-0.6zM466.75 232.07h0.6v0.6h-0.6zM468.53 221.83h0.6v0.6h-0.6zM472.45 224.03h0.6v0.6h-0.6zM471.96 219.39h0.6v0.6h-0.6zM465.83 214.54h0.6v0.6h-0.6zM461.42 223.14h0.6v0.6h-0.6zM465.31 220.69h0.6v0.6h-0.6zM466.4 219.82h0.6v0.6h-0.6zM457.46 216.59h0.6v0.6h-0.6zM470.82 219.77h0.6v0.6h-0.6zM462.02 226.57h0.6v0.6h-0.6zM466.98 219.64h0.6v0.6h-0.6zM451.79 224.07h0.6v0.6h-0.6zM466.98 229.68h0.6v0.6h-0.6zM459.41 223.26h0.6v0.6h-0.6zM457.69 223.76h0.6v0.6h-0.6zM459.84 211.65h0.6v0.6h-0.6zM452.81 235.37h0.6v0.6h-0.6zM463.02 218.55h0.6v0.6h-0.6zM472.72 220.68h0.6v0.6h-0.6zM453.83 229.11h0.6v0.6h-0.6zM468.15 213.83h0.6v0.6h-0.6zM466.29 225.96h0.6v0.6h-0.6zM459.61 217.55h0.6v0.6h-0.6zM457.12 218.8h0.6v0.6h-0.6zM462.01 212.1h0.6v0.6h-0.6zM464.49 210.53h0.6v0.6h-0.6zM460.3 215.21h0.6v0.6h-0.6zM466.5 226.24h0.6v0.6h-0.6zM474.56 221.32h0.6v0.6h-0.6zM464.69 221.79h0.6v0.6h-0.6zM467.92 222.4h0.6v0.6h-0.6zM466.33 226.89h0.6v0.6h-0.6zM470.08 224.03h0.6v0.6h-0.6zM469.34 221.61h0.6v0.6h-0.6zM459.81 222.47h0.6v0.6h-0.6zM457.4 225.27h0.6v0.6h-0.6zM466.59 224.95h0.6v0.6h-0.6zM468.91 238.65h0.6v0.6h-0.6zM468.22 226.34h0.6v0.6h-0.6zM461.86 207.01h0.6v0.6h-0.6zM468.21 227.75h0.6v0.6h-0.6zM455.18 234.08h0.6v0.6h-0.6zM458.72 223.05h0.6v0.6h-0.6zM459.9 212.93h0.6v0.6h-0.6zM463.68 217.72h0.6v0.6h-0.6zM463.3 226.83h0.6v0.6h-0.6zM483.34 207.67h0.6v0.6h-0.6zM467.37 218.5h0.6v0.6h-0.6zM462 225.02h0.6v0.6h-0.6zM472.94 215.39h0.6v0.6h-0.6zM468.47 216.42h0.6v0.6h-0.6zM472.02 204.16h0.6v0.6h-0.6zM469.42 220.64h0.6v0.6h-0.6zM462.49 215.62h0.6v0.6h-0.6zM458.33 224.86h0.6v0.6h-0.6zM461.34 215.95h0.6v0.6h-0.6zM461.23 227.61h0.6v0.6h-0.6zM468.07 214.55h0.6v0.6h-0.6zM458.91 221.14h0.6v0.6h-0.6zM478.64 212.53h0.6v0.6h-0.6zM467.62 225.14h0.6v0.6h-0.6zM479.91 215.9h0.6v0.6h-0.6zM457.32 226.65h0.6v0.6h-0.6zM461.59 221.39h0.6v0.6h-0.6zM457.38 224.6h0.6v0.6h-0.6zM460.38 226.85h0.6v0.6h-0.6zM460.36 215.4h0.6v0.6h-0.6zM454.63 226.32h0.6v0.6h-0.6zM469.52 220.19h0.6v0.6h-0.6zM453.71 208.61h0.6v0.6h-0.6zM459.83 220.24h0.6v0.6h-0.6zM459.07 217.73h0.6v0.6h-0.6zM460.37 220.27h0.6v0.6h-0.6zM480.49 212.35h0.6v0.6h-0.6zM463.55 221.64h0.6v0.6h-0.6zM464.69 222.23h0.6v0.6h-0.6zM462.59 222.64h0.6v0.6h-0.6zM472.48 219.91h0.6v0.6h-0.6zM470.51 224.84h0.6v0.6h-0.6zM462.63 216.3h0.6v0.6h-0.6zM453.7 225.66h0.6v0.6h-0.6zM465.64 222.81h0.6v0.6h-0.6zM468.2 214.29h0.6v0.6h-0.6zM463.13 227.35h0.6v0.6h-0.6zM469.01 214.25h0.6v0.6h-0.6zM470.79 224.88h0.6v0.6h-0.6zM466.1 219.46h0.6v0.6h-0.6zM458.56 234.82h0.6v0.6h-0.6zM468.29 218.8h0.6v0.6h-0.6zM458.33 218.17h0.6v0.6h-0.6zM463.83 221.02h0.6v0.6h-0.6zM466.25 211.76h0.6v0.6h-0.6zM471.98 215.11h0.6v0.6h-0.6zM467.47 212.32h0.6v0.6h-0.6zM470.34 224.25h0.6v0.6h-0.6zM460.51 214.89h0.6v0.6h-0.6zM464.75 224.45h0.6v0.6h-0.6zM453.03 221.33h0.6v0.6h-0.6zM462.78 216.38h0.6v0.6h-0.6zM464.28 213.65h0.6v0.6h-0.6zM453.01 225.72h0.6v0.6h-0.6zM469.34 211.45h0.6v0.6h-0.6zM465.44 221.98h0.6v0.6h-0.6zM463.45 229.18h0.6v0.6h-0.6zM467 221.98h0.6v0.6h-0.6zM450.65 221.34h0.6v0.6h-0.6zM450.32 231.82h0.6v0.6h-0.6zM465.87 224.75h0.6v0.6h-0.6zM471.28 213.82h0.6v0.6h-0.6zM464.8 223.87h0.6v0.6h-0.6zM469.66 211.46h0.6v0.6h-0.6zM467.02 217.45h0.6v0.6h-0.6zM465.65 225.54h0.6v0.6h-0.6zM457.31 220.22h0.6v0.6h-0.6zM467.93 218.13h0.6v0.6h-0.6zM462.96 221.6h0.6v0.6h-0.6zM465.99 217.52h0.6v0.6h-0.6zM469.85 219.4h0.6v0.6h-0.6zM476.16 219.67h0.6v0.6h-0.6zM468.33 216.65h0.6v0.6h-0.6zM463.39 218.25h0.6v0.6h-0.6zM478.21 208.24h0.6v0.6h-0.6zM471.85 223.9h0.6v0.6h-0.6zM455.27 223.55h0.6v0.6h-0.6zM459.55 218.85h0.6v0.6h-0.6zM456.74 224.33h0.6v0.6h-0.6zM473.49 218.38h0.6v0.6h-0.6zM464.99 220.98h0.6v0.6h-0.6zM458.7 230.62h0.6v0.6h-0.6z"/>
<path fill="#000" d="M474.72 214.73h0.4v0.4h-0.4zM470.76 220.44h0.4v0.4h-0.4zM472.6 221.01h0.4v0.4h-0.4zM475.48 217.87h0.4v0.4h-0.4zM473.94 221.83h0.4v0.4h-0.4zM474.7 214.17h0.4v0.4h-0.4zM474.28 220.1h0.4v0.4h-0.4zM474.35 218.65h0.4v0.4h-0.4zM473.65 217.42h0.4v0.4h-0.4zM472.08 212.19h0.4v0.4h-0.4zM476.19 215.35h0.4v0.4h-0.4zM474.39 211.91h0.4v0.4h-0.4zM474.26 214.59h0.4v0.4h-0.4zM479.86 213.83h0.4v0.4h-0.4zM472.02 221.64h0.4v0.4h-0.4zM476.21 209.5h0.4v0.4h-0.4zM474.45 221.39h0.4v0.4h-0.4zM471.51 220.61h0.4v0.4h-0.4zM472.89 213.92h0.4v0.4h-0.4zM473.25 216.05h0.4v0.4h-0.4zM471.18 226.79h0.4v0.4h-0.4zM473.04 214.92h0.4v0.4h-0.4zM475.64 217.6h0.4v0.4h-0.4zM476.59 216.82h0.4v0.4h-0.4zM474.64 218.26h0.4v0.4h-0.4zM464.55 232.29h0.4v0.4h-0.4zM463.47 237.91h0.4v0.4h-0.4zM461.18 231.29h0.4v0.4h-0.4zM462.52 234.61h0.4v0.4h-0.4zM465.48 235.7h0.4v0.4h-0.4zM458.56 233.69h0.4v0.4h-0.4zM463.18 232.06h0.4v0.4h-0.4zM464.53 227.05h0.4v0.4h-0.4zM464.97 233.34h0.4v0.4h-0.4zM458.22 232.63h0.4v0.4h-0.4zM470.03 231.76h0.4v0.4h-0.4zM466.24 232.24h0.4v0.4h-0.4zM460.67 230.18h0.4v0.4h-0.4zM462.31 236.78h0.4v0.4h-0.4zM467.12 230.81h0.4v0.4h-0.4zM467.84 232.53h0.4v0.4h-0.4zM461.15 234.19h0.4v0.4h-0.4zM460.27 228.25h0.4v0.4h-0.4zM469.01 227.49h0.4v0.4h-0.4zM466.03 228.39h0.4v0.4h-0.4zM463.77 232.33h0.4v0.4h-0.4zM462.15 226.43h0.4v0.4h-0.4zM463.46 232.81h0.4v0.4h-0.4zM460.34 232.72h0.4v0.4h-0.4zM467.82 230.79h0.4v0.4h-0.4zM491.82 214.18h0.4v0.4h-0.4zM492.81 223.03h0.4v0.4h-0.4zM509.4 224.34h0.4v0.4h-0.4zM493.21 226.83h0.4v0.4h-0.4zM481.94 225.16h0.4v0.4h-0.4zM485.49 216.82h0.4v0.4h-0.4zM498.45 221.03h0.4v0.4h-0.4zM500.27 212.73h0.4v0.4h-0.4zM491.96 217.29h0.4v0.4h-0.4zM487.68 210.48h0.4v0.4h-0.4zM497.21 220.92h0.4v0.4h-0.4zM482.05 213.26h0.4v0.4h-0.4zM482.98 226.78h0.4v0.4h-0.4zM489.05 218.26h0.4v0.4h-0.4zM493.73 219.96h0.4v0.4h-0.4zM502.12 217.5h0.4v0.4h-0.4zM481.07 240.89h0.4v0.4h-0.4zM504.93 206.39h0.4v0.4h-0.4z"/>
<path fill="#fff" d="M462.34 217.57h0.5v0.5h-0.5zM463.96 220.86h0.5v0.5h-0.5zM459.69 220.29h0.5v0.5h-0.5zM459.33 220.83h0.5v0.5h-0.5zM466.18 221.92h0.5v0.5h-0.5zM464.34 220.6h0.5v0.5h-0.5zM467.83 229.29h0.5v0.5h-0.5zM461.2 230.44h0.5v0.5h-0.5zM465.09 221.29h0.5v0.5h-0.5zM461.71 222.62h0.5v0.5h-0.5zM456.63 220.78h0.5v0.5h-0.5zM459.23 217.2h0.5v0.5h-0.5zM469.27 223.24h0.5v0.5h-0.5zM449.3 226.07h0.5v0.5h-0.5zM465.21 221.94h0.5v0.5h-0.5zM465.26 222.99h0.5v0.5h-0.5zM468.35 222.72h0.5v0.5h-0.5zM469.39 217.47h0.5v0.5h-0.5zM462.32 214.79h0.5v0.5h-0.5zM460.31 218.59h0.5v0.5h-0.5zM474.12 225.56h0.5v0.5h-0.5zM462.17 216.61h0.5v0.5h-0.5zM463.58 222.37h0.5v0.5h-0.5zM467.26 224.81h0.5v0.5h-0.5zM459.97 211.42h0.5v0.5h-0.5zM466.77 216.95h0.5v0.5h-0.5zM465.79 227.77h0.5v0.5h-0.5zM459.52 218.48h0.5v0.5h-0.5zM459.95 225.57h0.5v0.5h-0.5zM470.51 224.25h0.5v0.5h-0.5zM462.14 220.99h0.5v0.5h-0.5zM467.66 216.41h0.5v0.5h-0.5zM468.94 218.96h0.5v0.5h-0.5zM463.99 220.66h0.5v0.5h-0.5zM463.59 219.8h0.5v0.5h-0.5zM461.44 223.32h0.5v0.5h-0.5zM462.66 224.59h0.5v0.5h-0.5zM463.46 220.97h0.5v0.5h-0.5zM462.67 221.8h0.5v0.5h-0.5zM469.18 217.49h0.5v0.5h-0.5zM461.29 222.61h0.5v0.5h-0.5zM465.38 219.67h0.5v0.5h-0.5zM462.75 221.59h0.5v0.5h-0.5zM465.38 222.76h0.5v0.5h-0.5zM461.02 215.84h0.5v0.5h-0.5zM453.84 216.68h0.5v0.5h-0.5zM469.17 223.32h0.5v0.5h-0.5zM468.22 219.09h0.5v0.5h-0.5zM467.29 218.92h0.5v0.5h-0.5zM459.54 217.58h0.5v0.5h-0.5zM459.95 222.19h0.5v0.5h-0.5zM470.94 224.71h0.5v0.5h-0.5zM463.39 224.33h0.5v0.5h-0.5zM462.72 218.91h0.5v0.5h-0.5zM456.66 224.1h0.5v0.5h-0.5zM458.65 224.71h0.5v0.5h-0.5zM462.96 221.8h0.5v0.5h-0.5zM464.58 223.9h0.5v0.5h-0.5zM463.29 227.1h0.5v0.5h-0.5zM458.9 226.47h0.5v0.5h-0.5z"/>
</g>
<path d="M458 204.8H515.4V264" stroke="#555" stroke-width="0.9" fill="none"/>
<path d="M458 204.8V264H515.4" stroke="#222" stroke-width="1.0" fill="none"/>
<path d="M458 264v2.2M458 264h-2.2M462.3 264v1.2M458 259.5h-1.2M464.8 264v1.2M458 256.9h-1.2M466.6 264v1.2M458 255.1h-1.2M468 264v1.2M458 253.7h-1.2M469.2 264v1.2M458 252.5h-1.2M470.1 264v1.2M458 251.5h-1.2M471 264v1.2M458 250.6h-1.2M471.7 264v1.2M458 249.9h-1.2M472.4 264v2.2M458 249.2h-2.2M476.7 264v1.2M458 244.7h-1.2M479.2 264v1.2M458 242.1h-1.2M481 264v1.2M458 240.3h-1.2M482.4 264v1.2M458 238.9h-1.2M483.5 264v1.2M458 237.7h-1.2M484.5 264v1.2M458 236.7h-1.2M485.3 264v1.2M458 235.8h-1.2M486 264v1.2M458 235.1h-1.2M486.7 264v2.2M458 234.4h-2.2M491 264v1.2M458 229.9h-1.2M493.5 264v1.2M458 227.3h-1.2M495.3 264v1.2M458 225.5h-1.2M496.7 264v1.2M458 224.1h-1.2M497.9 264v1.2M458 222.9h-1.2M498.8 264v1.2M458 221.9h-1.2M499.7 264v1.2M458 221h-1.2M500.4 264v1.2M458 220.3h-1.2M501 264v2.2M458 219.6h-2.2M505.4 264v1.2M458 215.1h-1.2M507.9 264v1.2M458 212.5h-1.2M509.7 264v1.2M458 210.7h-1.2M511.1 264v1.2M458 209.3h-1.2M512.2 264v1.2M458 208.1h-1.2M513.2 264v1.2M458 207.1h-1.2M514 264v1.2M458 206.2h-1.2M514.7 264v1.2M458 205.5h-1.2M515.4 264v2.2M458 204.8h-2.2" stroke="#222" stroke-width="0.6" fill="none"/>
<text x="457.9" y="271.1" font-size="4.7" fill="#000" font-weight="bold" text-anchor="middle">10</text>
<text x="460.4" y="268.9" font-size="4.3" fill="#000" font-weight="bold">0</text>
<text font-size="4.7" fill="#000" font-weight="bold" text-anchor="middle" transform="translate(454.3,264) rotate(-90)">10</text>
<text font-size="4.3" fill="#000" font-weight="bold" transform="translate(452.3,261.2) rotate(-90)">0</text>
<text x="471.9" y="271.1" font-size="4.7" fill="#000" font-weight="bold" text-anchor="middle">10</text>
<text x="474.4" y="268.9" font-size="4.3" fill="#000" font-weight="bold">1</text>
<text font-size="4.7" fill="#000" font-weight="bold" text-anchor="middle" transform="translate(454.3,249.6) rotate(-90)">10</text>
<text font-size="4.3" fill="#000" font-weight="bold" transform="translate(452.3,246.8) rotate(-90)">1</text>
<text x="485.8" y="271.1" font-size="4.7" fill="#000" font-weight="bold" text-anchor="middle">10</text>
<text x="488.3" y="268.9" font-size="4.3" fill="#000" font-weight="bold">2</text>
<text font-size="4.7" fill="#000" font-weight="bold" text-anchor="middle" transform="translate(454.3,235.2) rotate(-90)">10</text>
<text font-size="4.3" fill="#000" font-weight="bold" transform="translate(452.3,232.4) rotate(-90)">2</text>
<text x="499.8" y="271.1" font-size="4.7" fill="#000" font-weight="bold" text-anchor="middle">10</text>
<text x="502.3" y="268.9" font-size="4.3" fill="#000" font-weight="bold">3</text>
<text font-size="4.7" fill="#000" font-weight="bold" text-anchor="middle" transform="translate(454.3,220.8) rotate(-90)">10</text>
<text font-size="4.3" fill="#000" font-weight="bold" transform="translate(452.3,218) rotate(-90)">3</text>
<text x="513.8" y="271.1" font-size="4.7" fill="#000" font-weight="bold" text-anchor="middle">10</text>
<text x="516.3" y="268.9" font-size="4.3" fill="#000" font-weight="bold">4</text>
<text font-size="4.7" fill="#000" font-weight="bold" text-anchor="middle" transform="translate(454.3,206.4) rotate(-90)">10</text>
<text font-size="4.3" fill="#000" font-weight="bold" transform="translate(452.3,203.6) rotate(-90)">4</text>
<text font-size="9.0" font-weight="bold" stroke="#000" stroke-width="0.2" text-anchor="middle" transform="translate(445.5,231.1) rotate(-90) scale(1,1.1)">CD3</text>
<text font-size="9.0" font-weight="bold" stroke="#000" stroke-width="0.2" text-anchor="middle" transform="translate(484.2,284) scale(1,1.1)">CLA</text>
</g>
</svg></body></html>
